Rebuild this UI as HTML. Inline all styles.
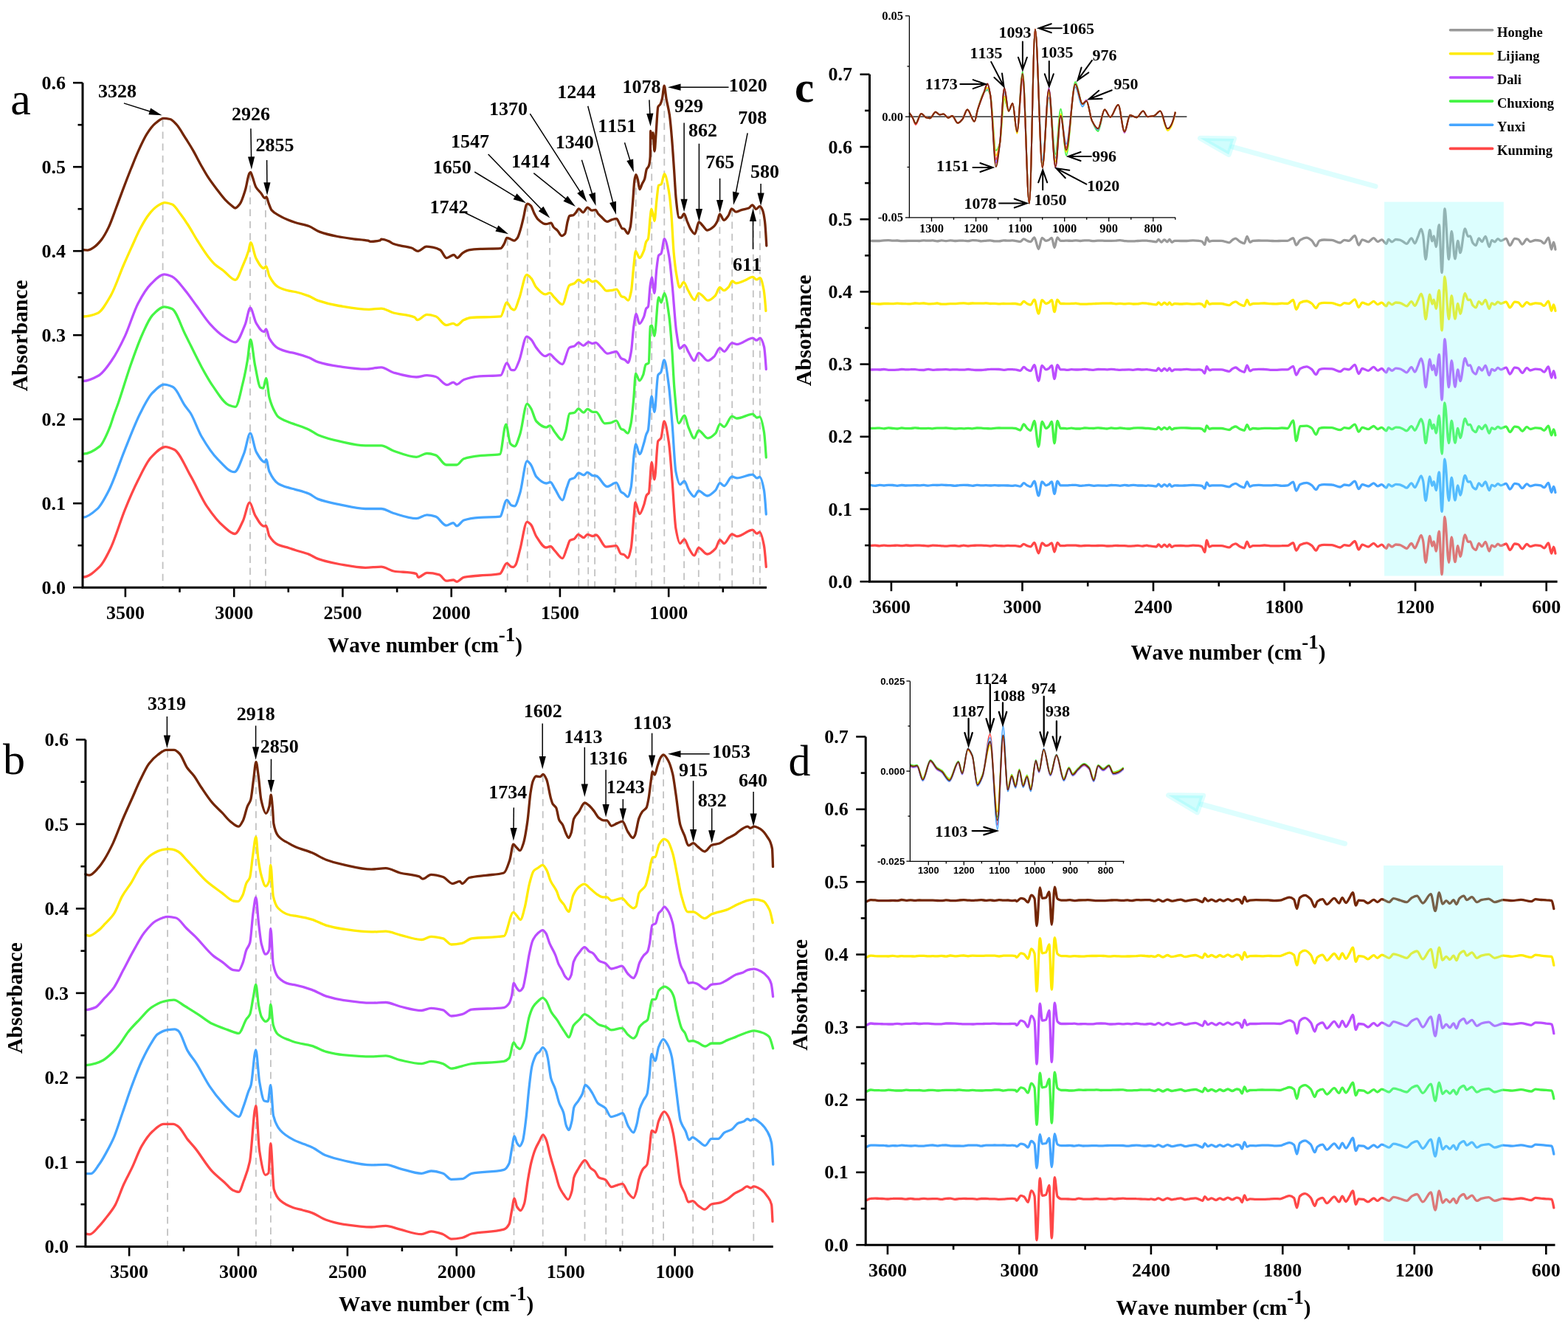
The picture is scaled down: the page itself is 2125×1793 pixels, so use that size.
<!DOCTYPE html>
<html><head><meta charset="utf-8"><title>FTIR spectra</title>
<style>html,body{margin:0;padding:0;background:#fff;}svg{display:block;} text{font-kerning:none;font-feature-settings:"kern" 0;}</style></head>
<body><svg width="2125" height="1793" viewBox="0 0 2125 1793">
<rect width="2125" height="1793" fill="#fff"/>
<line x1="220.6" y1="162.2" x2="220.6" y2="796.2" stroke="#c2c2c2" stroke-width="1.8" stroke-dasharray="9.5,6.7"/>
<line x1="339.0" y1="235.0" x2="339.0" y2="796.2" stroke="#c2c2c2" stroke-width="1.8" stroke-dasharray="9.5,6.7"/>
<line x1="359.9" y1="268.8" x2="359.9" y2="796.2" stroke="#c2c2c2" stroke-width="1.8" stroke-dasharray="9.5,6.7"/>
<line x1="687.7" y1="323.6" x2="687.7" y2="796.2" stroke="#c2c2c2" stroke-width="1.8" stroke-dasharray="9.5,6.7"/>
<line x1="714.8" y1="277.4" x2="714.8" y2="796.2" stroke="#c2c2c2" stroke-width="1.8" stroke-dasharray="9.5,6.7"/>
<line x1="745.1" y1="303.6" x2="745.1" y2="796.2" stroke="#c2c2c2" stroke-width="1.8" stroke-dasharray="9.5,6.7"/>
<line x1="784.3" y1="283.9" x2="784.3" y2="796.2" stroke="#c2c2c2" stroke-width="1.8" stroke-dasharray="9.5,6.7"/>
<line x1="797.2" y1="282.8" x2="797.2" y2="796.2" stroke="#c2c2c2" stroke-width="1.8" stroke-dasharray="9.5,6.7"/>
<line x1="806.1" y1="285.5" x2="806.1" y2="796.2" stroke="#c2c2c2" stroke-width="1.8" stroke-dasharray="9.5,6.7"/>
<line x1="834.3" y1="297.6" x2="834.3" y2="796.2" stroke="#c2c2c2" stroke-width="1.8" stroke-dasharray="9.5,6.7"/>
<line x1="861.7" y1="238.2" x2="861.7" y2="796.2" stroke="#c2c2c2" stroke-width="1.8" stroke-dasharray="9.5,6.7"/>
<line x1="883.2" y1="187.0" x2="883.2" y2="796.2" stroke="#c2c2c2" stroke-width="1.8" stroke-dasharray="9.5,6.7"/>
<line x1="900.3" y1="117.9" x2="900.3" y2="796.2" stroke="#c2c2c2" stroke-width="1.8" stroke-dasharray="9.5,6.7"/>
<line x1="927.1" y1="290.6" x2="927.1" y2="796.2" stroke="#c2c2c2" stroke-width="1.8" stroke-dasharray="9.5,6.7"/>
<line x1="946.8" y1="302.6" x2="946.8" y2="796.2" stroke="#c2c2c2" stroke-width="1.8" stroke-dasharray="9.5,6.7"/>
<line x1="975.4" y1="291.2" x2="975.4" y2="796.2" stroke="#c2c2c2" stroke-width="1.8" stroke-dasharray="9.5,6.7"/>
<line x1="992.2" y1="284.3" x2="992.2" y2="796.2" stroke="#c2c2c2" stroke-width="1.8" stroke-dasharray="9.5,6.7"/>
<line x1="1020.8" y1="280.0" x2="1020.8" y2="796.2" stroke="#c2c2c2" stroke-width="1.8" stroke-dasharray="9.5,6.7"/>
<line x1="1029.9" y1="280.9" x2="1029.9" y2="796.2" stroke="#c2c2c2" stroke-width="1.8" stroke-dasharray="9.5,6.7"/>
<path d="M113.0,782.0C120.4,782.0 127.8,775.0 135.2,767.9C140.1,763.2 145.1,752.9 150.0,742.7C156.4,729.4 162.9,706.5 169.3,690.8C175.2,676.3 181.2,662.5 187.1,650.8C193.0,639.1 199.0,625.8 204.9,619.7C211.3,613.0 217.8,605.6 224.2,605.6C228.1,605.6 232.1,607.4 236.0,609.3C243.4,612.9 250.9,632.1 258.3,644.9C265.7,657.6 273.1,675.6 280.5,686.4C287.9,697.2 295.3,706.9 302.7,713.1C307.9,717.5 313.1,723.5 318.3,723.5C322.0,723.5 325.7,713.3 329.4,705.7C332.4,699.6 335.3,681.2 338.3,681.2C340.8,681.2 343.2,694.2 345.7,698.3C349.7,704.9 353.6,713.1 357.6,713.1C358.6,713.1 359.6,712.3 360.6,712.3C362.1,712.3 363.5,724.0 365.0,726.4C369.0,733.0 372.9,736.4 376.9,738.3C381.8,740.6 386.8,741.1 391.7,742.7C394.5,743.6 397.2,744.6 400.0,745.5C406.3,747.6 412.7,748.9 419.0,751.4C423.0,753.0 427.0,756.0 431.0,757.4C440.5,760.7 450.0,762.8 459.5,764.5C471.4,766.6 483.3,769.3 495.2,769.3C502.4,769.3 509.5,768.1 516.7,768.1C522.2,768.1 527.8,773.0 533.3,774.0C543.6,775.9 554.0,774.6 564.3,777.6C565.1,777.8 565.9,782.4 566.7,782.4C570.7,782.4 574.6,776.4 578.6,776.4C584.1,776.4 589.7,777.3 595.2,778.8C598.4,779.6 601.6,787.1 604.8,787.1C608.0,787.1 611.1,786.0 614.3,786.0C615.9,786.0 617.4,788.3 619.0,788.3C622.2,788.3 625.4,783.1 628.6,782.4C635.7,780.9 642.9,780.7 650.0,780.0C659.1,779.1 668.3,779.4 677.4,777.6C680.6,777.0 683.7,763.3 686.9,763.3C688.9,763.3 690.9,767.7 692.9,768.1C693.9,768.3 694.9,768.5 695.9,768.5C696.9,768.5 697.8,767.0 698.8,765.5C700.8,762.5 702.7,752.1 704.7,744.9C707.9,733.1 711.1,707.3 714.3,707.3C716.0,707.3 717.8,709.2 719.5,711.0C722.0,713.6 724.4,723.4 726.9,727.2C731.3,733.9 735.7,742.0 740.1,742.0C742.1,742.0 744.0,740.5 746.0,740.5C748.0,740.5 749.9,744.4 751.9,746.4C755.3,749.8 758.8,756.7 762.2,756.7C764.2,756.7 766.1,748.1 768.1,743.4C769.6,739.9 771.0,733.4 772.5,732.4C774.5,731.1 776.4,731.3 778.4,730.2C780.1,729.2 781.9,724.3 783.6,724.3C786.1,724.3 788.5,728.7 791.0,728.7C792.7,728.7 794.4,724.3 796.1,724.3C798.6,724.3 801.0,726.5 803.5,726.5C805.0,726.5 806.4,725.0 807.9,725.0C812.3,725.0 816.8,741.2 821.2,741.2C825.9,741.2 830.5,739.7 835.2,739.7C837.4,739.7 839.6,750.1 841.8,750.8C843.0,751.2 844.3,751.1 845.5,751.5C847.2,752.0 849.0,756.0 850.7,756.0C852.2,756.0 853.6,750.1 855.1,743.4C856.6,736.7 858.0,709.4 859.5,694.8C860.0,689.8 860.5,680.8 861.0,680.8C862.9,680.8 864.9,696.5 866.8,696.5C868.7,696.5 870.7,689.7 872.6,684.5C873.9,681.1 875.1,672.9 876.4,671.0C877.4,669.5 878.3,669.8 879.3,668.1C880.6,665.9 881.8,626.7 883.1,626.7C884.4,626.7 885.7,649.8 887.0,649.8C888.6,649.8 890.2,600.6 891.8,597.8C893.1,595.5 894.4,596.1 895.7,593.9C897.2,591.5 898.6,570.8 900.1,570.8C902.2,570.8 904.2,585.2 906.3,598.8C907.9,609.3 909.5,633.3 911.1,652.7C912.7,672.1 914.3,707.3 915.9,716.3C917.8,727.2 919.8,736.5 921.7,736.5C923.6,736.5 925.6,730.8 927.5,730.8C929.4,730.8 931.3,739.2 933.2,742.3C935.8,746.5 938.3,752.9 940.9,752.9C942.8,752.9 944.8,742.3 946.7,742.3C950.6,742.3 954.4,751.0 958.3,751.0C962.1,751.0 966.0,747.4 969.8,743.3C971.7,741.2 973.7,731.7 975.6,731.7C977.5,731.7 979.5,736.5 981.4,736.5C984.9,736.5 988.5,724.0 992.0,724.0C994.3,724.0 996.5,726.9 998.8,726.9C1005.9,726.9 1012.9,718.2 1020.0,718.2C1021.9,718.2 1023.8,723.1 1025.7,723.1C1027.0,723.1 1028.3,721.1 1029.6,721.1C1031.5,721.1 1033.5,729.6 1035.4,739.4C1036.4,744.3 1037.3,756.5 1038.3,768.3" fill="none" stroke="#ff4747" stroke-width="3.3" stroke-linejoin="round" stroke-linecap="round"/>
<path d="M113.0,701.2C119.4,700.8 125.8,695.2 132.2,689.4C137.2,684.9 142.1,675.2 147.1,665.6C154.5,651.3 161.9,627.4 169.3,609.3C176.2,592.3 183.2,573.5 190.1,560.0C195.5,549.4 201.0,538.1 206.4,532.7C211.8,527.3 217.3,521.2 222.7,521.2C226.6,521.2 230.6,522.8 234.5,524.6C239.9,527.1 245.4,542.3 250.8,550.0C253.3,553.6 255.8,556.0 258.3,560.0C263.2,567.9 268.2,583.0 273.1,591.5C280.5,604.2 287.9,615.3 295.3,622.6C302.7,630.0 310.2,639.7 317.6,639.7C322.0,639.7 326.5,624.8 330.9,613.8C333.6,607.0 336.4,587.1 339.1,587.1C341.8,587.1 344.5,607.5 347.2,612.3C351.2,619.3 355.1,626.4 359.1,626.4C359.6,626.4 360.1,622.6 360.6,622.6C362.1,622.6 363.5,635.8 365.0,639.0C369.0,647.6 372.9,652.8 376.9,655.3C381.8,658.4 386.8,659.7 391.7,661.2C394.5,662.0 397.2,662.5 400.0,663.3C406.3,665.1 412.7,666.6 419.0,669.3C423.0,671.0 427.0,674.9 431.0,676.4C440.5,680.0 450.0,681.7 459.5,683.6C471.4,686.0 483.3,689.5 495.2,689.5C502.4,689.5 509.5,689.5 516.7,689.5C522.2,689.5 527.8,693.9 533.3,695.5C543.6,698.5 554.0,702.6 564.3,702.6C569.1,702.6 573.8,697.9 578.6,697.9C582.6,697.9 586.5,699.0 590.5,700.2C595.3,701.7 600.0,712.1 604.8,712.1C608.0,712.1 611.1,708.6 614.3,708.6C615.9,708.6 617.4,712.9 619.0,712.9C622.2,712.9 625.4,706.0 628.6,705.0C635.7,702.8 642.9,701.9 650.0,701.4C659.1,700.7 668.3,701.1 677.4,700.2C680.6,699.9 683.7,677.6 686.9,677.6C688.9,677.6 690.9,684.0 692.9,684.8C694.4,685.4 695.9,685.9 697.4,685.9C699.8,685.9 702.3,675.8 704.7,668.2C707.9,658.2 711.1,624.8 714.3,624.8C716.0,624.8 717.8,627.6 719.5,629.9C722.0,633.2 724.4,643.4 726.9,646.1C731.3,650.9 735.7,655.0 740.1,655.0C742.1,655.0 744.0,653.5 746.0,653.5C748.0,653.5 749.9,659.4 751.9,662.3C755.3,667.4 758.8,677.8 762.2,677.8C764.2,677.8 766.1,666.2 768.1,660.9C769.6,657.0 771.0,650.8 772.5,649.8C774.5,648.5 776.4,648.7 778.4,647.6C780.4,646.5 782.3,641.0 784.3,641.0C786.5,641.0 788.8,643.9 791.0,643.9C792.7,643.9 794.4,640.2 796.1,640.2C798.6,640.2 801.0,644.4 803.5,644.7C805.0,644.9 806.4,644.8 807.9,645.0C812.8,645.5 817.8,659.4 822.7,659.4C826.9,659.4 831.0,654.2 835.2,654.2C837.4,654.2 839.6,664.9 841.8,666.8C843.0,667.9 844.3,668.1 845.5,669.0C847.2,670.2 849.0,673.4 850.7,673.4C852.2,673.4 853.6,667.5 855.1,660.9C856.6,654.3 858.0,623.8 859.5,613.7C860.2,608.6 861.0,601.9 861.7,601.9C863.4,601.9 865.1,615.5 866.8,615.5C868.8,615.5 870.8,606.3 872.8,600.0C873.8,597.0 874.7,591.7 875.7,589.0C876.6,586.6 877.4,586.3 878.3,583.3C879.6,578.8 880.9,548.1 882.2,540.9C882.5,539.2 882.8,537.1 883.1,537.1C884.4,537.1 885.7,558.3 887.0,558.3C888.6,558.3 890.2,511.0 891.8,508.2C893.1,505.9 894.4,506.3 895.7,504.3C897.2,502.0 898.6,487.9 900.1,487.9C902.2,487.9 904.2,506.3 906.3,521.7C907.9,533.6 909.5,556.2 911.1,575.6C912.7,595.0 914.3,631.2 915.9,639.2C917.8,648.8 919.8,656.6 921.7,656.6C923.6,656.6 925.6,651.8 927.5,651.8C929.4,651.8 931.3,661.4 933.2,664.3C935.8,668.2 938.3,673.0 940.9,673.0C942.8,673.0 944.8,665.2 946.7,665.2C950.6,665.2 954.4,672.0 958.3,672.0C962.1,672.0 966.0,668.1 969.8,664.3C971.7,662.4 973.7,654.6 975.6,654.6C977.5,654.6 979.5,658.5 981.4,658.5C984.9,658.5 988.5,646.0 992.0,646.0C994.3,646.0 996.5,647.9 998.8,647.9C1005.9,647.9 1012.9,643.1 1020.0,643.1C1021.9,643.1 1023.8,647.9 1025.7,647.9C1027.0,647.9 1028.3,646.5 1029.6,646.5C1031.5,646.5 1033.5,654.3 1035.4,664.3C1036.4,669.3 1037.3,683.5 1038.3,697.0" fill="none" stroke="#45a5ff" stroke-width="3.3" stroke-linejoin="round" stroke-linecap="round"/>
<path d="M113.0,615.2C120.4,615.2 127.8,610.7 135.2,604.9C139.6,601.4 144.1,590.2 148.5,579.7C150.5,575.0 152.5,567.7 154.5,562.0C156.5,556.4 158.4,551.6 160.4,546.0C165.8,530.5 171.3,511.2 176.7,495.7C182.1,480.2 187.6,464.6 193.0,452.7C197.5,442.9 201.9,432.2 206.4,427.5C211.8,421.8 217.3,415.9 222.7,415.9C226.2,415.9 229.6,417.1 233.1,418.6C239.0,421.1 244.9,441.1 250.8,452.7C258.2,467.3 265.7,483.6 273.1,497.2C278.0,506.2 283.0,515.4 287.9,522.4C295.3,532.9 302.7,546.1 310.1,549.0C313.1,550.2 316.0,551.3 319.0,551.3C322.5,551.3 325.9,531.6 329.4,517.9C331.4,510.0 333.4,499.9 335.4,488.3C336.8,480.4 338.1,460.1 339.5,460.1C341.6,460.1 343.6,485.9 345.7,495.7C348.2,507.4 350.6,524.4 353.1,525.3C354.3,525.8 355.6,526.1 356.8,526.1C358.1,526.1 359.3,512.7 360.6,512.7C362.1,512.7 363.5,533.2 365.0,538.7C367.5,547.9 369.9,553.4 372.4,558.0C373.9,560.8 375.4,563.6 376.9,564.8C381.8,568.9 386.8,570.2 391.7,572.2C394.5,573.3 397.2,574.2 400.0,575.2C406.3,577.5 412.7,579.4 419.0,582.4C423.0,584.3 427.0,587.9 431.0,589.5C440.5,593.4 450.0,595.9 459.5,597.9C471.4,600.4 483.3,603.8 495.2,603.8C502.4,603.8 509.5,603.8 516.7,603.8C522.2,603.8 527.8,609.1 533.3,611.0C543.6,614.5 554.0,619.3 564.3,619.3C569.1,619.3 573.8,614.5 578.6,614.5C582.6,614.5 586.5,615.6 590.5,616.9C595.3,618.4 600.0,630.0 604.8,630.0C609.5,630.0 614.3,630.0 619.0,630.0C622.2,630.0 625.4,622.8 628.6,621.7C635.7,619.3 642.9,618.3 650.0,617.6C659.1,616.7 668.3,617.2 677.4,615.7C680.2,615.2 682.9,575.2 685.7,575.2C687.7,575.2 689.7,599.3 691.7,601.4C693.6,603.4 695.5,604.9 697.4,604.9C699.8,604.9 702.3,595.6 704.7,588.6C707.9,579.3 711.1,547.4 714.3,547.4C716.0,547.4 717.8,550.7 719.5,553.3C722.0,557.0 724.4,568.4 726.9,571.0C731.3,575.6 735.7,579.1 740.1,579.1C741.8,579.1 743.6,576.9 745.3,576.9C747.5,576.9 749.7,583.1 751.9,585.7C755.1,589.5 758.3,596.0 761.5,596.0C763.2,596.0 765.0,589.5 766.7,584.2C768.4,579.0 770.1,561.3 771.8,560.6C774.0,559.7 776.2,560.0 778.4,559.2C780.3,558.5 782.1,554.0 784.0,554.0C786.3,554.0 788.7,559.2 791.0,559.2C792.7,559.2 794.4,554.4 796.1,554.4C798.6,554.4 801.0,558.4 803.5,558.4C805.0,558.4 806.4,558.4 807.9,558.4C811.8,558.4 815.8,573.9 819.7,573.9C822.2,573.9 824.6,573.6 827.1,573.2C829.8,572.8 832.5,570.2 835.2,570.2C837.4,570.2 839.6,580.0 841.8,581.3C843.0,582.0 844.3,582.1 845.5,582.7C847.2,583.6 849.0,587.2 850.7,587.2C852.2,587.2 853.6,580.7 855.1,573.9C856.3,568.2 857.6,553.1 858.8,540.0C859.7,530.4 860.6,506.5 861.5,506.5C863.2,506.5 865.0,515.9 866.7,515.9C868.3,515.9 870.0,512.0 871.6,508.2C872.8,505.5 873.9,495.4 875.1,494.2C876.5,492.8 877.9,493.6 879.3,491.8C880.0,491.0 880.6,443.5 881.3,442.6C882.0,441.7 882.7,441.2 883.4,441.2C884.6,441.2 885.7,455.4 886.9,455.4C888.8,455.4 890.7,403.0 892.6,403.0C893.8,403.0 894.9,410.0 896.1,410.0C897.5,410.0 899.0,397.3 900.4,397.3C902.5,397.3 904.7,413.5 906.8,428.5C908.0,437.2 909.3,453.5 910.5,470.0C911.7,485.6 912.8,514.5 914.0,527.5C915.9,548.7 917.8,573.7 919.7,573.7C922.3,573.7 924.9,563.1 927.5,563.1C929.4,563.1 931.3,575.1 933.2,579.5C935.8,585.4 938.3,593.9 940.9,593.9C942.8,593.9 944.8,583.3 946.7,583.3C950.9,583.3 955.0,593.9 959.2,593.9C962.7,593.9 966.3,590.8 969.8,587.2C971.7,585.2 973.7,574.7 975.6,574.7C977.5,574.7 979.5,578.5 981.4,578.5C984.9,578.5 988.5,564.1 992.0,564.1C994.3,564.1 996.5,567.0 998.8,567.0C1005.9,567.0 1012.9,561.2 1020.0,561.2C1021.9,561.2 1023.8,566.0 1025.7,566.0C1027.0,566.0 1028.3,565.0 1029.6,565.0C1031.5,565.0 1033.5,574.2 1035.4,585.3C1036.4,590.9 1037.3,605.7 1038.3,620.0" fill="none" stroke="#45f545" stroke-width="3.3" stroke-linejoin="round" stroke-linecap="round"/>
<path d="M113.0,516.4C119.9,516.4 126.8,512.8 133.7,509.0C139.6,505.7 145.6,496.8 151.5,488.3C157.4,479.8 163.4,468.2 169.3,455.6C175.2,443.0 181.2,422.3 187.1,411.2C193.0,400.1 199.0,390.2 204.9,384.5C210.8,378.8 216.8,371.9 222.7,371.9C226.2,371.9 229.6,373.3 233.1,374.8C239.0,377.3 244.9,386.4 250.8,393.4C256.3,399.9 261.7,408.2 267.2,415.6C273.1,423.5 279.0,432.9 284.9,439.3C290.8,445.8 296.8,451.8 302.7,455.6C308.1,459.1 313.6,463.8 319.0,463.8C323.5,463.8 327.9,450.2 332.4,439.3C334.6,433.9 336.9,417.1 339.1,417.1C341.8,417.1 344.5,433.6 347.2,437.9C350.7,443.4 354.1,449.7 357.6,449.7C358.6,449.7 359.6,446.0 360.6,446.0C362.1,446.0 363.5,456.1 365.0,458.6C369.0,465.5 372.9,469.9 376.9,472.0C381.8,474.7 386.8,475.9 391.7,477.1C394.5,477.8 397.2,478.1 400.0,478.8C406.3,480.3 412.7,482.3 419.0,484.8C423.0,486.4 427.0,489.5 431.0,490.7C440.5,493.7 450.0,495.4 459.5,496.7C471.4,498.3 483.3,500.2 495.2,500.2C502.4,500.2 509.5,497.9 516.7,497.9C522.2,497.9 527.8,503.5 533.3,505.0C543.6,507.9 554.0,511.0 564.3,511.0C569.1,511.0 573.8,508.6 578.6,508.6C582.6,508.6 586.5,509.5 590.5,510.5C595.7,511.8 600.8,521.7 606.0,521.7C608.8,521.7 611.5,518.1 614.3,518.1C615.9,518.1 617.4,521.0 619.0,521.0C622.2,521.0 625.4,515.6 628.6,514.5C635.7,512.0 642.9,510.3 650.0,509.8C659.5,509.1 669.1,509.6 678.6,508.6C681.4,508.3 684.1,491.9 686.9,491.9C688.9,491.9 690.9,501.1 692.9,501.4C694.2,501.6 695.5,501.7 696.8,501.7C699.1,501.7 701.3,494.1 703.6,488.8C707.0,480.8 710.4,456.1 713.8,456.1C715.8,456.1 717.9,458.3 719.9,460.2C722.2,462.3 724.4,468.3 726.7,471.1C730.8,476.1 734.9,482.7 739.0,482.7C741.0,482.7 743.1,479.9 745.1,479.9C747.1,479.9 749.2,483.7 751.2,485.4C754.8,488.4 758.5,493.5 762.1,493.5C765.3,493.5 768.5,472.8 771.7,471.1C774.0,469.9 776.2,470.1 778.5,469.0C780.3,468.2 782.1,464.3 783.9,464.3C786.2,464.3 788.4,468.4 790.7,468.4C793.0,468.4 795.2,463.6 797.5,463.6C799.3,463.6 801.2,465.6 803.0,465.6C804.4,465.6 805.7,464.3 807.1,464.3C809.8,464.3 812.5,469.3 815.2,471.8C817.9,474.3 820.7,479.2 823.4,479.2C825.2,479.2 827.0,478.3 828.8,477.9C830.9,477.4 832.9,476.5 835.0,476.5C837.5,476.5 839.9,484.9 842.4,486.1C843.8,486.8 845.1,486.8 846.5,487.4C848.1,488.1 849.7,491.5 851.3,491.5C852.7,491.5 854.0,483.9 855.4,476.5C856.5,470.3 857.7,450.1 858.8,442.5C859.9,434.9 861.1,425.5 862.2,425.5C863.7,425.5 865.1,438.7 866.6,438.7C868.6,438.7 870.6,433.8 872.6,429.3C873.7,426.9 874.7,419.5 875.8,418.0C876.7,416.8 877.5,417.1 878.4,415.7C879.4,414.1 880.3,392.0 881.3,385.9C882.0,381.5 882.7,376.0 883.4,376.0C884.6,376.0 885.7,397.3 886.9,397.3C887.9,397.3 888.8,372.7 889.8,364.7C890.7,356.9 891.7,347.6 892.6,346.2C893.8,344.5 894.9,345.0 896.1,343.4C897.5,341.5 899.0,323.6 900.4,323.6C902.5,323.6 904.7,336.0 906.8,347.7C908.2,355.4 909.6,371.9 911.0,385.9C912.9,404.9 914.8,437.0 916.7,449.7C918.3,460.1 919.8,472.4 921.4,472.4C923.4,472.4 925.5,467.7 927.5,467.7C929.4,467.7 931.3,474.3 933.2,477.3C935.8,481.4 938.3,488.9 940.9,488.9C942.8,488.9 944.8,478.3 946.7,478.3C950.9,478.3 955.0,488.9 959.2,488.9C962.1,488.9 965.0,485.8 967.9,483.1C970.5,480.7 973.0,471.6 975.6,471.6C977.5,471.6 979.5,476.4 981.4,476.4C984.9,476.4 988.5,464.8 992.0,464.8C994.3,464.8 996.5,466.7 998.8,466.7C1005.9,466.7 1013.1,458.2 1020.2,458.2C1021.9,458.2 1023.5,461.1 1025.2,461.1C1026.8,461.1 1028.5,458.2 1030.1,458.2C1031.9,458.2 1033.7,463.0 1035.5,470.0C1036.4,473.7 1037.4,487.6 1038.3,500.5" fill="none" stroke="#bb4dff" stroke-width="3.3" stroke-linejoin="round" stroke-linecap="round"/>
<path d="M113.0,429.0C119.4,429.0 125.8,427.1 132.2,424.5C138.1,422.1 144.1,410.9 150.0,400.8C155.8,390.9 161.6,372.9 167.4,359.5C171.2,350.7 175.1,342.1 178.9,333.7C182.7,325.4 186.5,316.3 190.3,309.3C194.1,302.2 198.0,295.3 201.8,290.6C205.6,285.9 209.5,281.6 213.3,279.2C216.6,277.1 220.0,274.6 223.3,274.6C226.7,274.6 230.0,275.7 233.4,277.0C237.2,278.5 241.1,285.6 244.9,290.6C248.2,294.9 251.6,299.9 254.9,305.0C259.2,311.6 263.5,319.7 267.8,326.5C272.6,334.1 277.4,341.8 282.2,348.0C285.1,351.7 287.9,355.4 290.8,358.0C294.8,361.6 298.7,363.7 302.7,366.7C308.1,370.8 313.6,379.3 319.0,379.3C322.5,379.3 325.9,367.0 329.4,359.3C331.9,353.8 334.3,348.1 336.8,340.0C337.7,336.9 338.7,328.7 339.6,328.7C342.0,328.7 344.5,345.6 346.9,350.0C350.5,356.5 354.0,363.7 357.6,363.7C358.6,363.7 359.6,360.8 360.6,360.8C362.1,360.8 363.5,371.3 365.0,374.1C369.0,381.6 372.9,386.7 376.9,388.9C381.8,391.7 386.8,393.0 391.7,394.1C394.5,394.7 397.2,394.9 400.0,395.5C406.3,396.8 412.7,398.9 419.0,401.4C423.0,403.0 427.0,406.0 431.0,407.4C440.5,410.7 450.0,412.9 459.5,414.5C473.0,416.7 486.5,419.3 500.0,419.3C505.6,419.3 511.1,418.1 516.7,418.1C522.2,418.1 527.8,422.5 533.3,424.0C542.8,426.6 552.4,426.0 561.9,430.0C563.1,430.5 564.3,433.6 565.5,433.6C569.9,433.6 574.2,426.4 578.6,426.4C582.6,426.4 586.5,427.5 590.5,428.8C595.3,430.3 600.0,440.7 604.8,440.7C608.0,440.7 611.1,438.3 614.3,438.3C615.9,438.3 617.4,440.7 619.0,440.7C622.2,440.7 625.4,435.0 628.6,433.6C631.8,432.2 634.9,430.8 638.1,430.5C651.6,429.3 665.1,430.2 678.6,428.8C681.4,428.5 684.1,409.8 686.9,409.8C688.9,409.8 690.9,416.7 692.9,418.1C694.2,419.0 695.5,420.0 696.8,420.0C699.1,420.0 701.3,410.3 703.6,404.4C707.0,395.5 710.4,372.4 713.8,372.4C715.8,372.4 717.9,375.0 719.9,377.2C722.2,379.7 724.4,386.9 726.7,389.4C730.8,394.0 734.9,398.9 739.0,398.9C741.0,398.9 743.1,396.9 745.1,396.9C747.1,396.9 749.2,401.1 751.2,403.0C754.8,406.4 758.5,412.6 762.1,412.6C765.3,412.6 768.5,388.8 771.7,386.7C774.0,385.2 776.2,385.3 778.5,384.0C780.3,383.0 782.1,379.2 783.9,379.2C786.2,379.2 788.4,383.3 790.7,383.3C793.0,383.3 795.2,378.5 797.5,378.5C799.3,378.5 801.2,381.9 803.0,381.9C804.4,381.9 805.7,380.6 807.1,380.6C809.8,380.6 812.5,384.9 815.2,387.4C817.5,389.5 819.7,394.2 822.0,394.2C824.3,394.2 826.5,393.8 828.8,393.5C831.1,393.2 833.3,392.1 835.6,392.1C837.9,392.1 840.1,400.6 842.4,401.7C843.8,402.4 845.1,402.4 846.5,403.0C848.1,403.7 849.7,407.1 851.3,407.1C852.7,407.1 854.0,401.3 855.4,394.9C856.5,389.6 857.7,370.5 858.8,360.8C859.7,353.1 860.6,340.4 861.5,340.4C863.2,340.4 864.9,349.5 866.6,349.5C868.6,349.5 870.6,344.6 872.6,339.7C873.6,337.3 874.6,330.0 875.6,327.8C876.5,325.8 877.5,326.0 878.4,323.6C879.4,321.1 880.3,302.1 881.3,293.8C881.8,289.8 882.2,283.2 882.7,283.2C883.4,283.2 884.1,286.9 884.8,289.5C885.5,292.1 886.2,299.5 886.9,299.5C887.9,299.5 888.8,280.6 889.8,272.5C890.7,264.7 891.7,252.1 892.6,251.3C893.8,250.3 894.9,250.7 896.1,249.8C897.5,248.7 899.0,235.7 900.4,235.7C902.5,235.7 904.7,248.7 906.8,261.2C907.7,266.7 908.7,276.0 909.6,286.7C910.8,300.4 912.0,330.6 913.2,343.4C914.4,355.9 915.5,365.4 916.7,371.8C918.1,379.7 919.6,389.5 921.0,389.5C922.9,389.5 924.7,382.4 926.6,382.4C928.5,382.4 930.4,389.9 932.3,393.0C935.4,398.1 938.4,406.5 941.5,406.5C943.3,406.5 945.0,397.3 946.8,397.3C948.6,397.3 950.3,399.5 952.1,400.8C954.5,402.6 956.8,407.2 959.2,407.2C962.5,407.2 965.9,404.1 969.2,400.8C971.3,398.7 973.4,389.5 975.5,389.5C977.4,389.5 979.3,393.7 981.2,393.7C983.3,393.7 985.5,391.0 987.6,388.8C989.2,387.1 990.9,381.0 992.5,381.0C994.2,381.0 995.8,383.8 997.5,383.8C1001.3,383.8 1005.1,381.7 1008.9,380.3C1012.7,378.9 1016.4,375.3 1020.2,375.3C1021.9,375.3 1023.5,378.9 1025.2,378.9C1026.8,378.9 1028.5,376.7 1030.1,376.7C1031.8,376.7 1033.4,384.4 1035.1,393.0C1036.0,397.8 1037.0,409.6 1037.9,421.4" fill="none" stroke="#ffeb00" stroke-width="3.3" stroke-linejoin="round" stroke-linecap="round"/>
<path d="M112.9,338.7C114.8,339.1 116.7,339.1 118.6,339.1C121.5,339.1 124.3,336.9 127.2,335.1C130.6,333.0 133.9,329.3 137.3,325.1C140.6,320.9 144.0,314.8 147.3,307.9C150.6,301.0 154.0,290.8 157.3,282.0C160.7,273.1 164.0,263.7 167.4,254.8C170.7,246.0 174.1,237.3 177.4,229.0C180.8,220.6 184.1,212.0 187.5,204.6C191.3,196.2 195.2,187.5 199.0,181.6C202.8,175.7 206.6,170.4 210.4,167.3C214.2,164.2 218.1,160.4 221.9,160.4C224.8,160.4 227.6,160.9 230.5,161.5C233.4,162.1 236.2,165.7 239.1,168.7C242.9,172.8 246.8,179.9 250.6,185.9C254.4,191.9 258.3,197.9 262.1,204.6C265.4,210.4 268.8,217.3 272.1,223.2C275.5,229.2 278.8,235.2 282.2,240.4C286.0,246.2 289.8,251.2 293.6,256.2C297.4,261.2 301.3,266.6 305.1,270.6C308.0,273.6 310.8,276.3 313.7,278.5C315.4,279.8 317.1,282.0 318.8,282.0C320.9,282.0 323.1,279.1 325.2,276.3C327.6,273.1 330.0,265.2 332.4,257.6C334.3,251.6 336.2,236.9 338.1,234.7C338.6,234.1 339.1,233.5 339.6,233.5C340.5,233.5 341.5,237.9 342.4,240.4C343.8,244.3 345.3,250.7 346.7,253.3C349.1,257.6 351.5,259.0 353.9,262.0C355.6,264.1 357.2,268.4 358.9,268.4C359.6,268.4 360.4,267.0 361.1,267.0C362.0,267.0 363.0,272.5 363.9,274.9C365.3,278.6 366.8,283.2 368.2,284.9C371.6,288.9 374.9,290.1 378.3,292.1C382.1,294.4 386.0,296.2 389.8,297.8C393.2,299.2 396.6,300.4 400.0,301.5C406.2,303.4 412.5,304.2 418.7,306.5C423.5,308.2 428.2,312.4 433.0,314.1C441.1,317.0 449.3,318.9 457.4,320.5C464.6,321.9 471.7,322.8 478.9,323.8C485.6,324.7 492.3,324.8 499.0,326.2C500.0,326.4 500.9,327.3 501.9,327.3C506.2,327.3 510.5,326.9 514.8,325.9C515.5,325.7 516.2,324.2 516.9,324.2C520.0,324.2 523.2,325.5 526.3,326.6C528.7,327.4 531.0,329.7 533.4,330.5C536.8,331.7 540.1,332.3 543.5,333.1C548.3,334.2 553.0,334.6 557.8,336.0C560.7,336.9 563.5,340.3 566.4,340.3C570.2,340.3 574.1,334.2 577.9,334.2C580.8,334.2 583.6,334.7 586.5,335.2C589.9,335.8 593.2,336.9 596.6,338.8C599.5,340.4 602.3,349.6 605.2,349.6C608.5,349.6 611.9,345.3 615.2,345.3C616.6,345.3 618.1,349.6 619.5,349.6C621.9,349.6 624.3,344.7 626.7,343.1C629.6,341.2 632.4,339.3 635.3,338.8C640.6,337.9 645.8,337.6 651.1,337.4C660.2,337.0 669.2,337.3 678.3,336.7C680.0,336.6 681.7,333.0 683.4,330.2C684.6,328.3 685.7,322.3 686.9,322.3C688.8,322.3 690.8,323.8 692.7,324.5C694.1,325.0 695.5,326.1 696.9,326.1C698.3,326.1 699.8,324.4 701.2,322.6C702.6,320.8 704.1,315.3 705.5,310.6C706.9,305.9 708.4,299.5 709.8,293.4C710.9,288.6 712.1,279.6 713.2,277.9C713.8,277.0 714.4,276.2 715.0,276.2C716.4,276.2 717.9,277.4 719.3,278.7C721.0,280.2 722.7,286.8 724.4,289.9C725.8,292.5 727.3,295.4 728.7,296.8C732.4,300.4 736.2,303.7 739.9,303.7C742.2,303.7 744.5,302.2 746.8,302.2C748.0,302.2 749.1,306.7 750.3,308.0C752.0,309.9 753.7,310.6 755.4,312.3C757.4,314.3 759.4,319.6 761.4,319.6C762.9,319.6 764.3,318.4 765.8,316.6C766.9,315.2 768.1,304.4 769.2,300.3C770.1,297.1 770.9,292.8 771.8,292.5C773.5,291.9 775.2,292.1 776.9,291.6C778.1,291.2 779.2,289.5 780.4,288.2C781.7,286.7 783.0,282.9 784.3,282.9C786.3,282.9 788.3,287.8 790.3,287.8C792.3,287.8 794.3,281.1 796.3,281.1C798.2,281.1 800.0,285.2 801.9,285.2C803.6,285.2 805.4,284.3 807.1,284.3C808.2,284.3 809.4,288.1 810.5,289.5C811.9,291.2 813.4,292.5 814.8,293.8C817.4,296.2 820.0,300.3 822.6,300.3C824.9,300.3 827.1,298.3 829.4,297.7C831.4,297.1 833.5,296.4 835.5,296.4C836.9,296.4 838.4,301.2 839.8,303.7C840.9,305.7 842.1,309.3 843.2,309.7C844.1,310.0 844.9,309.9 845.8,310.2C847.5,310.7 849.3,316.6 851.0,316.6C852.1,316.6 853.3,312.1 854.4,307.1C855.4,302.5 856.5,286.5 857.5,274.7C858.3,265.2 859.2,248.1 860.0,243.5C860.6,240.0 861.3,236.6 861.9,236.6C862.7,236.6 863.6,240.5 864.4,243.5C865.2,246.5 866.1,256.6 866.9,256.6C867.9,256.6 869.0,251.9 870.0,249.7C871.2,247.1 872.5,245.9 873.7,242.2C874.5,239.7 875.4,231.7 876.2,229.7C877.2,227.2 878.3,227.6 879.3,224.8C879.9,223.1 880.6,221.4 881.2,212.3C881.4,209.9 881.5,177.5 881.7,177.5C882.3,177.5 882.8,187.0 883.4,187.0C883.9,187.0 884.5,180.0 885.0,180.0C885.7,180.0 886.3,205.0 887.0,205.0C887.8,205.0 888.5,186.9 889.3,177.3C890.1,166.9 891.0,146.8 891.8,144.9C892.8,142.6 893.9,143.0 894.9,141.2C895.7,139.8 896.6,137.1 897.4,133.7C898.3,129.9 899.3,116.2 900.2,116.2C901.1,116.2 902.1,128.4 903.0,133.7C904.5,142.0 905.9,146.0 907.4,156.1C908.4,163.2 909.5,175.2 910.5,187.3C911.5,199.4 912.6,216.0 913.6,231.0C914.4,243.1 915.3,260.3 916.1,268.4C917.4,280.7 918.6,294.1 919.9,294.6C920.9,295.0 922.0,295.2 923.0,295.2C924.4,295.2 925.7,289.6 927.1,289.6C928.4,289.6 929.8,296.4 931.1,299.6C932.8,303.5 934.4,308.3 936.1,310.8C938.0,313.6 939.8,317.1 941.7,317.1C943.5,317.1 945.3,300.8 947.1,300.8C948.8,300.8 950.6,304.1 952.3,305.8C954.4,307.8 956.4,312.1 958.5,312.1C961.4,312.1 964.4,309.6 967.3,307.1C969.0,305.7 970.6,303.0 972.3,299.6C973.3,297.5 974.4,290.2 975.4,290.2C977.3,290.2 979.1,298.4 981.0,298.4C983.1,298.4 985.1,295.0 987.2,292.1C988.7,290.0 990.1,282.8 991.6,282.8C993.5,282.8 995.3,287.1 997.2,287.1C999.7,287.1 1002.2,285.3 1004.7,284.6C1008.0,283.6 1011.4,283.5 1014.7,282.1C1016.4,281.4 1018.0,277.8 1019.7,277.8C1021.4,277.8 1023.0,283.4 1024.7,283.4C1026.4,283.4 1028.0,279.6 1029.7,279.6C1030.9,279.6 1032.2,281.9 1033.4,284.6C1034.4,286.8 1035.5,292.2 1036.5,300.0C1037.3,305.8 1038.0,318.9 1038.8,333.0" fill="none" stroke="#732605" stroke-width="3.3" stroke-linejoin="round" stroke-linecap="round"/>
<path d="M112.0,112.2 L112.0,796.2 L1039.0,796.2" fill="none" stroke="#000" stroke-width="3"/>
<line x1="99.0" y1="796.2" x2="112.0" y2="796.2" stroke="#000" stroke-width="2.6"/>
<text x="89.0" y="804.8" font-size="26.0" text-anchor="end" font-weight="bold" font-family="'Liberation Serif','Times New Roman',serif">0.0</text>
<line x1="105.5" y1="739.2" x2="112.0" y2="739.2" stroke="#000" stroke-width="2.6"/>
<line x1="99.0" y1="682.2" x2="112.0" y2="682.2" stroke="#000" stroke-width="2.6"/>
<text x="89.0" y="690.8" font-size="26.0" text-anchor="end" font-weight="bold" font-family="'Liberation Serif','Times New Roman',serif">0.1</text>
<line x1="105.5" y1="625.2" x2="112.0" y2="625.2" stroke="#000" stroke-width="2.6"/>
<line x1="99.0" y1="568.2" x2="112.0" y2="568.2" stroke="#000" stroke-width="2.6"/>
<text x="89.0" y="576.8" font-size="26.0" text-anchor="end" font-weight="bold" font-family="'Liberation Serif','Times New Roman',serif">0.2</text>
<line x1="105.5" y1="511.2" x2="112.0" y2="511.2" stroke="#000" stroke-width="2.6"/>
<line x1="99.0" y1="454.2" x2="112.0" y2="454.2" stroke="#000" stroke-width="2.6"/>
<text x="89.0" y="462.8" font-size="26.0" text-anchor="end" font-weight="bold" font-family="'Liberation Serif','Times New Roman',serif">0.3</text>
<line x1="105.5" y1="397.2" x2="112.0" y2="397.2" stroke="#000" stroke-width="2.6"/>
<line x1="99.0" y1="340.2" x2="112.0" y2="340.2" stroke="#000" stroke-width="2.6"/>
<text x="89.0" y="348.8" font-size="26.0" text-anchor="end" font-weight="bold" font-family="'Liberation Serif','Times New Roman',serif">0.4</text>
<line x1="105.5" y1="283.2" x2="112.0" y2="283.2" stroke="#000" stroke-width="2.6"/>
<line x1="99.0" y1="226.2" x2="112.0" y2="226.2" stroke="#000" stroke-width="2.6"/>
<text x="89.0" y="234.8" font-size="26.0" text-anchor="end" font-weight="bold" font-family="'Liberation Serif','Times New Roman',serif">0.5</text>
<line x1="105.5" y1="169.2" x2="112.0" y2="169.2" stroke="#000" stroke-width="2.6"/>
<line x1="99.0" y1="112.2" x2="112.0" y2="112.2" stroke="#000" stroke-width="2.6"/>
<text x="89.0" y="120.8" font-size="26.0" text-anchor="end" font-weight="bold" font-family="'Liberation Serif','Times New Roman',serif">0.6</text>
<line x1="169.9" y1="796.2" x2="169.9" y2="809.2" stroke="#000" stroke-width="2.6"/>
<text x="169.9" y="839.1" font-size="26.0" text-anchor="middle" font-weight="bold" font-family="'Liberation Serif','Times New Roman',serif">3500</text>
<line x1="243.5" y1="796.2" x2="243.5" y2="802.7" stroke="#000" stroke-width="2.6"/>
<line x1="317.2" y1="796.2" x2="317.2" y2="809.2" stroke="#000" stroke-width="2.6"/>
<text x="317.2" y="839.1" font-size="26.0" text-anchor="middle" font-weight="bold" font-family="'Liberation Serif','Times New Roman',serif">3000</text>
<line x1="390.8" y1="796.2" x2="390.8" y2="802.7" stroke="#000" stroke-width="2.6"/>
<line x1="464.4" y1="796.2" x2="464.4" y2="809.2" stroke="#000" stroke-width="2.6"/>
<text x="464.4" y="839.1" font-size="26.0" text-anchor="middle" font-weight="bold" font-family="'Liberation Serif','Times New Roman',serif">2500</text>
<line x1="538.1" y1="796.2" x2="538.1" y2="802.7" stroke="#000" stroke-width="2.6"/>
<line x1="611.7" y1="796.2" x2="611.7" y2="809.2" stroke="#000" stroke-width="2.6"/>
<text x="611.7" y="839.1" font-size="26.0" text-anchor="middle" font-weight="bold" font-family="'Liberation Serif','Times New Roman',serif">2000</text>
<line x1="685.3" y1="796.2" x2="685.3" y2="802.7" stroke="#000" stroke-width="2.6"/>
<line x1="758.9" y1="796.2" x2="758.9" y2="809.2" stroke="#000" stroke-width="2.6"/>
<text x="758.9" y="839.1" font-size="26.0" text-anchor="middle" font-weight="bold" font-family="'Liberation Serif','Times New Roman',serif">1500</text>
<line x1="832.6" y1="796.2" x2="832.6" y2="802.7" stroke="#000" stroke-width="2.6"/>
<line x1="906.2" y1="796.2" x2="906.2" y2="809.2" stroke="#000" stroke-width="2.6"/>
<text x="906.2" y="839.1" font-size="26.0" text-anchor="middle" font-weight="bold" font-family="'Liberation Serif','Times New Roman',serif">1000</text>
<line x1="979.8" y1="796.2" x2="979.8" y2="802.7" stroke="#000" stroke-width="2.6"/>
<text x="36.9" y="454.8" font-size="29.5" text-anchor="middle" font-weight="bold" font-family="'Liberation Serif','Times New Roman',serif" transform="rotate(-90 36.9 454.8)">Absorbance</text>
<text x="444" y="883.8" font-size="29.2" font-weight="bold" font-family="'Liberation Serif','Times New Roman',serif">Wave number (cm<tspan dy="-14.5" font-size="27">-1</tspan><tspan dy="14.5">)</tspan></text>
<text x="28.0" y="155.0" font-size="62.0" text-anchor="middle" font-weight="normal" font-family="'Liberation Serif','Times New Roman',serif">a</text>
<text x="159.1" y="131.7" font-size="26.0" text-anchor="middle" font-weight="bold" font-family="'Liberation Serif','Times New Roman',serif">3328</text>
<text x="340.1" y="162.6" font-size="26.0" text-anchor="middle" font-weight="bold" font-family="'Liberation Serif','Times New Roman',serif">2926</text>
<text x="372.6" y="204.7" font-size="26.0" text-anchor="middle" font-weight="bold" font-family="'Liberation Serif','Times New Roman',serif">2855</text>
<text x="608.4" y="288.5" font-size="26.0" text-anchor="middle" font-weight="bold" font-family="'Liberation Serif','Times New Roman',serif">1742</text>
<text x="612.8" y="234.7" font-size="26.0" text-anchor="middle" font-weight="bold" font-family="'Liberation Serif','Times New Roman',serif">1650</text>
<text x="637.1" y="200.0" font-size="26.0" text-anchor="middle" font-weight="bold" font-family="'Liberation Serif','Times New Roman',serif">1547</text>
<text x="719.0" y="226.8" font-size="26.0" text-anchor="middle" font-weight="bold" font-family="'Liberation Serif','Times New Roman',serif">1414</text>
<text x="689.1" y="155.8" font-size="26.0" text-anchor="middle" font-weight="bold" font-family="'Liberation Serif','Times New Roman',serif">1370</text>
<text x="778.8" y="200.5" font-size="26.0" text-anchor="middle" font-weight="bold" font-family="'Liberation Serif','Times New Roman',serif">1340</text>
<text x="781.2" y="133.0" font-size="26.0" text-anchor="middle" font-weight="bold" font-family="'Liberation Serif','Times New Roman',serif">1244</text>
<text x="836.2" y="178.5" font-size="26.0" text-anchor="middle" font-weight="bold" font-family="'Liberation Serif','Times New Roman',serif">1151</text>
<text x="869.4" y="125.9" font-size="26.0" text-anchor="middle" font-weight="bold" font-family="'Liberation Serif','Times New Roman',serif">1078</text>
<text x="1013.7" y="123.5" font-size="26.0" text-anchor="middle" font-weight="bold" font-family="'Liberation Serif','Times New Roman',serif">1020</text>
<text x="933.6" y="151.7" font-size="26.0" text-anchor="middle" font-weight="bold" font-family="'Liberation Serif','Times New Roman',serif">929</text>
<text x="952.5" y="185.2" font-size="26.0" text-anchor="middle" font-weight="bold" font-family="'Liberation Serif','Times New Roman',serif">862</text>
<text x="975.7" y="227.5" font-size="26.0" text-anchor="middle" font-weight="bold" font-family="'Liberation Serif','Times New Roman',serif">765</text>
<text x="1019.7" y="168.4" font-size="26.0" text-anchor="middle" font-weight="bold" font-family="'Liberation Serif','Times New Roman',serif">708</text>
<text x="1036.5" y="240.6" font-size="26.0" text-anchor="middle" font-weight="bold" font-family="'Liberation Serif','Times New Roman',serif">580</text>
<text x="1012.4" y="366.8" font-size="26.0" text-anchor="middle" font-weight="bold" font-family="'Liberation Serif','Times New Roman',serif">611</text>
<line x1="167.9" y1="139.9" x2="204.7" y2="151.5" stroke="#000" stroke-width="1.5"/><polygon points="219.5,156.2 201.4,155.3 204.2,146.5" fill="#000"/>
<line x1="339.9" y1="174.3" x2="340.6" y2="214.3" stroke="#000" stroke-width="1.5"/><polygon points="340.9,229.8 336.0,212.4 345.2,212.2" fill="#000"/>
<line x1="361.6" y1="216.9" x2="361.9" y2="249.2" stroke="#000" stroke-width="1.5"/><polygon points="362.1,264.7 357.3,247.2 366.5,247.2" fill="#000"/>
<line x1="630.5" y1="288.5" x2="675.2" y2="310.4" stroke="#000" stroke-width="1.5"/><polygon points="689.1,317.2 671.4,313.6 675.4,305.4" fill="#000"/>
<line x1="643.2" y1="233.0" x2="699.7" y2="267.3" stroke="#000" stroke-width="1.5"/><polygon points="713.0,275.3 695.6,270.2 700.4,262.3" fill="#000"/>
<line x1="661.6" y1="209.1" x2="734.5" y2="284.5" stroke="#000" stroke-width="1.5"/><polygon points="745.3,295.6 729.8,286.2 736.4,279.8" fill="#000"/>
<line x1="723.3" y1="234.7" x2="767.9" y2="270.4" stroke="#000" stroke-width="1.5"/><polygon points="780.0,280.1 763.5,272.8 769.2,265.6" fill="#000"/>
<line x1="718.3" y1="154.1" x2="787.1" y2="261.1" stroke="#000" stroke-width="1.5"/><polygon points="795.5,274.1 782.2,261.9 789.9,256.9" fill="#000"/>
<line x1="788.4" y1="216.7" x2="803.0" y2="264.1" stroke="#000" stroke-width="1.5"/><polygon points="807.5,278.9 798.0,263.5 806.8,260.8" fill="#000"/>
<line x1="796.7" y1="143.8" x2="831.1" y2="275.9" stroke="#000" stroke-width="1.5"/><polygon points="835.0,290.9 826.1,275.1 835.0,272.8" fill="#000"/>
<line x1="846.5" y1="193.3" x2="854.3" y2="218.7" stroke="#000" stroke-width="1.5"/><polygon points="858.9,233.5 849.3,218.1 858.1,215.4" fill="#000"/>
<line x1="879.9" y1="135.4" x2="880.9" y2="155.8" stroke="#000" stroke-width="1.5"/><polygon points="881.6,171.3 876.2,154.0 885.4,153.6" fill="#000"/>
<line x1="987.5" y1="118.2" x2="920.5" y2="118.2" stroke="#000" stroke-width="1.5"/><polygon points="905.0,118.2 922.5,113.6 922.5,122.8" fill="#000"/>
<line x1="927.1" y1="166.5" x2="927.1" y2="271.8" stroke="#000" stroke-width="1.5"/><polygon points="927.1,287.3 922.5,269.8 931.7,269.8" fill="#000"/>
<line x1="947.4" y1="194.7" x2="947.4" y2="284.9" stroke="#000" stroke-width="1.5"/><polygon points="947.4,300.4 942.8,282.9 952.0,282.9" fill="#000"/>
<line x1="975.6" y1="241.8" x2="975.6" y2="273.0" stroke="#000" stroke-width="1.5"/><polygon points="975.6,288.5 971.0,271.0 980.2,271.0" fill="#000"/>
<line x1="1013.1" y1="180.4" x2="997.0" y2="262.5" stroke="#000" stroke-width="1.5"/><polygon points="994.0,277.7 992.9,259.6 1001.9,261.4" fill="#000"/>
<line x1="1031.1" y1="249.0" x2="1031.1" y2="263.4" stroke="#000" stroke-width="1.5"/><polygon points="1031.1,278.9 1026.5,261.4 1035.7,261.4" fill="#000"/>
<line x1="1020.5" y1="337.7" x2="1020.5" y2="298.0" stroke="#000" stroke-width="1.5"/><polygon points="1020.5,282.5 1025.1,300.0 1015.9,300.0" fill="#000"/>
<path d="M1180.0,739.4C1182.0,739.2 1184.0,739.2 1186.0,739.2C1188.0,739.2 1190.0,739.8 1192.0,739.8C1194.0,739.8 1196.0,739.1 1198.0,739.1C1200.0,739.1 1202.0,739.6 1204.0,739.6C1206.0,739.6 1208.0,739.5 1210.0,739.4C1212.0,739.4 1214.0,739.1 1216.0,739.1C1218.0,739.1 1220.0,739.6 1222.0,739.6C1224.0,739.6 1226.0,739.0 1228.0,739.0C1230.0,739.0 1232.0,739.5 1234.0,739.5C1236.0,739.5 1238.0,739.1 1240.0,739.1C1242.0,739.1 1244.0,739.1 1246.0,739.1C1248.0,739.1 1250.0,739.4 1252.0,739.5C1254.0,739.7 1256.0,740.0 1258.0,740.0C1260.0,740.0 1262.0,739.1 1264.0,739.1C1266.0,739.1 1268.0,739.2 1270.0,739.3C1272.0,739.3 1274.0,739.6 1276.0,739.8C1278.0,739.9 1280.0,740.1 1282.0,740.1C1284.0,740.1 1286.0,739.8 1288.0,739.7C1290.0,739.6 1292.0,739.5 1294.0,739.5C1296.0,739.5 1298.0,740.2 1300.0,740.2C1302.0,740.2 1304.0,739.1 1306.0,739.1C1308.0,739.1 1310.0,740.0 1312.0,740.0C1314.0,740.0 1316.0,739.4 1318.0,739.3C1320.0,739.3 1322.0,739.2 1324.0,739.2C1326.0,739.2 1328.0,739.1 1330.0,739.1C1332.0,739.1 1334.0,739.3 1336.0,739.4C1338.0,739.5 1340.0,740.0 1342.0,740.0C1344.0,740.0 1346.0,739.2 1348.0,739.2C1350.0,739.2 1352.0,739.7 1354.0,739.7C1356.0,739.7 1358.0,739.8 1360.0,739.8C1362.0,739.8 1364.0,739.4 1366.0,739.4C1368.0,739.4 1370.0,739.7 1372.0,739.7C1373.3,739.7 1374.7,739.6 1376.0,739.6C1378.3,739.6 1380.5,740.6 1382.8,740.6C1384.3,740.6 1385.9,737.3 1387.4,737.3C1388.9,737.3 1390.5,739.1 1392.0,739.6C1393.6,740.1 1395.1,740.8 1396.7,740.8C1398.4,740.8 1400.1,735.5 1401.8,735.5C1403.7,735.5 1405.6,749.9 1407.5,749.9C1409.1,749.9 1410.6,735.9 1412.2,735.9C1414.0,735.9 1415.7,739.6 1417.5,739.6C1418.8,739.6 1420.0,739.1 1421.3,738.6C1422.7,738.0 1424.0,735.9 1425.4,735.9C1426.6,735.9 1427.8,748.0 1429.0,748.0C1430.3,748.0 1431.7,735.5 1433.0,735.5C1434.4,735.5 1435.8,739.6 1437.2,739.6C1438.8,739.6 1440.4,739.6 1442.0,739.6C1443.3,739.6 1444.7,739.1 1446.0,739.1C1448.0,739.1 1450.0,739.1 1452.0,739.1C1454.0,739.1 1456.0,739.2 1458.0,739.2C1460.0,739.3 1462.0,739.8 1464.0,739.8C1466.0,739.8 1468.0,739.6 1470.0,739.5C1472.0,739.5 1474.0,739.4 1476.0,739.4C1478.0,739.4 1480.0,739.7 1482.0,739.7C1484.0,739.7 1486.0,739.6 1488.0,739.5C1490.0,739.5 1492.0,739.4 1494.0,739.4C1496.0,739.4 1498.0,740.0 1500.0,740.0C1502.0,740.0 1504.0,739.9 1506.0,739.8C1508.0,739.8 1510.0,739.3 1512.0,739.3C1514.0,739.3 1516.0,739.7 1518.0,739.7C1520.0,739.7 1522.0,739.6 1524.0,739.6C1526.0,739.6 1528.0,740.1 1530.0,740.1C1532.0,740.1 1534.0,740.0 1536.0,739.9C1538.0,739.8 1540.0,739.3 1542.0,739.3C1544.0,739.3 1546.0,740.2 1548.0,740.2C1550.0,740.2 1552.0,739.1 1554.0,739.1C1554.7,739.1 1555.3,739.5 1556.0,739.6C1559.7,740.2 1563.5,741.0 1567.2,741.0C1568.1,741.0 1569.1,737.8 1570.0,737.8C1571.3,737.8 1572.7,741.4 1574.0,741.4C1575.3,741.4 1576.7,738.2 1578.0,738.2C1579.3,738.2 1580.7,741.0 1582.0,741.0C1583.0,741.0 1584.0,737.8 1585.0,737.8C1586.0,737.8 1587.0,741.4 1588.0,741.4C1589.3,741.4 1590.7,739.6 1592.0,739.6C1594.8,739.5 1597.5,739.5 1600.2,739.5C1603.0,739.5 1605.8,739.9 1608.5,739.9C1611.2,739.9 1614.0,739.2 1616.8,739.2C1619.5,739.2 1622.2,739.3 1625.0,739.6C1626.3,739.7 1627.7,740.3 1629.0,741.2C1630.2,742.1 1631.5,748.3 1632.7,748.3C1633.6,748.3 1634.5,732.1 1635.4,732.1C1636.6,732.1 1637.8,741.2 1639.0,741.2C1640.3,741.2 1641.7,739.6 1643.0,739.6C1647.0,739.6 1651.0,739.6 1655.0,739.6C1658.7,739.6 1662.3,741.9 1666.0,741.9C1667.3,741.9 1668.7,739.4 1670.0,738.7C1671.5,737.9 1673.0,736.8 1674.5,736.8C1676.3,736.8 1678.2,739.6 1680.0,740.5C1682.1,741.5 1684.2,742.8 1686.3,742.8C1687.5,742.8 1688.8,734.2 1690.0,734.2C1691.3,734.2 1692.7,741.4 1694.0,741.4C1695.3,741.4 1696.7,739.6 1698.0,739.6C1700.6,739.6 1703.2,739.6 1705.8,739.6C1708.4,739.6 1711.1,739.0 1713.7,739.0C1716.3,739.0 1718.9,739.7 1721.5,739.8C1724.1,739.9 1726.7,739.9 1729.3,739.9C1731.9,739.9 1734.6,739.7 1737.2,739.7C1739.8,739.6 1742.4,739.7 1745.0,739.6C1747.5,739.5 1750.1,735.6 1752.6,735.6C1753.9,735.6 1755.3,746.0 1756.6,746.0C1758.4,746.0 1760.2,739.5 1762.0,738.5C1764.9,737.0 1767.9,735.8 1770.8,735.8C1773.2,735.8 1775.6,737.8 1778.0,739.6C1779.8,741.0 1781.7,746.1 1783.5,746.1C1785.0,746.1 1786.5,740.1 1788.0,739.6C1790.1,738.9 1792.3,738.4 1794.4,738.4C1797.9,738.4 1801.5,738.5 1805.0,738.7C1808.7,738.9 1812.5,742.0 1816.2,742.0C1818.1,742.0 1820.1,738.7 1822.0,738.7C1824.0,738.7 1826.0,739.6 1828.0,739.6C1830.7,739.6 1833.5,733.5 1836.2,733.5C1837.9,733.5 1839.6,744.9 1841.3,744.9C1842.9,744.9 1844.6,738.2 1846.2,738.2C1848.9,738.2 1851.7,741.0 1854.4,741.0C1856.8,741.0 1859.2,736.3 1861.6,736.3C1863.4,736.3 1865.3,740.8 1867.1,740.8C1868.9,740.8 1870.7,738.2 1872.5,738.2C1874.6,738.2 1876.7,743.3 1878.8,743.3C1879.8,743.3 1880.7,738.0 1881.7,738.0C1883.3,738.0 1884.8,741.0 1886.4,741.0C1888.2,741.0 1889.9,738.0 1891.7,738.0C1893.5,738.0 1895.2,738.2 1897.0,738.5C1898.5,738.8 1900.1,739.9 1901.6,740.7C1903.2,741.5 1904.7,743.3 1906.3,743.3C1908.5,743.3 1910.6,736.5 1912.8,736.5C1914.4,736.5 1915.9,742.8 1917.5,742.8C1918.9,742.8 1920.2,737.6 1921.6,734.8C1923.1,731.8 1924.5,725.4 1926.0,725.4C1926.9,725.4 1927.7,729.2 1928.6,732.8C1929.8,737.6 1930.9,762.3 1932.1,762.3C1933.1,762.3 1934.0,749.5 1935.0,743.3C1935.9,737.5 1936.8,726.5 1937.7,726.5C1938.8,726.5 1939.8,740.1 1940.9,740.1C1941.7,740.1 1942.4,733.8 1943.2,733.8C1944.2,733.8 1945.2,747.0 1946.2,747.0C1947.6,747.0 1948.9,720.1 1950.3,720.1C1951.6,720.1 1952.8,778.6 1954.1,778.6C1955.4,778.6 1956.6,700.5 1957.9,700.5C1959.8,700.5 1961.6,762.3 1963.5,762.3C1964.7,762.3 1966.0,728.0 1967.2,728.0C1968.8,728.0 1970.3,761.7 1971.9,761.7C1973.2,761.7 1974.4,739.6 1975.7,739.6C1976.8,739.6 1977.9,754.4 1979.0,754.4C1981.1,754.4 1983.3,724.8 1985.4,724.8C1986.8,724.8 1988.1,734.3 1989.5,734.3C1990.5,734.3 1991.4,733.8 1992.4,733.8C1993.6,733.8 1994.8,740.8 1996.0,742.2C1997.4,743.8 1998.7,745.4 2000.1,745.4C2001.5,745.4 2002.8,736.5 2004.2,736.5C2005.6,736.5 2006.9,740.7 2008.3,740.7C2009.9,740.7 2011.6,734.3 2013.2,734.3C2014.9,734.3 2016.5,747.0 2018.2,747.0C2019.4,747.0 2020.5,739.1 2021.7,739.1C2023.1,739.1 2024.4,741.0 2025.8,741.0C2027.2,741.0 2028.5,737.2 2029.9,737.2C2031.3,737.2 2032.6,739.6 2034.0,739.6C2036.4,739.6 2038.7,737.0 2041.1,737.0C2042.8,737.0 2044.6,745.4 2046.3,745.4C2048.5,745.4 2050.6,737.0 2052.8,737.0C2054.4,737.0 2055.9,737.3 2057.5,737.8C2059.4,738.3 2061.2,743.8 2063.1,743.8C2065.1,743.8 2067.2,737.5 2069.2,737.5C2070.8,737.5 2072.3,740.7 2073.9,740.7C2076.2,740.7 2078.6,738.9 2080.9,738.9C2083.2,738.9 2085.6,739.2 2087.9,739.6C2089.5,739.9 2091.0,742.8 2092.6,742.8C2094.6,742.8 2096.5,735.9 2098.5,735.9C2099.9,735.9 2101.2,750.1 2102.6,750.1C2103.6,750.1 2104.5,741.2 2105.5,741.2C2106.3,741.2 2107.1,744.7 2107.9,750.1" fill="none" stroke="#ff4747" stroke-width="3.3" stroke-linejoin="round" stroke-linecap="round"/>
<path d="M1180.0,657.5C1182.0,658.1 1184.0,658.4 1186.0,658.4C1188.0,658.4 1190.0,657.4 1192.0,657.4C1194.0,657.4 1196.0,658.0 1198.0,658.0C1200.0,658.0 1202.0,657.3 1204.0,657.3C1206.0,657.3 1208.0,657.4 1210.0,657.5C1212.0,657.6 1214.0,658.4 1216.0,658.4C1218.0,658.4 1220.0,657.5 1222.0,657.5C1224.0,657.5 1226.0,658.0 1228.0,658.0C1230.0,658.0 1232.0,657.8 1234.0,657.8C1236.0,657.7 1238.0,657.7 1240.0,657.7C1242.0,657.7 1244.0,657.8 1246.0,657.8C1248.0,657.8 1250.0,657.4 1252.0,657.4C1254.0,657.4 1256.0,658.2 1258.0,658.2C1260.0,658.2 1262.0,657.3 1264.0,657.3C1266.0,657.3 1268.0,657.5 1270.0,657.5C1272.0,657.5 1274.0,657.2 1276.0,657.2C1278.0,657.2 1280.0,657.4 1282.0,657.5C1284.0,657.6 1286.0,657.6 1288.0,657.7C1290.0,657.8 1292.0,658.3 1294.0,658.3C1296.0,658.3 1298.0,657.8 1300.0,657.7C1302.0,657.5 1304.0,657.3 1306.0,657.3C1308.0,657.3 1310.0,657.4 1312.0,657.5C1314.0,657.6 1316.0,658.4 1318.0,658.4C1320.0,658.4 1322.0,657.3 1324.0,657.3C1326.0,657.3 1328.0,657.9 1330.0,657.9C1332.0,657.9 1334.0,657.7 1336.0,657.7C1338.0,657.7 1340.0,658.0 1342.0,658.0C1344.0,658.0 1346.0,657.6 1348.0,657.6C1350.0,657.6 1352.0,658.0 1354.0,658.0C1356.0,658.0 1358.0,657.8 1360.0,657.8C1362.0,657.8 1364.0,657.9 1366.0,658.0C1368.0,658.1 1370.0,658.3 1372.0,658.3C1373.3,658.3 1374.7,657.8 1376.0,657.8C1378.3,657.8 1380.5,659.2 1382.8,659.2C1384.3,659.2 1385.9,654.7 1387.4,654.7C1388.9,654.7 1390.5,657.1 1392.0,657.8C1393.6,658.5 1395.1,659.5 1396.7,659.5C1398.4,659.5 1400.1,652.2 1401.8,652.2C1403.7,652.2 1405.6,671.8 1407.5,671.8C1409.1,671.8 1410.6,652.8 1412.2,652.8C1414.0,652.8 1415.7,657.8 1417.5,657.8C1418.8,657.8 1420.0,657.1 1421.3,656.4C1422.7,655.7 1424.0,652.8 1425.4,652.8C1426.6,652.8 1427.8,669.3 1429.0,669.3C1430.3,669.3 1431.7,652.2 1433.0,652.2C1434.4,652.2 1435.8,657.8 1437.2,657.8C1438.8,657.8 1440.4,657.8 1442.0,657.8C1443.3,657.8 1444.7,657.9 1446.0,657.9C1448.0,657.9 1450.0,657.4 1452.0,657.4C1454.0,657.3 1456.0,657.3 1458.0,657.3C1460.0,657.3 1462.0,658.3 1464.0,658.3C1466.0,658.3 1468.0,657.9 1470.0,657.8C1472.0,657.6 1474.0,657.4 1476.0,657.4C1478.0,657.4 1480.0,658.3 1482.0,658.3C1484.0,658.3 1486.0,657.9 1488.0,657.9C1490.0,657.9 1492.0,658.0 1494.0,658.1C1496.0,658.1 1498.0,658.3 1500.0,658.3C1502.0,658.3 1504.0,657.5 1506.0,657.5C1508.0,657.5 1510.0,657.6 1512.0,657.6C1514.0,657.7 1516.0,658.3 1518.0,658.3C1520.0,658.3 1522.0,657.4 1524.0,657.4C1526.0,657.4 1528.0,658.1 1530.0,658.1C1532.0,658.1 1534.0,657.3 1536.0,657.3C1538.0,657.3 1540.0,658.0 1542.0,658.0C1544.0,658.0 1546.0,658.0 1548.0,658.0C1550.0,658.1 1552.0,658.3 1554.0,658.3C1554.7,658.3 1555.3,657.8 1556.0,657.8C1559.7,657.8 1563.5,659.0 1567.2,659.0C1568.1,659.0 1569.1,656.2 1570.0,656.2C1571.3,656.2 1572.7,659.4 1574.0,659.4C1575.3,659.4 1576.7,656.6 1578.0,656.6C1579.3,656.6 1580.7,659.0 1582.0,659.0C1583.0,659.0 1584.0,656.2 1585.0,656.2C1586.0,656.2 1587.0,659.4 1588.0,659.4C1589.3,659.4 1590.7,657.8 1592.0,657.8C1594.8,657.8 1597.5,658.2 1600.2,658.2C1603.0,658.2 1605.8,657.9 1608.5,657.8C1611.2,657.7 1614.0,657.4 1616.8,657.4C1619.5,657.4 1622.2,657.6 1625.0,657.8C1626.3,657.9 1627.7,658.2 1629.0,658.6C1630.2,659.0 1631.5,662.2 1632.7,662.2C1633.6,662.2 1634.5,654.0 1635.4,654.0C1636.6,654.0 1637.8,658.6 1639.0,658.6C1640.3,658.6 1641.7,657.8 1643.0,657.8C1647.0,657.8 1651.0,657.8 1655.0,657.8C1658.7,657.8 1662.3,659.8 1666.0,659.8C1667.3,659.8 1668.7,657.6 1670.0,657.0C1671.5,656.2 1673.0,655.3 1674.5,655.3C1676.3,655.3 1678.2,657.8 1680.0,658.6C1682.1,659.5 1684.2,660.8 1686.3,660.8C1687.5,660.8 1688.8,652.9 1690.0,652.9C1691.3,652.9 1692.7,659.4 1694.0,659.4C1695.3,659.4 1696.7,657.9 1698.0,657.8C1700.6,657.5 1703.2,657.4 1705.8,657.4C1708.4,657.4 1711.1,657.8 1713.7,657.8C1716.3,657.8 1718.9,657.8 1721.5,657.8C1724.1,657.8 1726.7,657.3 1729.3,657.3C1731.9,657.3 1734.6,658.3 1737.2,658.3C1739.8,658.3 1742.4,658.1 1745.0,657.8C1747.5,657.5 1750.1,653.2 1752.6,653.2C1753.9,653.2 1755.3,665.1 1756.6,665.1C1758.4,665.1 1760.2,657.4 1762.0,656.6C1764.9,655.2 1767.9,654.4 1770.8,654.4C1773.2,654.4 1775.6,656.2 1778.0,657.8C1779.8,659.0 1781.7,663.7 1783.5,663.7C1785.0,663.7 1786.5,658.3 1788.0,657.8C1790.1,657.1 1792.3,656.7 1794.4,656.7C1797.9,656.7 1801.5,656.8 1805.0,657.0C1808.7,657.1 1812.5,660.0 1816.2,660.0C1818.1,660.0 1820.1,657.0 1822.0,657.0C1824.0,657.0 1826.0,657.8 1828.0,657.8C1830.7,657.8 1833.5,652.2 1836.2,652.2C1837.9,652.2 1839.6,662.6 1841.3,662.6C1842.9,662.6 1844.6,656.6 1846.2,656.6C1848.9,656.6 1851.7,659.0 1854.4,659.0C1856.8,659.0 1859.2,654.8 1861.6,654.8C1863.4,654.8 1865.3,658.9 1867.1,658.9C1868.9,658.9 1870.7,656.6 1872.5,656.6C1874.6,656.6 1876.7,661.2 1878.8,661.2C1879.8,661.2 1880.7,656.3 1881.7,656.3C1883.3,656.3 1884.8,659.0 1886.4,659.0C1888.2,659.0 1889.9,656.3 1891.7,656.3C1893.5,656.3 1895.2,656.5 1897.0,656.8C1898.5,657.1 1900.1,658.1 1901.6,658.8C1903.2,659.5 1904.7,661.2 1906.3,661.2C1908.5,661.2 1910.6,654.9 1912.8,654.9C1914.4,654.9 1915.9,660.7 1917.5,660.7C1918.9,660.7 1920.2,656.0 1921.6,653.5C1923.1,650.7 1924.5,644.8 1926.0,644.8C1926.9,644.8 1927.7,648.3 1928.6,651.6C1929.8,656.0 1930.9,678.5 1932.1,678.5C1933.1,678.5 1934.0,666.8 1935.0,661.2C1935.9,655.9 1936.8,645.8 1937.7,645.8C1938.8,645.8 1939.8,658.3 1940.9,658.3C1941.7,658.3 1942.4,652.6 1943.2,652.6C1944.2,652.6 1945.2,664.5 1946.2,664.5C1947.6,664.5 1948.9,640.0 1950.3,640.0C1951.6,640.0 1952.8,693.3 1954.1,693.3C1955.4,693.3 1956.6,622.2 1957.9,622.2C1959.8,622.2 1961.6,678.5 1963.5,678.5C1964.7,678.5 1966.0,647.2 1967.2,647.2C1968.8,647.2 1970.3,678.0 1971.9,678.0C1973.2,678.0 1974.4,657.8 1975.7,657.8C1976.8,657.8 1977.9,671.2 1979.0,671.2C1981.1,671.2 1983.3,644.4 1985.4,644.4C1986.8,644.4 1988.1,653.0 1989.5,653.0C1990.5,653.0 1991.4,652.6 1992.4,652.6C1993.6,652.6 1994.8,658.9 1996.0,660.2C1997.4,661.6 1998.7,663.0 2000.1,663.0C2001.5,663.0 2002.8,654.9 2004.2,654.9C2005.6,654.9 2006.9,658.8 2008.3,658.8C2009.9,658.8 2011.6,653.0 2013.2,653.0C2014.9,653.0 2016.5,664.5 2018.2,664.5C2019.4,664.5 2020.5,657.3 2021.7,657.3C2023.1,657.3 2024.4,659.0 2025.8,659.0C2027.2,659.0 2028.5,655.6 2029.9,655.6C2031.3,655.6 2032.6,657.8 2034.0,657.8C2036.4,657.8 2038.7,655.4 2041.1,655.4C2042.8,655.4 2044.6,663.0 2046.3,663.0C2048.5,663.0 2050.6,655.4 2052.8,655.4C2054.4,655.4 2055.9,655.7 2057.5,656.2C2059.4,656.7 2061.2,661.7 2063.1,661.7C2065.1,661.7 2067.2,655.9 2069.2,655.9C2070.8,655.9 2072.3,658.8 2073.9,658.8C2076.2,658.8 2078.6,657.1 2080.9,657.1C2083.2,657.1 2085.6,657.4 2087.9,657.8C2089.5,658.1 2091.0,660.7 2092.6,660.7C2094.6,660.7 2096.5,654.4 2098.5,654.4C2099.9,654.4 2101.2,667.4 2102.6,667.4C2103.6,667.4 2104.5,659.3 2105.5,659.3C2106.3,659.3 2107.1,662.4 2107.9,667.4" fill="none" stroke="#45a5ff" stroke-width="3.3" stroke-linejoin="round" stroke-linecap="round"/>
<path d="M1180.0,580.5C1182.0,580.4 1184.0,580.4 1186.0,580.3C1188.0,580.3 1190.0,580.1 1192.0,580.1C1194.0,580.1 1196.0,580.9 1198.0,580.9C1200.0,580.9 1202.0,579.9 1204.0,579.9C1206.0,579.9 1208.0,580.3 1210.0,580.5C1212.0,580.7 1214.0,581.0 1216.0,581.0C1218.0,581.0 1220.0,580.0 1222.0,580.0C1224.0,580.0 1226.0,580.5 1228.0,580.6C1230.0,580.6 1232.0,580.6 1234.0,580.6C1236.0,580.6 1238.0,579.9 1240.0,579.9C1242.0,579.9 1244.0,580.2 1246.0,580.4C1248.0,580.5 1250.0,580.7 1252.0,580.7C1254.0,580.7 1256.0,580.4 1258.0,580.4C1260.0,580.4 1262.0,580.8 1264.0,580.8C1266.0,580.8 1268.0,580.1 1270.0,580.1C1272.0,580.1 1274.0,580.2 1276.0,580.2C1278.0,580.2 1280.0,580.0 1282.0,580.0C1284.0,580.0 1286.0,580.3 1288.0,580.5C1290.0,580.7 1292.0,581.0 1294.0,581.0C1296.0,581.0 1298.0,580.6 1300.0,580.6C1302.0,580.6 1304.0,580.8 1306.0,580.8C1308.0,580.8 1310.0,580.4 1312.0,580.4C1314.0,580.4 1316.0,580.8 1318.0,580.8C1320.0,580.8 1322.0,580.0 1324.0,580.0C1326.0,580.0 1328.0,580.1 1330.0,580.2C1332.0,580.4 1334.0,580.7 1336.0,580.7C1338.0,580.7 1340.0,580.8 1342.0,580.8C1344.0,580.8 1346.0,580.5 1348.0,580.4C1350.0,580.3 1352.0,580.0 1354.0,580.0C1356.0,580.0 1358.0,580.2 1360.0,580.2C1362.0,580.2 1364.0,580.2 1366.0,580.2C1368.0,580.2 1370.0,580.2 1372.0,580.2C1373.3,580.3 1374.7,580.4 1376.0,580.5C1378.3,580.7 1380.5,583.0 1382.8,583.0C1384.3,583.0 1385.9,575.0 1387.4,575.0C1388.9,575.0 1390.5,579.2 1392.0,580.5C1393.6,581.8 1395.1,583.5 1396.7,583.5C1398.4,583.5 1400.1,570.5 1401.8,570.5C1403.7,570.5 1405.6,605.4 1407.5,605.4C1409.1,605.4 1410.6,571.5 1412.2,571.5C1414.0,571.5 1415.7,580.5 1417.5,580.5C1418.8,580.5 1420.0,579.2 1421.3,578.0C1422.7,576.8 1424.0,571.5 1425.4,571.5C1426.6,571.5 1427.8,600.9 1429.0,600.9C1430.3,600.9 1431.7,570.5 1433.0,570.5C1434.4,570.5 1435.8,580.5 1437.2,580.5C1438.8,580.5 1440.4,580.5 1442.0,580.5C1443.3,580.5 1444.7,580.9 1446.0,580.9C1448.0,580.9 1450.0,580.1 1452.0,580.1C1454.0,580.1 1456.0,581.0 1458.0,581.0C1460.0,581.0 1462.0,581.0 1464.0,581.0C1466.0,580.9 1468.0,580.0 1470.0,580.0C1472.0,580.0 1474.0,580.3 1476.0,580.4C1478.0,580.4 1480.0,580.5 1482.0,580.5C1484.0,580.5 1486.0,579.9 1488.0,579.9C1490.0,579.9 1492.0,580.2 1494.0,580.4C1496.0,580.6 1498.0,581.0 1500.0,581.0C1502.0,581.0 1504.0,580.0 1506.0,580.0C1508.0,580.0 1510.0,580.6 1512.0,580.6C1514.0,580.6 1516.0,580.0 1518.0,580.0C1520.0,580.0 1522.0,580.4 1524.0,580.6C1526.0,580.7 1528.0,581.0 1530.0,581.0C1532.0,581.0 1534.0,580.3 1536.0,580.1C1538.0,580.0 1540.0,579.9 1542.0,579.9C1544.0,579.9 1546.0,579.9 1548.0,580.0C1550.0,580.1 1552.0,580.5 1554.0,580.5C1554.7,580.5 1555.3,580.5 1556.0,580.5C1559.7,580.5 1563.5,581.7 1567.2,581.7C1568.1,581.7 1569.1,578.9 1570.0,578.9C1571.3,578.9 1572.7,582.1 1574.0,582.1C1575.3,582.1 1576.7,579.3 1578.0,579.3C1579.3,579.3 1580.7,581.7 1582.0,581.7C1583.0,581.7 1584.0,578.9 1585.0,578.9C1586.0,578.9 1587.0,582.1 1588.0,582.1C1589.3,582.1 1590.7,580.7 1592.0,580.5C1594.8,580.1 1597.5,579.9 1600.2,579.9C1603.0,579.9 1605.8,580.0 1608.5,580.0C1611.2,580.0 1614.0,580.5 1616.8,580.5C1619.5,580.5 1622.2,580.5 1625.0,580.5C1626.3,580.5 1627.7,580.9 1629.0,581.3C1630.2,581.7 1631.5,584.8 1632.7,584.8C1633.6,584.8 1634.5,576.8 1635.4,576.8C1636.6,576.8 1637.8,581.3 1639.0,581.3C1640.3,581.3 1641.7,580.5 1643.0,580.5C1647.0,580.5 1651.0,580.5 1655.0,580.5C1658.7,580.5 1662.3,582.5 1666.0,582.5C1667.3,582.5 1668.7,580.4 1670.0,579.7C1671.5,579.0 1673.0,578.0 1674.5,578.0C1676.3,578.0 1678.2,580.5 1680.0,581.3C1682.1,582.2 1684.2,583.4 1686.3,583.4C1687.5,583.4 1688.8,575.7 1690.0,575.7C1691.3,575.7 1692.7,582.1 1694.0,582.1C1695.3,582.1 1696.7,580.5 1698.0,580.5C1700.6,580.5 1703.2,581.0 1705.8,581.0C1708.4,581.0 1711.1,580.4 1713.7,580.4C1716.3,580.4 1718.9,580.4 1721.5,580.4C1724.1,580.4 1726.7,580.7 1729.3,580.7C1731.9,580.7 1734.6,580.0 1737.2,580.0C1739.8,580.0 1742.4,580.5 1745.0,580.5C1747.5,580.5 1750.1,569.8 1752.6,569.8C1753.9,569.8 1755.3,597.5 1756.6,597.5C1758.4,597.5 1760.2,577.8 1762.0,577.6C1764.9,577.3 1767.9,577.1 1770.8,577.1C1773.2,577.1 1775.6,578.7 1778.0,580.5C1779.8,581.9 1781.7,589.1 1783.5,589.1C1785.0,589.1 1786.5,581.0 1788.0,580.5C1790.1,579.8 1792.3,579.5 1794.4,579.5C1797.9,579.5 1801.5,579.6 1805.0,579.7C1808.7,579.9 1812.5,582.7 1816.2,582.7C1818.1,582.7 1820.1,579.7 1822.0,579.7C1824.0,579.7 1826.0,580.5 1828.0,580.5C1830.7,580.5 1833.5,575.1 1836.2,575.1C1837.9,575.1 1839.6,585.2 1841.3,585.2C1842.9,585.2 1844.6,579.3 1846.2,579.3C1848.9,579.3 1851.7,581.7 1854.4,581.7C1856.8,581.7 1859.2,577.5 1861.6,577.5C1863.4,577.5 1865.3,581.5 1867.1,581.5C1868.9,581.5 1870.7,579.3 1872.5,579.3C1874.6,579.3 1876.7,583.8 1878.8,583.8C1879.8,583.8 1880.7,579.1 1881.7,579.1C1883.3,579.1 1884.8,581.7 1886.4,581.7C1888.2,581.7 1889.9,579.1 1891.7,579.1C1893.5,579.1 1895.2,579.3 1897.0,579.5C1898.5,579.8 1900.1,580.8 1901.6,581.5C1903.2,582.2 1904.7,583.8 1906.3,583.8C1908.5,583.8 1910.6,577.7 1912.8,577.7C1914.4,577.7 1915.9,583.3 1917.5,583.3C1918.9,583.3 1920.2,578.7 1921.6,576.3C1923.1,573.6 1924.5,567.9 1926.0,567.9C1926.9,567.9 1927.7,571.2 1928.6,574.4C1929.8,578.7 1930.9,600.7 1932.1,600.7C1933.1,600.7 1934.0,589.3 1935.0,583.8C1935.9,578.7 1936.8,568.8 1937.7,568.8C1938.8,568.8 1939.8,581.0 1940.9,581.0C1941.7,581.0 1942.4,575.4 1943.2,575.4C1944.2,575.4 1945.2,587.1 1946.2,587.1C1947.6,587.1 1948.9,563.1 1950.3,563.1C1951.6,563.1 1952.8,615.1 1954.1,615.1C1955.4,615.1 1956.6,545.8 1957.9,545.8C1959.8,545.8 1961.6,600.7 1963.5,600.7C1964.7,600.7 1966.0,570.2 1967.2,570.2C1968.8,570.2 1970.3,600.2 1971.9,600.2C1973.2,600.2 1974.4,580.5 1975.7,580.5C1976.8,580.5 1977.9,593.6 1979.0,593.6C1981.1,593.6 1983.3,567.4 1985.4,567.4C1986.8,567.4 1988.1,575.8 1989.5,575.8C1990.5,575.8 1991.4,575.4 1992.4,575.4C1993.6,575.4 1994.8,581.6 1996.0,582.8C1997.4,584.2 1998.7,585.6 2000.1,585.6C2001.5,585.6 2002.8,577.7 2004.2,577.7C2005.6,577.7 2006.9,581.5 2008.3,581.5C2009.9,581.5 2011.6,575.8 2013.2,575.8C2014.9,575.8 2016.5,587.1 2018.2,587.1C2019.4,587.1 2020.5,580.0 2021.7,580.0C2023.1,580.0 2024.4,581.7 2025.8,581.7C2027.2,581.7 2028.5,578.3 2029.9,578.3C2031.3,578.3 2032.6,580.5 2034.0,580.5C2036.4,580.5 2038.7,578.2 2041.1,578.2C2042.8,578.2 2044.6,585.6 2046.3,585.6C2048.5,585.6 2050.6,578.2 2052.8,578.2C2054.4,578.2 2055.9,578.5 2057.5,578.9C2059.4,579.4 2061.2,584.3 2063.1,584.3C2065.1,584.3 2067.2,578.7 2069.2,578.7C2070.8,578.7 2072.3,581.5 2073.9,581.5C2076.2,581.5 2078.6,579.9 2080.9,579.9C2083.2,579.9 2085.6,580.1 2087.9,580.5C2089.5,580.8 2091.0,583.3 2092.6,583.3C2094.6,583.3 2096.5,577.2 2098.5,577.2C2099.9,577.2 2101.2,589.9 2102.6,589.9C2103.6,589.9 2104.5,581.9 2105.5,581.9C2106.3,581.9 2107.1,585.0 2107.9,589.9" fill="none" stroke="#45f545" stroke-width="3.3" stroke-linejoin="round" stroke-linecap="round"/>
<path d="M1180.0,501.0C1182.0,500.9 1184.0,500.8 1186.0,500.8C1188.0,500.8 1190.0,501.0 1192.0,501.0C1194.0,501.0 1196.0,500.5 1198.0,500.5C1200.0,500.5 1202.0,501.3 1204.0,501.3C1206.0,501.3 1208.0,501.3 1210.0,501.3C1212.0,501.3 1214.0,501.2 1216.0,501.1C1218.0,501.0 1220.0,500.5 1222.0,500.5C1224.0,500.5 1226.0,500.9 1228.0,500.9C1230.0,500.9 1232.0,500.7 1234.0,500.7C1236.0,500.6 1238.0,500.6 1240.0,500.6C1242.0,500.6 1244.0,501.4 1246.0,501.4C1248.0,501.5 1250.0,501.5 1252.0,501.5C1254.0,501.5 1256.0,500.4 1258.0,500.4C1260.0,500.4 1262.0,501.3 1264.0,501.3C1266.0,501.3 1268.0,501.1 1270.0,501.0C1272.0,500.9 1274.0,500.8 1276.0,500.8C1278.0,500.7 1280.0,500.6 1282.0,500.6C1284.0,500.6 1286.0,501.1 1288.0,501.1C1290.0,501.1 1292.0,500.8 1294.0,500.8C1296.0,500.8 1298.0,501.1 1300.0,501.1C1302.0,501.1 1304.0,501.1 1306.0,501.1C1308.0,501.1 1310.0,500.5 1312.0,500.5C1314.0,500.5 1316.0,501.1 1318.0,501.2C1320.0,501.3 1322.0,501.5 1324.0,501.5C1326.0,501.5 1328.0,501.5 1330.0,501.5C1332.0,501.5 1334.0,501.2 1336.0,501.0C1338.0,500.9 1340.0,500.4 1342.0,500.4C1344.0,500.3 1346.0,500.3 1348.0,500.3C1350.0,500.3 1352.0,500.4 1354.0,500.5C1356.0,500.6 1358.0,501.4 1360.0,501.4C1362.0,501.4 1364.0,500.7 1366.0,500.7C1368.0,500.7 1370.0,500.7 1372.0,500.7C1373.3,500.8 1374.7,500.8 1376.0,500.9C1378.3,501.0 1380.5,502.4 1382.8,502.4C1384.3,502.4 1385.9,497.5 1387.4,497.5C1388.9,497.5 1390.5,500.1 1392.0,500.9C1393.6,501.7 1395.1,502.7 1396.7,502.7C1398.4,502.7 1400.1,494.7 1401.8,494.7C1403.7,494.7 1405.6,516.3 1407.5,516.3C1409.1,516.3 1410.6,495.4 1412.2,495.4C1414.0,495.4 1415.7,500.9 1417.5,500.9C1418.8,500.9 1420.0,500.1 1421.3,499.4C1422.7,498.6 1424.0,495.4 1425.4,495.4C1426.6,495.4 1427.8,513.5 1429.0,513.5C1430.3,513.5 1431.7,494.7 1433.0,494.7C1434.4,494.7 1435.8,500.9 1437.2,500.9C1438.8,500.9 1440.4,500.9 1442.0,500.9C1443.3,500.9 1444.7,501.4 1446.0,501.4C1448.0,501.4 1450.0,500.7 1452.0,500.7C1454.0,500.7 1456.0,501.0 1458.0,501.0C1460.0,501.0 1462.0,500.9 1464.0,500.8C1466.0,500.8 1468.0,500.4 1470.0,500.4C1472.0,500.4 1474.0,500.9 1476.0,501.0C1478.0,501.1 1480.0,501.3 1482.0,501.3C1484.0,501.3 1486.0,500.5 1488.0,500.5C1490.0,500.5 1492.0,500.5 1494.0,500.6C1496.0,500.6 1498.0,500.8 1500.0,500.8C1502.0,500.8 1504.0,500.3 1506.0,500.3C1508.0,500.3 1510.0,500.7 1512.0,500.9C1514.0,501.0 1516.0,501.3 1518.0,501.3C1520.0,501.3 1522.0,501.1 1524.0,501.1C1526.0,501.0 1528.0,500.9 1530.0,500.9C1532.0,500.9 1534.0,501.3 1536.0,501.3C1538.0,501.3 1540.0,500.5 1542.0,500.5C1544.0,500.5 1546.0,501.0 1548.0,501.0C1550.0,501.0 1552.0,500.7 1554.0,500.7C1554.7,500.7 1555.3,500.8 1556.0,500.9C1559.7,501.2 1563.5,502.3 1567.2,502.3C1568.1,502.3 1569.1,499.0 1570.0,499.0C1571.3,499.0 1572.7,502.8 1574.0,502.8C1575.3,502.8 1576.7,499.5 1578.0,499.5C1579.3,499.5 1580.7,502.3 1582.0,502.3C1583.0,502.3 1584.0,499.0 1585.0,499.0C1586.0,499.0 1587.0,502.8 1588.0,502.8C1589.3,502.8 1590.7,500.9 1592.0,500.9C1594.8,500.9 1597.5,501.0 1600.2,501.0C1603.0,501.0 1605.8,500.4 1608.5,500.4C1611.2,500.4 1614.0,501.2 1616.8,501.2C1619.5,501.2 1622.2,500.9 1625.0,500.9C1626.3,500.9 1627.7,501.3 1629.0,501.8C1630.2,502.3 1631.5,506.0 1632.7,506.0C1633.6,506.0 1634.5,496.5 1635.4,496.5C1636.6,496.5 1637.8,501.8 1639.0,501.8C1640.3,501.8 1641.7,500.9 1643.0,500.9C1647.0,500.9 1651.0,500.9 1655.0,500.9C1658.7,500.9 1662.3,503.3 1666.0,503.3C1667.3,503.3 1668.7,500.7 1670.0,499.9C1671.5,499.1 1673.0,498.0 1674.5,498.0C1676.3,498.0 1678.2,500.9 1680.0,501.8C1682.1,502.9 1684.2,504.3 1686.3,504.3C1687.5,504.3 1688.8,495.2 1690.0,495.2C1691.3,495.2 1692.7,502.8 1694.0,502.8C1695.3,502.8 1696.7,501.1 1698.0,500.9C1700.6,500.6 1703.2,500.4 1705.8,500.4C1708.4,500.4 1711.1,500.4 1713.7,500.5C1716.3,500.5 1718.9,501.2 1721.5,501.3C1724.1,501.4 1726.7,501.4 1729.3,501.4C1731.9,501.4 1734.6,500.8 1737.2,500.8C1739.8,500.8 1742.4,500.9 1745.0,500.9C1747.5,500.9 1750.1,496.3 1752.6,496.3C1753.9,496.3 1755.3,508.2 1756.6,508.2C1758.4,508.2 1760.2,500.7 1762.0,499.7C1764.9,498.0 1767.9,496.9 1770.8,496.9C1773.2,496.9 1775.6,499.0 1778.0,500.9C1779.8,502.3 1781.7,507.7 1783.5,507.7C1785.0,507.7 1786.5,501.4 1788.0,500.9C1790.1,500.1 1792.3,499.7 1794.4,499.7C1797.9,499.7 1801.5,499.8 1805.0,499.9C1808.7,500.1 1812.5,503.5 1816.2,503.5C1818.1,503.5 1820.1,499.9 1822.0,499.9C1824.0,499.9 1826.0,500.9 1828.0,500.9C1830.7,500.9 1833.5,494.4 1836.2,494.4C1837.9,494.4 1839.6,506.5 1841.3,506.5C1842.9,506.5 1844.6,499.5 1846.2,499.5C1848.9,499.5 1851.7,502.3 1854.4,502.3C1856.8,502.3 1859.2,497.4 1861.6,497.4C1863.4,497.4 1865.3,502.1 1867.1,502.1C1868.9,502.1 1870.7,499.5 1872.5,499.5C1874.6,499.5 1876.7,504.8 1878.8,504.8C1879.8,504.8 1880.7,499.2 1881.7,499.2C1883.3,499.2 1884.8,502.3 1886.4,502.3C1888.2,502.3 1889.9,499.2 1891.7,499.2C1893.5,499.2 1895.2,499.4 1897.0,499.8C1898.5,500.0 1900.1,501.2 1901.6,502.0C1903.2,502.9 1904.7,504.8 1906.3,504.8C1908.5,504.8 1910.6,497.6 1912.8,497.6C1914.4,497.6 1915.9,504.2 1917.5,504.2C1918.9,504.2 1920.2,498.8 1921.6,495.9C1923.1,492.7 1924.5,485.9 1926.0,485.9C1926.9,485.9 1927.7,489.9 1928.6,493.7C1929.8,498.8 1930.9,524.8 1932.1,524.8C1933.1,524.8 1934.0,511.3 1935.0,504.8C1935.9,498.7 1936.8,487.0 1937.7,487.0C1938.8,487.0 1939.8,501.5 1940.9,501.5C1941.7,501.5 1942.4,494.8 1943.2,494.8C1944.2,494.8 1945.2,508.7 1946.2,508.7C1947.6,508.7 1948.9,480.3 1950.3,480.3C1951.6,480.3 1952.8,542.0 1954.1,542.0C1955.4,542.0 1956.6,459.7 1957.9,459.7C1959.8,459.7 1961.6,524.8 1963.5,524.8C1964.7,524.8 1966.0,488.6 1967.2,488.6C1968.8,488.6 1970.3,524.3 1971.9,524.3C1973.2,524.3 1974.4,500.9 1975.7,500.9C1976.8,500.9 1977.9,516.5 1979.0,516.5C1981.1,516.5 1983.3,485.3 1985.4,485.3C1986.8,485.3 1988.1,495.3 1989.5,495.3C1990.5,495.3 1991.4,494.8 1992.4,494.8C1993.6,494.8 1994.8,502.2 1996.0,503.7C1997.4,505.3 1998.7,507.0 2000.1,507.0C2001.5,507.0 2002.8,497.6 2004.2,497.6C2005.6,497.6 2006.9,502.0 2008.3,502.0C2009.9,502.0 2011.6,495.3 2013.2,495.3C2014.9,495.3 2016.5,508.7 2018.2,508.7C2019.4,508.7 2020.5,500.3 2021.7,500.3C2023.1,500.3 2024.4,502.3 2025.8,502.3C2027.2,502.3 2028.5,498.3 2029.9,498.3C2031.3,498.3 2032.6,500.9 2034.0,500.9C2036.4,500.9 2038.7,498.1 2041.1,498.1C2042.8,498.1 2044.6,507.0 2046.3,507.0C2048.5,507.0 2050.6,498.1 2052.8,498.1C2054.4,498.1 2055.9,498.5 2057.5,499.0C2059.4,499.6 2061.2,505.4 2063.1,505.4C2065.1,505.4 2067.2,498.7 2069.2,498.7C2070.8,498.7 2072.3,502.0 2073.9,502.0C2076.2,502.0 2078.6,500.1 2080.9,500.1C2083.2,500.1 2085.6,500.4 2087.9,500.9C2089.5,501.2 2091.0,504.2 2092.6,504.2C2094.6,504.2 2096.5,497.0 2098.5,497.0C2099.9,497.0 2101.2,512.0 2102.6,512.0C2103.6,512.0 2104.5,502.6 2105.5,502.6C2106.3,502.6 2107.1,506.3 2107.9,512.0" fill="none" stroke="#bb4dff" stroke-width="3.3" stroke-linejoin="round" stroke-linecap="round"/>
<path d="M1180.0,411.4C1182.0,411.4 1184.0,411.5 1186.0,411.6C1188.0,411.6 1190.0,412.0 1192.0,412.0C1194.0,412.0 1196.0,411.5 1198.0,411.5C1200.0,411.5 1202.0,411.5 1204.0,411.5C1206.0,411.5 1208.0,411.6 1210.0,411.6C1212.0,411.6 1214.0,411.1 1216.0,411.1C1218.0,411.1 1220.0,411.4 1222.0,411.5C1224.0,411.6 1226.0,411.6 1228.0,411.7C1230.0,411.7 1232.0,411.9 1234.0,411.9C1236.0,411.9 1238.0,411.0 1240.0,411.0C1242.0,411.0 1244.0,411.3 1246.0,411.3C1248.0,411.3 1250.0,411.0 1252.0,411.0C1254.0,411.0 1256.0,411.9 1258.0,411.9C1260.0,411.9 1262.0,411.8 1264.0,411.7C1266.0,411.7 1268.0,411.0 1270.0,411.0C1272.0,411.0 1274.0,412.1 1276.0,412.1C1278.0,412.1 1280.0,412.1 1282.0,412.1C1284.0,412.0 1286.0,411.7 1288.0,411.7C1290.0,411.7 1292.0,411.7 1294.0,411.6C1296.0,411.6 1298.0,411.2 1300.0,411.1C1302.0,411.0 1304.0,410.9 1306.0,410.9C1308.0,410.9 1310.0,411.5 1312.0,411.5C1314.0,411.5 1316.0,411.0 1318.0,411.0C1320.0,411.0 1322.0,411.1 1324.0,411.1C1326.0,411.2 1328.0,411.2 1330.0,411.2C1332.0,411.2 1334.0,410.9 1336.0,410.9C1338.0,410.9 1340.0,411.5 1342.0,411.5C1344.0,411.5 1346.0,411.4 1348.0,411.4C1350.0,411.4 1352.0,411.9 1354.0,411.9C1356.0,411.9 1358.0,411.5 1360.0,411.5C1362.0,411.5 1364.0,411.7 1366.0,411.7C1368.0,411.7 1370.0,411.5 1372.0,411.5C1373.3,411.5 1374.7,411.5 1376.0,411.5C1378.3,411.5 1380.5,412.9 1382.8,412.9C1384.3,412.9 1385.9,408.5 1387.4,408.5C1388.9,408.5 1390.5,410.8 1392.0,411.5C1393.6,412.2 1395.1,413.1 1396.7,413.1C1398.4,413.1 1400.1,406.1 1401.8,406.1C1403.7,406.1 1405.6,425.1 1407.5,425.1C1409.1,425.1 1410.6,406.6 1412.2,406.6C1414.0,406.6 1415.7,411.5 1417.5,411.5C1418.8,411.5 1420.0,410.8 1421.3,410.1C1422.7,409.5 1424.0,406.6 1425.4,406.6C1426.6,406.6 1427.8,422.7 1429.0,422.7C1430.3,422.7 1431.7,406.1 1433.0,406.1C1434.4,406.1 1435.8,411.5 1437.2,411.5C1438.8,411.5 1440.4,411.5 1442.0,411.5C1443.3,411.5 1444.7,411.7 1446.0,411.7C1448.0,411.7 1450.0,411.5 1452.0,411.4C1454.0,411.4 1456.0,411.2 1458.0,411.2C1460.0,411.2 1462.0,412.1 1464.0,412.1C1466.0,412.1 1468.0,412.1 1470.0,412.1C1472.0,412.1 1474.0,412.0 1476.0,411.9C1478.0,411.9 1480.0,411.8 1482.0,411.7C1484.0,411.7 1486.0,411.3 1488.0,411.3C1490.0,411.2 1492.0,411.2 1494.0,411.2C1496.0,411.2 1498.0,411.2 1500.0,411.2C1502.0,411.2 1504.0,411.0 1506.0,411.0C1508.0,411.0 1510.0,411.8 1512.0,411.8C1514.0,411.8 1516.0,411.4 1518.0,411.4C1520.0,411.4 1522.0,411.9 1524.0,411.9C1526.0,411.9 1528.0,411.4 1530.0,411.4C1532.0,411.4 1534.0,412.0 1536.0,412.0C1538.0,412.0 1540.0,412.0 1542.0,411.9C1544.0,411.8 1546.0,410.9 1548.0,410.9C1550.0,410.9 1552.0,411.0 1554.0,411.2C1554.7,411.2 1555.3,411.4 1556.0,411.5C1559.7,412.0 1563.5,412.8 1567.2,412.8C1568.1,412.8 1569.1,409.8 1570.0,409.8C1571.3,409.8 1572.7,413.2 1574.0,413.2C1575.3,413.2 1576.7,410.2 1578.0,410.2C1579.3,410.2 1580.7,412.8 1582.0,412.8C1583.0,412.8 1584.0,409.8 1585.0,409.8C1586.0,409.8 1587.0,413.2 1588.0,413.2C1589.3,413.2 1590.7,411.5 1592.0,411.5C1594.8,411.5 1597.5,412.0 1600.2,412.0C1603.0,412.0 1605.8,411.5 1608.5,411.5C1611.2,411.5 1614.0,412.1 1616.8,412.1C1619.5,412.1 1622.2,411.5 1625.0,411.5C1626.3,411.5 1627.7,411.9 1629.0,412.3C1630.2,412.8 1631.5,416.0 1632.7,416.0C1633.6,416.0 1634.5,407.6 1635.4,407.6C1636.6,407.6 1637.8,412.3 1639.0,412.3C1640.3,412.3 1641.7,411.5 1643.0,411.5C1647.0,411.5 1651.0,411.5 1655.0,411.5C1658.7,411.5 1662.3,413.6 1666.0,413.6C1667.3,413.6 1668.7,411.3 1670.0,410.7C1671.5,409.9 1673.0,408.9 1674.5,408.9C1676.3,408.9 1678.2,411.5 1680.0,412.3C1682.1,413.3 1684.2,414.5 1686.3,414.5C1687.5,414.5 1688.8,406.5 1690.0,406.5C1691.3,406.5 1692.7,413.2 1694.0,413.2C1695.3,413.2 1696.7,411.5 1698.0,411.5C1700.6,411.4 1703.2,411.4 1705.8,411.4C1708.4,411.3 1711.1,411.0 1713.7,411.0C1716.3,411.0 1718.9,411.6 1721.5,411.7C1724.1,411.7 1726.7,411.8 1729.3,411.8C1731.9,411.8 1734.6,411.2 1737.2,411.2C1739.8,411.2 1742.4,411.5 1745.0,411.5C1747.5,411.5 1750.1,406.5 1752.6,406.5C1753.9,406.5 1755.3,419.4 1756.6,419.4C1758.4,419.4 1760.2,411.0 1762.0,410.2C1764.9,408.8 1767.9,408.0 1770.8,408.0C1773.2,408.0 1775.6,409.8 1778.0,411.5C1779.8,412.8 1781.7,417.5 1783.5,417.5C1785.0,417.5 1786.5,412.0 1788.0,411.5C1790.1,410.8 1792.3,410.4 1794.4,410.4C1797.9,410.4 1801.5,410.5 1805.0,410.7C1808.7,410.8 1812.5,413.8 1816.2,413.8C1818.1,413.8 1820.1,410.7 1822.0,410.7C1824.0,410.7 1826.0,411.5 1828.0,411.5C1830.7,411.5 1833.5,405.8 1836.2,405.8C1837.9,405.8 1839.6,416.5 1841.3,416.5C1842.9,416.5 1844.6,410.2 1846.2,410.2C1848.9,410.2 1851.7,412.8 1854.4,412.8C1856.8,412.8 1859.2,408.4 1861.6,408.4C1863.4,408.4 1865.3,412.6 1867.1,412.6C1868.9,412.6 1870.7,410.2 1872.5,410.2C1874.6,410.2 1876.7,414.9 1878.8,414.9C1879.8,414.9 1880.7,410.0 1881.7,410.0C1883.3,410.0 1884.8,412.8 1886.4,412.8C1888.2,412.8 1889.9,410.0 1891.7,410.0C1893.5,410.0 1895.2,410.2 1897.0,410.5C1898.5,410.7 1900.1,411.8 1901.6,412.5C1903.2,413.3 1904.7,414.9 1906.3,414.9C1908.5,414.9 1910.6,408.6 1912.8,408.6C1914.4,408.6 1915.9,414.4 1917.5,414.4C1918.9,414.4 1920.2,409.6 1921.6,407.0C1923.1,404.3 1924.5,398.2 1926.0,398.2C1926.9,398.2 1927.7,401.8 1928.6,405.1C1929.8,409.6 1930.9,432.7 1932.1,432.7C1933.1,432.7 1934.0,420.7 1935.0,414.9C1935.9,409.6 1936.8,399.2 1937.7,399.2C1938.8,399.2 1939.8,412.0 1940.9,412.0C1941.7,412.0 1942.4,406.1 1943.2,406.1C1944.2,406.1 1945.2,418.4 1946.2,418.4C1947.6,418.4 1948.9,393.3 1950.3,393.3C1951.6,393.3 1952.8,447.9 1954.1,447.9C1955.4,447.9 1956.6,375.0 1957.9,375.0C1959.8,375.0 1961.6,432.7 1963.5,432.7C1964.7,432.7 1966.0,400.7 1967.2,400.7C1968.8,400.7 1970.3,432.2 1971.9,432.2C1973.2,432.2 1974.4,411.5 1975.7,411.5C1976.8,411.5 1977.9,425.3 1979.0,425.3C1981.1,425.3 1983.3,397.7 1985.4,397.7C1986.8,397.7 1988.1,406.5 1989.5,406.5C1990.5,406.5 1991.4,406.1 1992.4,406.1C1993.6,406.1 1994.8,412.6 1996.0,413.9C1997.4,415.4 1998.7,416.9 2000.1,416.9C2001.5,416.9 2002.8,408.6 2004.2,408.6C2005.6,408.6 2006.9,412.5 2008.3,412.5C2009.9,412.5 2011.6,406.5 2013.2,406.5C2014.9,406.5 2016.5,418.4 2018.2,418.4C2019.4,418.4 2020.5,411.0 2021.7,411.0C2023.1,411.0 2024.4,412.8 2025.8,412.8C2027.2,412.8 2028.5,409.2 2029.9,409.2C2031.3,409.2 2032.6,411.5 2034.0,411.5C2036.4,411.5 2038.7,409.1 2041.1,409.1C2042.8,409.1 2044.6,416.9 2046.3,416.9C2048.5,416.9 2050.6,409.1 2052.8,409.1C2054.4,409.1 2055.9,409.4 2057.5,409.8C2059.4,410.3 2061.2,415.4 2063.1,415.4C2065.1,415.4 2067.2,409.6 2069.2,409.6C2070.8,409.6 2072.3,412.5 2073.9,412.5C2076.2,412.5 2078.6,410.8 2080.9,410.8C2083.2,410.8 2085.6,411.1 2087.9,411.5C2089.5,411.8 2091.0,414.4 2092.6,414.4C2094.6,414.4 2096.5,408.1 2098.5,408.1C2099.9,408.1 2101.2,421.3 2102.6,421.3C2103.6,421.3 2104.5,413.0 2105.5,413.0C2106.3,413.0 2107.1,416.3 2107.9,421.3" fill="none" stroke="#ffeb00" stroke-width="3.3" stroke-linejoin="round" stroke-linecap="round"/>
<path d="M1180.0,326.3C1182.0,326.4 1184.0,326.5 1186.0,326.5C1188.0,326.5 1190.0,326.5 1192.0,326.5C1194.0,326.5 1196.0,326.0 1198.0,325.9C1200.0,325.8 1202.0,325.7 1204.0,325.7C1206.0,325.7 1208.0,326.1 1210.0,326.1C1212.0,326.1 1214.0,326.0 1216.0,326.0C1218.0,326.0 1220.0,326.7 1222.0,326.7C1224.0,326.7 1226.0,326.6 1228.0,326.5C1230.0,326.5 1232.0,326.4 1234.0,326.4C1236.0,326.4 1238.0,326.4 1240.0,326.4C1242.0,326.4 1244.0,326.5 1246.0,326.5C1248.0,326.5 1250.0,325.9 1252.0,325.9C1254.0,325.9 1256.0,326.2 1258.0,326.2C1260.0,326.2 1262.0,325.9 1264.0,325.9C1266.0,325.9 1268.0,326.8 1270.0,326.8C1272.0,326.8 1274.0,325.8 1276.0,325.8C1278.0,325.8 1280.0,326.7 1282.0,326.7C1284.0,326.7 1286.0,325.8 1288.0,325.8C1290.0,325.8 1292.0,326.5 1294.0,326.5C1296.0,326.5 1298.0,326.1 1300.0,326.1C1302.0,326.1 1304.0,326.1 1306.0,326.2C1308.0,326.2 1310.0,326.7 1312.0,326.7C1314.0,326.7 1316.0,325.7 1318.0,325.7C1320.0,325.7 1322.0,325.7 1324.0,325.8C1326.0,325.8 1328.0,326.8 1330.0,326.8C1332.0,326.8 1334.0,326.5 1336.0,326.3C1338.0,326.1 1340.0,325.8 1342.0,325.8C1344.0,325.8 1346.0,326.9 1348.0,326.9C1350.0,326.9 1352.0,326.9 1354.0,326.8C1356.0,326.8 1358.0,325.8 1360.0,325.8C1362.0,325.8 1364.0,326.2 1366.0,326.2C1368.0,326.2 1370.0,325.9 1372.0,325.9C1373.3,325.9 1374.7,326.1 1376.0,326.3C1378.3,326.6 1380.5,327.4 1382.8,327.4C1384.3,327.4 1385.9,323.8 1387.4,323.8C1388.9,323.8 1390.5,325.7 1392.0,326.3C1393.6,326.9 1395.1,327.6 1396.7,327.6C1398.4,327.6 1400.1,321.8 1401.8,321.8C1403.7,321.8 1405.6,337.5 1407.5,337.5C1409.1,337.5 1410.6,322.3 1412.2,322.3C1414.0,322.3 1415.7,326.3 1417.5,326.3C1418.8,326.3 1420.0,325.7 1421.3,325.2C1422.7,324.6 1424.0,322.3 1425.4,322.3C1426.6,322.3 1427.8,335.5 1429.0,335.5C1430.3,335.5 1431.7,321.8 1433.0,321.8C1434.4,321.8 1435.8,326.3 1437.2,326.3C1438.8,326.3 1440.4,326.3 1442.0,326.3C1443.3,326.3 1444.7,326.1 1446.0,326.1C1448.0,326.1 1450.0,326.4 1452.0,326.4C1454.0,326.4 1456.0,325.9 1458.0,325.9C1460.0,325.9 1462.0,326.5 1464.0,326.5C1466.0,326.5 1468.0,325.8 1470.0,325.8C1472.0,325.8 1474.0,325.8 1476.0,325.9C1478.0,326.0 1480.0,326.7 1482.0,326.7C1484.0,326.7 1486.0,326.2 1488.0,326.2C1490.0,326.2 1492.0,326.2 1494.0,326.2C1496.0,326.2 1498.0,326.4 1500.0,326.4C1502.0,326.4 1504.0,326.3 1506.0,326.3C1508.0,326.2 1510.0,326.2 1512.0,326.2C1514.0,326.1 1516.0,325.7 1518.0,325.7C1520.0,325.7 1522.0,326.4 1524.0,326.6C1526.0,326.7 1528.0,326.9 1530.0,326.9C1532.0,326.9 1534.0,326.9 1536.0,326.9C1538.0,326.9 1540.0,326.6 1542.0,326.5C1544.0,326.4 1546.0,326.1 1548.0,326.1C1550.0,326.1 1552.0,326.1 1554.0,326.1C1554.7,326.1 1555.3,326.2 1556.0,326.3C1559.7,326.7 1563.5,327.8 1567.2,327.8C1568.1,327.8 1569.1,324.3 1570.0,324.3C1571.3,324.3 1572.7,328.3 1574.0,328.3C1575.3,328.3 1576.7,324.8 1578.0,324.8C1579.3,324.8 1580.7,327.8 1582.0,327.8C1583.0,327.8 1584.0,324.3 1585.0,324.3C1586.0,324.3 1587.0,328.3 1588.0,328.3C1589.3,328.3 1590.7,326.3 1592.0,326.3C1594.8,326.3 1597.5,326.5 1600.2,326.5C1603.0,326.5 1605.8,326.5 1608.5,326.5C1611.2,326.5 1614.0,325.8 1616.8,325.8C1619.5,325.8 1622.2,326.0 1625.0,326.3C1626.3,326.4 1627.7,326.7 1629.0,327.3C1630.2,327.8 1631.5,331.7 1632.7,331.7C1633.6,331.7 1634.5,321.7 1635.4,321.7C1636.6,321.7 1637.8,327.3 1639.0,327.3C1640.3,327.3 1641.7,326.3 1643.0,326.3C1647.0,326.3 1651.0,326.3 1655.0,326.3C1658.7,326.3 1662.3,328.8 1666.0,328.8C1667.3,328.8 1668.7,326.1 1670.0,325.3C1671.5,324.4 1673.0,323.2 1674.5,323.2C1676.3,323.2 1678.2,326.3 1680.0,327.3C1682.1,328.4 1684.2,329.9 1686.3,329.9C1687.5,329.9 1688.8,320.3 1690.0,320.3C1691.3,320.3 1692.7,328.3 1694.0,328.3C1695.3,328.3 1696.7,326.4 1698.0,326.3C1700.6,326.1 1703.2,326.0 1705.8,326.0C1708.4,326.0 1711.1,326.1 1713.7,326.1C1716.3,326.2 1718.9,326.2 1721.5,326.3C1724.1,326.4 1726.7,326.7 1729.3,326.7C1731.9,326.7 1734.6,326.3 1737.2,326.3C1739.8,326.3 1742.4,326.3 1745.0,326.3C1747.5,326.3 1750.1,322.6 1752.6,322.6C1753.9,322.6 1755.3,332.2 1756.6,332.2C1758.4,332.2 1760.2,326.4 1762.0,325.3C1764.9,323.6 1767.9,322.1 1770.8,322.1C1773.2,322.1 1775.6,324.3 1778.0,326.3C1779.8,327.8 1781.7,333.5 1783.5,333.5C1785.0,333.5 1786.5,326.9 1788.0,326.3C1790.1,325.5 1792.3,325.0 1794.4,325.0C1797.9,325.0 1801.5,325.1 1805.0,325.3C1808.7,325.5 1812.5,329.0 1816.2,329.0C1818.1,329.0 1820.1,325.3 1822.0,325.3C1824.0,325.3 1826.0,326.3 1828.0,326.3C1830.7,326.3 1833.5,319.5 1836.2,319.5C1837.9,319.5 1839.6,332.2 1841.3,332.2C1842.9,332.2 1844.6,324.8 1846.2,324.8C1848.9,324.8 1851.7,327.8 1854.4,327.8C1856.8,327.8 1859.2,322.6 1861.6,322.6C1863.4,322.6 1865.3,327.6 1867.1,327.6C1868.9,327.6 1870.7,324.8 1872.5,324.8C1874.6,324.8 1876.7,330.4 1878.8,330.4C1879.8,330.4 1880.7,324.5 1881.7,324.5C1883.3,324.5 1884.8,327.8 1886.4,327.8C1888.2,327.8 1889.9,324.5 1891.7,324.5C1893.5,324.5 1895.2,324.8 1897.0,325.1C1898.5,325.4 1900.1,326.6 1901.6,327.5C1903.2,328.4 1904.7,330.4 1906.3,330.4C1908.5,330.4 1910.6,322.8 1912.8,322.8C1914.4,322.8 1915.9,329.8 1917.5,329.8C1918.9,329.8 1920.2,324.1 1921.6,321.0C1923.1,317.7 1924.5,310.5 1926.0,310.5C1926.9,310.5 1927.7,314.7 1928.6,318.7C1929.8,324.1 1930.9,351.5 1932.1,351.5C1933.1,351.5 1934.0,337.3 1935.0,330.4C1935.9,324.0 1936.8,311.7 1937.7,311.7C1938.8,311.7 1939.8,326.9 1940.9,326.9C1941.7,326.9 1942.4,319.9 1943.2,319.9C1944.2,319.9 1945.2,334.5 1946.2,334.5C1947.6,334.5 1948.9,304.6 1950.3,304.6C1951.6,304.6 1952.8,369.6 1954.1,369.6C1955.4,369.6 1956.6,282.9 1957.9,282.9C1959.8,282.9 1961.6,351.5 1963.5,351.5C1964.7,351.5 1966.0,313.4 1967.2,313.4C1968.8,313.4 1970.3,350.9 1971.9,350.9C1973.2,350.9 1974.4,326.3 1975.7,326.3C1976.8,326.3 1977.9,342.7 1979.0,342.7C1981.1,342.7 1983.3,309.9 1985.4,309.9C1986.8,309.9 1988.1,320.4 1989.5,320.4C1990.5,320.4 1991.4,319.9 1992.4,319.9C1993.6,319.9 1994.8,327.6 1996.0,329.2C1997.4,331.0 1998.7,332.7 2000.1,332.7C2001.5,332.7 2002.8,322.8 2004.2,322.8C2005.6,322.8 2006.9,327.5 2008.3,327.5C2009.9,327.5 2011.6,320.4 2013.2,320.4C2014.9,320.4 2016.5,334.5 2018.2,334.5C2019.4,334.5 2020.5,325.7 2021.7,325.7C2023.1,325.7 2024.4,327.8 2025.8,327.8C2027.2,327.8 2028.5,323.6 2029.9,323.6C2031.3,323.6 2032.6,326.3 2034.0,326.3C2036.4,326.3 2038.7,323.4 2041.1,323.4C2042.8,323.4 2044.6,332.7 2046.3,332.7C2048.5,332.7 2050.6,323.4 2052.8,323.4C2054.4,323.4 2055.9,323.8 2057.5,324.3C2059.4,324.9 2061.2,331.0 2063.1,331.0C2065.1,331.0 2067.2,324.0 2069.2,324.0C2070.8,324.0 2072.3,327.5 2073.9,327.5C2076.2,327.5 2078.6,325.5 2080.9,325.5C2083.2,325.5 2085.6,325.8 2087.9,326.3C2089.5,326.6 2091.0,329.8 2092.6,329.8C2094.6,329.8 2096.5,322.2 2098.5,322.2C2099.9,322.2 2101.2,338.0 2102.6,338.0C2103.6,338.0 2104.5,328.1 2105.5,328.1C2106.3,328.1 2107.1,332.0 2107.9,338.0" fill="none" stroke="#999999" stroke-width="3.3" stroke-linejoin="round" stroke-linecap="round"/>
<rect x="1876.1" y="273.6" width="161.7" height="506.9" fill="rgb(130,250,250)" fill-opacity="0.28"/>
<path d="M1178.5,100.8 L1178.5,788.2 L2110.6,788.2" fill="none" stroke="#000" stroke-width="3"/>
<line x1="1165.5" y1="788.2" x2="1178.5" y2="788.2" stroke="#000" stroke-width="2.6"/>
<text x="1155.0" y="796.8" font-size="26.0" text-anchor="end" font-weight="bold" font-family="'Liberation Serif','Times New Roman',serif">0.0</text>
<line x1="1172.0" y1="739.1" x2="1178.5" y2="739.1" stroke="#000" stroke-width="2.6"/>
<line x1="1165.5" y1="690.0" x2="1178.5" y2="690.0" stroke="#000" stroke-width="2.6"/>
<text x="1155.0" y="698.6" font-size="26.0" text-anchor="end" font-weight="bold" font-family="'Liberation Serif','Times New Roman',serif">0.1</text>
<line x1="1172.0" y1="640.9" x2="1178.5" y2="640.9" stroke="#000" stroke-width="2.6"/>
<line x1="1165.5" y1="591.8" x2="1178.5" y2="591.8" stroke="#000" stroke-width="2.6"/>
<text x="1155.0" y="600.4" font-size="26.0" text-anchor="end" font-weight="bold" font-family="'Liberation Serif','Times New Roman',serif">0.2</text>
<line x1="1172.0" y1="542.7" x2="1178.5" y2="542.7" stroke="#000" stroke-width="2.6"/>
<line x1="1165.5" y1="493.6" x2="1178.5" y2="493.6" stroke="#000" stroke-width="2.6"/>
<text x="1155.0" y="502.2" font-size="26.0" text-anchor="end" font-weight="bold" font-family="'Liberation Serif','Times New Roman',serif">0.3</text>
<line x1="1172.0" y1="444.5" x2="1178.5" y2="444.5" stroke="#000" stroke-width="2.6"/>
<line x1="1165.5" y1="395.4" x2="1178.5" y2="395.4" stroke="#000" stroke-width="2.6"/>
<text x="1155.0" y="404.0" font-size="26.0" text-anchor="end" font-weight="bold" font-family="'Liberation Serif','Times New Roman',serif">0.4</text>
<line x1="1172.0" y1="346.3" x2="1178.5" y2="346.3" stroke="#000" stroke-width="2.6"/>
<line x1="1165.5" y1="297.2" x2="1178.5" y2="297.2" stroke="#000" stroke-width="2.6"/>
<text x="1155.0" y="305.8" font-size="26.0" text-anchor="end" font-weight="bold" font-family="'Liberation Serif','Times New Roman',serif">0.5</text>
<line x1="1172.0" y1="248.1" x2="1178.5" y2="248.1" stroke="#000" stroke-width="2.6"/>
<line x1="1165.5" y1="199.0" x2="1178.5" y2="199.0" stroke="#000" stroke-width="2.6"/>
<text x="1155.0" y="207.6" font-size="26.0" text-anchor="end" font-weight="bold" font-family="'Liberation Serif','Times New Roman',serif">0.6</text>
<line x1="1172.0" y1="149.9" x2="1178.5" y2="149.9" stroke="#000" stroke-width="2.6"/>
<line x1="1165.5" y1="100.8" x2="1178.5" y2="100.8" stroke="#000" stroke-width="2.6"/>
<text x="1155.0" y="109.4" font-size="26.0" text-anchor="end" font-weight="bold" font-family="'Liberation Serif','Times New Roman',serif">0.7</text>
<line x1="1207.9" y1="788.2" x2="1207.9" y2="801.2" stroke="#000" stroke-width="2.6"/>
<text x="1207.9" y="831.2" font-size="26.0" text-anchor="middle" font-weight="bold" font-family="'Liberation Serif','Times New Roman',serif">3600</text>
<line x1="1296.7" y1="788.2" x2="1296.7" y2="794.7" stroke="#000" stroke-width="2.6"/>
<line x1="1385.5" y1="788.2" x2="1385.5" y2="801.2" stroke="#000" stroke-width="2.6"/>
<text x="1385.5" y="831.2" font-size="26.0" text-anchor="middle" font-weight="bold" font-family="'Liberation Serif','Times New Roman',serif">3000</text>
<line x1="1474.2" y1="788.2" x2="1474.2" y2="794.7" stroke="#000" stroke-width="2.6"/>
<line x1="1563.0" y1="788.2" x2="1563.0" y2="801.2" stroke="#000" stroke-width="2.6"/>
<text x="1563.0" y="831.2" font-size="26.0" text-anchor="middle" font-weight="bold" font-family="'Liberation Serif','Times New Roman',serif">2400</text>
<line x1="1651.8" y1="788.2" x2="1651.8" y2="794.7" stroke="#000" stroke-width="2.6"/>
<line x1="1740.6" y1="788.2" x2="1740.6" y2="801.2" stroke="#000" stroke-width="2.6"/>
<text x="1740.6" y="831.2" font-size="26.0" text-anchor="middle" font-weight="bold" font-family="'Liberation Serif','Times New Roman',serif">1800</text>
<line x1="1829.4" y1="788.2" x2="1829.4" y2="794.7" stroke="#000" stroke-width="2.6"/>
<line x1="1918.1" y1="788.2" x2="1918.1" y2="801.2" stroke="#000" stroke-width="2.6"/>
<text x="1918.1" y="831.2" font-size="26.0" text-anchor="middle" font-weight="bold" font-family="'Liberation Serif','Times New Roman',serif">1200</text>
<line x1="2006.9" y1="788.2" x2="2006.9" y2="794.7" stroke="#000" stroke-width="2.6"/>
<line x1="2095.7" y1="788.2" x2="2095.7" y2="801.2" stroke="#000" stroke-width="2.6"/>
<text x="2095.7" y="831.2" font-size="26.0" text-anchor="middle" font-weight="bold" font-family="'Liberation Serif','Times New Roman',serif">600</text>
<text x="1099.3" y="447.9" font-size="29.5" text-anchor="middle" font-weight="bold" font-family="'Liberation Serif','Times New Roman',serif" transform="rotate(-90 1099.3 447.9)">Absorbance</text>
<text x="1532.4" y="893.6" font-size="29.2" font-weight="bold" font-family="'Liberation Serif','Times New Roman',serif">Wave number (cm<tspan dy="-15" font-size="27">-1</tspan><tspan dy="15">)</tspan></text>
<text x="1090.2" y="138.0" font-size="59.0" text-anchor="middle" font-weight="bold" font-family="'Liberation Serif','Times New Roman',serif">c</text>
<line x1="1965.5" y1="40.7" x2="2022.6" y2="40.7" stroke="#999999" stroke-width="3.6" stroke-linecap="round"/>
<text x="2029.0" y="49.7" font-size="18.5" text-anchor="start" font-weight="bold" font-family="'Liberation Serif','Times New Roman',serif">Honghe</text>
<line x1="1965.5" y1="72.8" x2="2022.6" y2="72.8" stroke="#ffeb00" stroke-width="3.6" stroke-linecap="round"/>
<text x="2029.0" y="81.8" font-size="18.5" text-anchor="start" font-weight="bold" font-family="'Liberation Serif','Times New Roman',serif">Lijiang</text>
<line x1="1965.5" y1="105.0" x2="2022.6" y2="105.0" stroke="#bb4dff" stroke-width="3.6" stroke-linecap="round"/>
<text x="2029.0" y="114.0" font-size="18.5" text-anchor="start" font-weight="bold" font-family="'Liberation Serif','Times New Roman',serif">Dali</text>
<line x1="1965.5" y1="137.1" x2="2022.6" y2="137.1" stroke="#45f545" stroke-width="3.6" stroke-linecap="round"/>
<text x="2029.0" y="146.1" font-size="18.5" text-anchor="start" font-weight="bold" font-family="'Liberation Serif','Times New Roman',serif">Chuxiong</text>
<line x1="1965.5" y1="169.3" x2="2022.6" y2="169.3" stroke="#45a5ff" stroke-width="3.6" stroke-linecap="round"/>
<text x="2029.0" y="178.3" font-size="18.5" text-anchor="start" font-weight="bold" font-family="'Liberation Serif','Times New Roman',serif">Yuxi</text>
<line x1="1965.5" y1="201.4" x2="2022.6" y2="201.4" stroke="#ff4747" stroke-width="3.6" stroke-linecap="round"/>
<text x="2029.0" y="210.4" font-size="18.5" text-anchor="start" font-weight="bold" font-family="'Liberation Serif','Times New Roman',serif">Kunming</text>
<g stroke="rgb(120,250,250)" stroke-opacity="0.25" stroke-width="7" stroke-linecap="round" stroke-linejoin="round" fill="none"><line x1="1864" y1="252.5" x2="1670" y2="199"/><polygon points="1626.5,187.3 1672.5,188 1665.3,209.5" fill="rgb(120,250,250)" fill-opacity="0.35"/></g>
<line x1="1232.4" y1="158.2" x2="1608.4" y2="158.2" stroke="#000" stroke-width="1.3"/>
<path d="M1232.4,153.2C1233.8,154.9 1235.3,157.0 1236.7,159.3C1238.1,161.6 1239.6,167.4 1241.0,167.4C1243.5,167.4 1246.0,153.9 1248.5,153.9C1250.7,153.9 1252.8,158.7 1255.0,159.3C1256.8,159.8 1258.6,160.3 1260.4,160.3C1262.9,160.3 1265.4,151.7 1267.9,151.7C1269.7,151.7 1271.5,155.4 1273.3,155.4C1275.1,155.4 1276.9,154.5 1278.7,154.5C1280.8,154.5 1283.0,159.7 1285.1,159.7C1286.9,159.7 1288.7,157.1 1290.5,157.1C1293.0,157.1 1295.5,166.8 1298.0,166.8C1300.2,166.8 1302.3,163.9 1304.5,161.4C1306.7,158.9 1308.8,148.5 1311.0,148.5C1314.2,148.5 1317.4,164.6 1320.6,164.6C1322.1,164.6 1323.5,153.2 1325.0,148.5C1327.9,139.3 1330.7,127.4 1333.6,124.8C1335.2,123.4 1336.7,122.0 1338.3,122.0C1339.6,122.0 1340.9,125.4 1342.2,129.1C1344.7,136.3 1347.2,204.0 1349.7,204.0C1351.5,204.0 1353.3,199.4 1355.1,193.7C1357.1,187.4 1359.1,134.0 1361.1,134.0C1363.0,134.0 1365.0,150.6 1366.9,150.6C1368.7,150.6 1370.5,139.9 1372.3,139.9C1374.3,139.9 1376.3,178.6 1378.3,178.6C1380.8,178.6 1383.4,97.5 1385.9,97.5C1388.9,97.5 1391.9,275.5 1394.9,275.5C1397.6,275.5 1400.2,39.8 1402.9,39.8C1406.2,39.8 1409.4,222.0 1412.7,222.0C1415.6,222.0 1418.5,121.6 1421.4,121.6C1424.4,121.6 1427.4,209.0 1430.4,209.0C1432.8,209.0 1435.1,147.5 1437.5,147.5C1440.0,147.5 1442.5,210.5 1445.0,210.5C1449.1,210.5 1453.2,111.0 1457.3,111.0C1460.5,111.0 1463.8,141.0 1467.0,141.0C1468.8,141.0 1470.6,136.7 1472.4,136.7C1474.9,136.7 1477.4,157.7 1479.9,163.6C1482.6,170.1 1485.4,178.0 1488.1,178.0C1491.1,178.0 1494.1,148.5 1497.1,148.5C1499.6,148.5 1502.2,158.8 1504.7,158.8C1508.3,158.8 1511.8,142.0 1515.4,142.0C1518.3,142.0 1521.1,178.6 1524.0,178.6C1526.5,178.6 1529.0,156.0 1531.5,156.0C1534.4,156.0 1537.3,159.3 1540.2,159.3C1543.2,159.3 1546.2,150.6 1549.2,150.6C1551.2,150.6 1553.2,158.2 1555.2,158.2C1558.1,158.2 1560.9,157.7 1563.8,157.1C1566.7,156.5 1569.5,150.6 1572.4,150.6C1575.6,150.6 1578.9,174.3 1582.1,174.3C1585.7,174.3 1589.3,167.8 1592.9,151.7" fill="none" stroke="#45f545" stroke-width="2" stroke-linejoin="round"/>
<path d="M1232.4,153.2C1233.8,154.9 1235.3,157.0 1236.7,159.3C1238.1,161.6 1239.6,167.4 1241.0,167.4C1243.5,167.4 1246.0,153.9 1248.5,153.9C1250.7,153.9 1252.8,158.7 1255.0,159.3C1256.8,159.8 1258.6,160.3 1260.4,160.3C1262.9,160.3 1265.4,151.7 1267.9,151.7C1269.7,151.7 1271.5,155.4 1273.3,155.4C1275.1,155.4 1276.9,154.5 1278.7,154.5C1280.8,154.5 1283.0,159.7 1285.1,159.7C1286.9,159.7 1288.7,157.1 1290.5,157.1C1293.0,157.1 1295.5,166.8 1298.0,166.8C1300.2,166.8 1302.3,163.9 1304.5,161.4C1306.7,158.9 1308.8,148.5 1311.0,148.5C1314.2,148.5 1317.4,164.6 1320.6,164.6C1322.1,164.6 1323.5,153.2 1325.0,148.5C1327.9,139.3 1330.7,128.2 1333.6,124.8C1335.2,122.9 1336.7,121.0 1338.3,121.0C1339.6,121.0 1340.9,124.8 1342.2,129.1C1344.7,137.3 1347.2,218.0 1349.7,218.0C1351.5,218.0 1353.3,205.3 1355.1,193.7C1357.1,180.8 1359.1,124.4 1361.1,124.4C1363.0,124.4 1365.0,150.6 1366.9,150.6C1368.7,150.6 1370.5,139.9 1372.3,139.9C1374.3,139.9 1376.3,178.6 1378.3,178.6C1380.8,178.6 1383.4,108.0 1385.9,108.0C1388.9,108.0 1391.9,275.5 1394.9,275.5C1397.6,275.5 1400.2,39.8 1402.9,39.8C1406.2,39.8 1409.4,217.0 1412.7,217.0C1415.6,217.0 1418.5,132.6 1421.4,132.6C1424.4,132.6 1427.4,214.0 1430.4,214.0C1432.8,214.0 1435.1,157.1 1437.5,157.1C1440.0,157.1 1442.5,195.2 1445.0,195.2C1449.1,195.2 1453.2,118.0 1457.3,118.0C1460.5,118.0 1463.8,144.5 1467.0,144.5C1468.8,144.5 1470.6,136.7 1472.4,136.7C1474.9,136.7 1477.4,158.2 1479.9,163.6C1482.6,169.5 1485.4,176.0 1488.1,176.0C1491.1,176.0 1494.1,148.5 1497.1,148.5C1499.6,148.5 1502.2,158.8 1504.7,158.8C1508.3,158.8 1511.8,142.0 1515.4,142.0C1518.3,142.0 1521.1,178.6 1524.0,178.6C1526.5,178.6 1529.0,156.0 1531.5,156.0C1534.4,156.0 1537.3,159.3 1540.2,159.3C1543.2,159.3 1546.2,150.6 1549.2,150.6C1551.2,150.6 1553.2,158.2 1555.2,158.2C1558.1,158.2 1560.9,157.7 1563.8,157.1C1566.7,156.5 1569.5,150.6 1572.4,150.6C1575.6,150.6 1578.9,174.3 1582.1,174.3C1585.7,174.3 1589.3,167.8 1592.9,151.7" fill="none" stroke="#45a5ff" stroke-width="2" stroke-linejoin="round"/>
<path d="M1232.4,153.2C1233.8,154.9 1235.3,157.0 1236.7,159.3C1238.1,161.6 1239.6,167.4 1241.0,167.4C1243.5,167.4 1246.0,153.9 1248.5,153.9C1250.7,153.9 1252.8,158.7 1255.0,159.3C1256.8,159.8 1258.6,160.3 1260.4,160.3C1262.9,160.3 1265.4,151.7 1267.9,151.7C1269.7,151.7 1271.5,155.4 1273.3,155.4C1275.1,155.4 1276.9,154.5 1278.7,154.5C1280.8,154.5 1283.0,159.7 1285.1,159.7C1286.9,159.7 1288.7,157.1 1290.5,157.1C1293.0,157.1 1295.5,166.8 1298.0,166.8C1300.2,166.8 1302.3,163.9 1304.5,161.4C1306.7,158.9 1308.8,148.5 1311.0,148.5C1314.2,148.5 1317.4,164.6 1320.6,164.6C1322.1,164.6 1323.5,153.2 1325.0,148.5C1327.9,139.3 1330.7,132.1 1333.6,124.8C1335.2,120.8 1336.7,113.6 1338.3,113.6C1339.6,113.6 1340.9,121.7 1342.2,129.1C1344.7,143.3 1347.2,220.6 1349.7,220.6C1351.5,220.6 1353.3,206.4 1355.1,193.7C1357.1,179.6 1359.1,119.4 1361.1,119.4C1363.0,119.4 1365.0,150.6 1366.9,150.6C1368.7,150.6 1370.5,139.9 1372.3,139.9C1374.3,139.9 1376.3,178.6 1378.3,178.6C1380.8,178.6 1383.4,100.1 1385.9,100.1C1388.9,100.1 1391.9,275.5 1394.9,275.5C1397.6,275.5 1400.2,39.8 1402.9,39.8C1406.2,39.8 1409.4,227.0 1412.7,227.0C1415.6,227.0 1418.5,119.5 1421.4,119.5C1424.4,119.5 1427.4,227.0 1430.4,227.0C1432.8,227.0 1435.1,157.1 1437.5,157.1C1440.0,157.1 1442.5,203.4 1445.0,203.4C1449.1,203.4 1453.2,114.1 1457.3,114.1C1460.5,114.1 1463.8,141.0 1467.0,141.0C1468.8,141.0 1470.6,135.5 1472.4,135.5C1474.9,135.5 1477.4,158.7 1479.9,163.6C1482.6,168.9 1485.4,174.3 1488.1,174.3C1491.1,174.3 1494.1,148.5 1497.1,148.5C1499.6,148.5 1502.2,158.8 1504.7,158.8C1508.3,158.8 1511.8,142.0 1515.4,142.0C1518.3,142.0 1521.1,180.0 1524.0,180.0C1526.5,180.0 1529.0,156.0 1531.5,156.0C1534.4,156.0 1537.3,159.3 1540.2,159.3C1543.2,159.3 1546.2,150.6 1549.2,150.6C1551.2,150.6 1553.2,158.2 1555.2,158.2C1558.1,158.2 1560.9,157.7 1563.8,157.1C1566.7,156.5 1569.5,150.6 1572.4,150.6C1575.6,150.6 1578.9,174.3 1582.1,174.3C1585.7,174.3 1589.3,167.8 1592.9,151.7" fill="none" stroke="#bb4dff" stroke-width="2" stroke-linejoin="round"/>
<path d="M1232.4,153.2C1233.8,154.9 1235.3,157.0 1236.7,159.3C1238.1,161.6 1239.6,167.4 1241.0,167.4C1243.5,167.4 1246.0,153.9 1248.5,153.9C1250.7,153.9 1252.8,158.7 1255.0,159.3C1256.8,159.8 1258.6,160.3 1260.4,160.3C1262.9,160.3 1265.4,151.7 1267.9,151.7C1269.7,151.7 1271.5,155.4 1273.3,155.4C1275.1,155.4 1276.9,154.5 1278.7,154.5C1280.8,154.5 1283.0,159.7 1285.1,159.7C1286.9,159.7 1288.7,157.1 1290.5,157.1C1293.0,157.1 1295.5,166.8 1298.0,166.8C1300.2,166.8 1302.3,163.9 1304.5,161.4C1306.7,158.9 1308.8,148.5 1311.0,148.5C1314.2,148.5 1317.4,164.6 1320.6,164.6C1322.1,164.6 1323.5,153.2 1325.0,148.5C1327.9,139.3 1330.7,129.5 1333.6,124.8C1335.2,122.2 1336.7,119.0 1338.3,119.0C1339.6,119.0 1340.9,124.0 1342.2,129.1C1344.7,138.9 1347.2,210.6 1349.7,210.6C1351.5,210.6 1353.3,202.3 1355.1,193.7C1357.1,184.2 1359.1,130.8 1361.1,130.8C1363.0,130.8 1365.0,150.6 1366.9,150.6C1368.7,150.6 1370.5,139.9 1372.3,139.9C1374.3,139.9 1376.3,181.0 1378.3,181.0C1380.8,181.0 1383.4,100.1 1385.9,100.1C1388.9,100.1 1391.9,275.5 1394.9,275.5C1397.6,275.5 1400.2,39.8 1402.9,39.8C1406.2,39.8 1409.4,227.0 1412.7,227.0C1415.6,227.0 1418.5,126.0 1421.4,126.0C1424.4,126.0 1427.4,219.0 1430.4,219.0C1432.8,219.0 1435.1,154.4 1437.5,154.4C1440.0,154.4 1442.5,206.0 1445.0,206.0C1449.1,206.0 1453.2,114.1 1457.3,114.1C1460.5,114.1 1463.8,141.0 1467.0,141.0C1468.8,141.0 1470.6,136.7 1472.4,136.7C1474.9,136.7 1477.4,158.8 1479.9,163.6C1482.6,168.9 1485.4,174.3 1488.1,174.3C1491.1,174.3 1494.1,148.5 1497.1,148.5C1499.6,148.5 1502.2,158.8 1504.7,158.8C1508.3,158.8 1511.8,142.0 1515.4,142.0C1518.3,142.0 1521.1,178.6 1524.0,178.6C1526.5,178.6 1529.0,156.0 1531.5,156.0C1534.4,156.0 1537.3,159.3 1540.2,159.3C1543.2,159.3 1546.2,150.6 1549.2,150.6C1551.2,150.6 1553.2,158.2 1555.2,158.2C1558.1,158.2 1560.9,157.7 1563.8,157.1C1566.7,156.5 1569.5,150.6 1572.4,150.6C1575.6,150.6 1578.9,177.0 1582.1,177.0C1585.7,177.0 1589.3,169.7 1592.9,151.7" fill="none" stroke="#ffeb00" stroke-width="2" stroke-linejoin="round"/>
<path d="M1232.4,153.2C1233.8,154.6 1235.3,156.8 1236.7,159.3C1238.1,161.8 1239.6,169.0 1241.0,169.0C1243.5,169.0 1246.0,153.9 1248.5,153.9C1250.7,153.9 1252.8,158.7 1255.0,159.3C1256.8,159.8 1258.6,160.3 1260.4,160.3C1262.9,160.3 1265.4,151.7 1267.9,151.7C1269.7,151.7 1271.5,155.4 1273.3,155.4C1275.1,155.4 1276.9,154.5 1278.7,154.5C1280.8,154.5 1283.0,159.7 1285.1,159.7C1286.9,159.7 1288.7,157.1 1290.5,157.1C1293.0,157.1 1295.5,166.8 1298.0,166.8C1300.2,166.8 1302.3,163.9 1304.5,161.4C1306.7,158.9 1308.8,148.5 1311.0,148.5C1314.2,148.5 1317.4,164.6 1320.6,164.6C1322.1,164.6 1323.5,153.2 1325.0,148.5C1327.9,139.3 1330.7,132.1 1333.6,124.8C1335.2,120.8 1336.7,113.6 1338.3,113.6C1339.6,113.6 1340.9,121.8 1342.2,129.1C1344.7,143.2 1347.2,216.0 1349.7,216.0C1351.5,216.0 1353.3,204.8 1355.1,193.7C1357.1,181.4 1359.1,119.4 1361.1,119.4C1363.0,119.4 1365.0,150.6 1366.9,150.6C1368.7,150.6 1370.5,139.9 1372.3,139.9C1374.3,139.9 1376.3,178.6 1378.3,178.6C1380.8,178.6 1383.4,107.0 1385.9,107.0C1388.9,107.0 1391.9,275.5 1394.9,275.5C1397.6,275.5 1400.2,39.8 1402.9,39.8C1406.2,39.8 1409.4,227.0 1412.7,227.0C1415.6,227.0 1418.5,121.6 1421.4,121.6C1424.4,121.6 1427.4,226.0 1430.4,226.0C1432.8,226.0 1435.1,157.1 1437.5,157.1C1440.0,157.1 1442.5,200.0 1445.0,200.0C1449.1,200.0 1453.2,114.1 1457.3,114.1C1460.5,114.1 1463.8,141.0 1467.0,141.0C1468.8,141.0 1470.6,136.7 1472.4,136.7C1474.9,136.7 1477.4,158.8 1479.9,163.6C1482.6,168.9 1485.4,174.3 1488.1,174.3C1491.1,174.3 1494.1,148.5 1497.1,148.5C1499.6,148.5 1502.2,158.8 1504.7,158.8C1508.3,158.8 1511.8,142.0 1515.4,142.0C1518.3,142.0 1521.1,178.6 1524.0,178.6C1526.5,178.6 1529.0,156.0 1531.5,156.0C1534.4,156.0 1537.3,159.3 1540.2,159.3C1543.2,159.3 1546.2,150.6 1549.2,150.6C1551.2,150.6 1553.2,158.2 1555.2,158.2C1558.1,158.2 1560.9,157.7 1563.8,157.1C1566.7,156.5 1569.5,150.6 1572.4,150.6C1575.6,150.6 1578.9,174.3 1582.1,174.3C1585.7,174.3 1589.3,167.8 1592.9,151.7" fill="none" stroke="#ff4747" stroke-width="2" stroke-linejoin="round"/>
<path d="M1232.4,153.2C1233.8,154.9 1235.3,157.0 1236.7,159.3C1238.1,161.6 1239.6,167.4 1241.0,167.4C1243.5,167.4 1246.0,153.9 1248.5,153.9C1250.7,153.9 1252.8,158.7 1255.0,159.3C1256.8,159.8 1258.6,160.3 1260.4,160.3C1262.9,160.3 1265.4,151.7 1267.9,151.7C1269.7,151.7 1271.5,155.4 1273.3,155.4C1275.1,155.4 1276.9,154.5 1278.7,154.5C1280.8,154.5 1283.0,159.7 1285.1,159.7C1286.9,159.7 1288.7,157.1 1290.5,157.1C1293.0,157.1 1295.5,166.8 1298.0,166.8C1300.2,166.8 1302.3,163.9 1304.5,161.4C1306.7,158.9 1308.8,148.5 1311.0,148.5C1314.2,148.5 1317.4,164.6 1320.6,164.6C1322.1,164.6 1323.5,153.2 1325.0,148.5C1327.9,139.3 1330.7,132.1 1333.6,124.8C1335.2,120.8 1336.7,113.6 1338.3,113.6C1339.6,113.6 1340.9,121.6 1342.2,129.1C1344.7,143.5 1347.2,226.0 1349.7,226.0C1351.5,226.0 1353.3,208.1 1355.1,193.7C1357.1,177.7 1359.1,119.4 1361.1,119.4C1363.0,119.4 1365.0,150.6 1366.9,150.6C1368.7,150.6 1370.5,139.9 1372.3,139.9C1374.3,139.9 1376.3,178.6 1378.3,178.6C1380.8,178.6 1383.4,100.1 1385.9,100.1C1388.9,100.1 1391.9,275.5 1394.9,275.5C1397.6,275.5 1400.2,39.8 1402.9,39.8C1406.2,39.8 1409.4,227.0 1412.7,227.0C1415.6,227.0 1418.5,121.6 1421.4,121.6C1424.4,121.6 1427.4,226.0 1430.4,226.0C1432.8,226.0 1435.1,157.1 1437.5,157.1C1440.0,157.1 1442.5,203.4 1445.0,203.4C1449.1,203.4 1453.2,114.1 1457.3,114.1C1460.5,114.1 1463.8,141.0 1467.0,141.0C1468.8,141.0 1470.6,136.7 1472.4,136.7C1474.9,136.7 1477.4,158.8 1479.9,163.6C1482.6,168.9 1485.4,174.3 1488.1,174.3C1491.1,174.3 1494.1,148.5 1497.1,148.5C1499.6,148.5 1502.2,158.8 1504.7,158.8C1508.3,158.8 1511.8,142.0 1515.4,142.0C1518.3,142.0 1521.1,178.6 1524.0,178.6C1526.5,178.6 1529.0,156.0 1531.5,156.0C1534.4,156.0 1537.3,159.3 1540.2,159.3C1543.2,159.3 1546.2,150.6 1549.2,150.6C1551.2,150.6 1553.2,158.2 1555.2,158.2C1558.1,158.2 1560.9,157.7 1563.8,157.1C1566.7,156.5 1569.5,150.6 1572.4,150.6C1575.6,150.6 1578.9,174.3 1582.1,174.3C1585.7,174.3 1589.3,167.8 1592.9,151.7" fill="none" stroke="#7a2a0a" stroke-width="2" stroke-linejoin="round"/>
<path d="M1232.4,21.5 L1232.4,294.8 L1592.9,294.8" fill="none" stroke="#000" stroke-width="1.3"/>
<line x1="1226.9" y1="21.5" x2="1232.4" y2="21.5" stroke="#000" stroke-width="1.3"/>
<text x="1224.0" y="26.9" font-size="16.5" text-anchor="end" font-weight="bold" font-family="'Liberation Serif','Times New Roman',serif">0.05</text>
<line x1="1226.9" y1="158.2" x2="1232.4" y2="158.2" stroke="#000" stroke-width="1.3"/>
<text x="1224.0" y="163.6" font-size="16.5" text-anchor="end" font-weight="bold" font-family="'Liberation Serif','Times New Roman',serif">0.00</text>
<line x1="1226.9" y1="294.9" x2="1232.4" y2="294.9" stroke="#000" stroke-width="1.3"/>
<text x="1224.0" y="300.2" font-size="16.5" text-anchor="end" font-weight="bold" font-family="'Liberation Serif','Times New Roman',serif">-0.05</text>
<line x1="1229.4" y1="89.9" x2="1232.4" y2="89.9" stroke="#000" stroke-width="1.3"/>
<line x1="1229.4" y1="226.5" x2="1232.4" y2="226.5" stroke="#000" stroke-width="1.3"/>
<line x1="1262.5" y1="294.8" x2="1262.5" y2="300.3" stroke="#000" stroke-width="1.3"/>
<text x="1262.5" y="315.3" font-size="16.5" text-anchor="middle" font-weight="bold" font-family="'Liberation Serif','Times New Roman',serif">1300</text>
<line x1="1292.5" y1="294.8" x2="1292.5" y2="297.8" stroke="#000" stroke-width="1.3"/>
<line x1="1322.6" y1="294.8" x2="1322.6" y2="300.3" stroke="#000" stroke-width="1.3"/>
<text x="1322.6" y="315.3" font-size="16.5" text-anchor="middle" font-weight="bold" font-family="'Liberation Serif','Times New Roman',serif">1200</text>
<line x1="1352.6" y1="294.8" x2="1352.6" y2="297.8" stroke="#000" stroke-width="1.3"/>
<line x1="1382.6" y1="294.8" x2="1382.6" y2="300.3" stroke="#000" stroke-width="1.3"/>
<text x="1382.6" y="315.3" font-size="16.5" text-anchor="middle" font-weight="bold" font-family="'Liberation Serif','Times New Roman',serif">1100</text>
<line x1="1412.7" y1="294.8" x2="1412.7" y2="297.8" stroke="#000" stroke-width="1.3"/>
<line x1="1442.7" y1="294.8" x2="1442.7" y2="300.3" stroke="#000" stroke-width="1.3"/>
<text x="1442.7" y="315.3" font-size="16.5" text-anchor="middle" font-weight="bold" font-family="'Liberation Serif','Times New Roman',serif">1000</text>
<line x1="1472.7" y1="294.8" x2="1472.7" y2="297.8" stroke="#000" stroke-width="1.3"/>
<line x1="1502.7" y1="294.8" x2="1502.7" y2="300.3" stroke="#000" stroke-width="1.3"/>
<text x="1502.7" y="315.3" font-size="16.5" text-anchor="middle" font-weight="bold" font-family="'Liberation Serif','Times New Roman',serif">900</text>
<line x1="1532.8" y1="294.8" x2="1532.8" y2="297.8" stroke="#000" stroke-width="1.3"/>
<line x1="1562.8" y1="294.8" x2="1562.8" y2="300.3" stroke="#000" stroke-width="1.3"/>
<text x="1562.8" y="315.3" font-size="16.5" text-anchor="middle" font-weight="bold" font-family="'Liberation Serif','Times New Roman',serif">800</text>
<line x1="1592.8" y1="294.8" x2="1592.8" y2="297.8" stroke="#000" stroke-width="1.3"/>
<text x="1375.5" y="50.6" font-size="22.0" text-anchor="middle" font-weight="bold" font-family="'Liberation Serif','Times New Roman',serif">1093</text>
<text x="1461.0" y="46.3" font-size="22.0" text-anchor="middle" font-weight="bold" font-family="'Liberation Serif','Times New Roman',serif">1065</text>
<text x="1336.5" y="78.5" font-size="22.0" text-anchor="middle" font-weight="bold" font-family="'Liberation Serif','Times New Roman',serif">1135</text>
<text x="1432.5" y="77.9" font-size="22.0" text-anchor="middle" font-weight="bold" font-family="'Liberation Serif','Times New Roman',serif">1035</text>
<text x="1496.9" y="82.2" font-size="22.0" text-anchor="middle" font-weight="bold" font-family="'Liberation Serif','Times New Roman',serif">976</text>
<text x="1275.8" y="120.5" font-size="22.0" text-anchor="middle" font-weight="bold" font-family="'Liberation Serif','Times New Roman',serif">1173</text>
<text x="1526.0" y="121.0" font-size="22.0" text-anchor="middle" font-weight="bold" font-family="'Liberation Serif','Times New Roman',serif">950</text>
<text x="1496.5" y="218.9" font-size="22.0" text-anchor="middle" font-weight="bold" font-family="'Liberation Serif','Times New Roman',serif">996</text>
<text x="1291.0" y="232.4" font-size="22.0" text-anchor="middle" font-weight="bold" font-family="'Liberation Serif','Times New Roman',serif">1151</text>
<text x="1495.2" y="259.3" font-size="22.0" text-anchor="middle" font-weight="bold" font-family="'Liberation Serif','Times New Roman',serif">1020</text>
<text x="1423.5" y="277.6" font-size="22.0" text-anchor="middle" font-weight="bold" font-family="'Liberation Serif','Times New Roman',serif">1050</text>
<text x="1328.5" y="283.0" font-size="22.0" text-anchor="middle" font-weight="bold" font-family="'Liberation Serif','Times New Roman',serif">1078</text>
<path d="M1439.0,38.3 L1407.8,38.3 M1424.8,32.3 L1407.8,38.3 L1424.8,44.3" fill="none" stroke="#000" stroke-width="2.0" stroke-linecap="round" stroke-linejoin="miter"/>
<path d="M1385.9,56.4 L1385.9,94.7 M1379.9,77.7 L1385.9,94.7 L1391.9,77.7" fill="none" stroke="#000" stroke-width="2.0" stroke-linecap="round" stroke-linejoin="miter"/>
<path d="M1343.2,83.9 L1360.5,117.3 M1347.4,105.0 L1360.5,117.3 L1358.0,99.4" fill="none" stroke="#000" stroke-width="2.0" stroke-linecap="round" stroke-linejoin="miter"/>
<path d="M1421.8,82.9 L1421.8,117.3 M1415.8,100.3 L1421.8,117.3 L1427.8,100.3" fill="none" stroke="#000" stroke-width="2.0" stroke-linecap="round" stroke-linejoin="miter"/>
<path d="M1479.9,81.8 L1460.5,108.7 M1465.6,91.4 L1460.5,108.7 L1475.3,98.4" fill="none" stroke="#000" stroke-width="2.0" stroke-linecap="round" stroke-linejoin="miter"/>
<path d="M1301.3,114.1 L1335.7,114.1 M1318.7,120.1 L1335.7,114.1 L1318.7,108.1" fill="none" stroke="#000" stroke-width="2.0" stroke-linecap="round" stroke-linejoin="miter"/>
<path d="M1506.8,122.2 L1475.6,134.5 M1489.2,122.7 L1475.6,134.5 L1493.6,133.8" fill="none" stroke="#000" stroke-width="2.0" stroke-linecap="round" stroke-linejoin="miter"/>
<path d="M1478.8,212.0 L1447.6,212.0 M1464.6,206.0 L1447.6,212.0 L1464.6,218.0" fill="none" stroke="#000" stroke-width="2.0" stroke-linecap="round" stroke-linejoin="miter"/>
<path d="M1318.5,227.0 L1345.4,227.0 M1328.4,233.0 L1345.4,227.0 L1328.4,221.0" fill="none" stroke="#000" stroke-width="2.0" stroke-linecap="round" stroke-linejoin="miter"/>
<path d="M1472.4,249.6 L1431.5,228.1 M1449.3,230.7 L1431.5,228.1 L1443.8,241.3" fill="none" stroke="#000" stroke-width="2.0" stroke-linecap="round" stroke-linejoin="miter"/>
<path d="M1413.2,257.2 L1413.2,230.3 M1419.2,247.3 L1413.2,230.3 L1407.2,247.3" fill="none" stroke="#000" stroke-width="2.0" stroke-linecap="round" stroke-linejoin="miter"/>
<path d="M1354.0,275.5 L1391.7,275.5 M1374.7,281.5 L1391.7,275.5 L1374.7,269.5" fill="none" stroke="#000" stroke-width="2.0" stroke-linecap="round" stroke-linejoin="miter"/>
<line x1="227.1" y1="1017.3" x2="227.1" y2="1689.4" stroke="#c2c2c2" stroke-width="1.8" stroke-dasharray="9.5,6.7"/>
<line x1="346.9" y1="1034.4" x2="346.9" y2="1689.4" stroke="#c2c2c2" stroke-width="1.8" stroke-dasharray="9.5,6.7"/>
<line x1="366.9" y1="1080.2" x2="366.9" y2="1689.4" stroke="#c2c2c2" stroke-width="1.8" stroke-dasharray="9.5,6.7"/>
<line x1="696.5" y1="1146.0" x2="696.5" y2="1689.4" stroke="#c2c2c2" stroke-width="1.8" stroke-dasharray="9.5,6.7"/>
<line x1="735.7" y1="1050.6" x2="735.7" y2="1689.4" stroke="#c2c2c2" stroke-width="1.8" stroke-dasharray="9.5,6.7"/>
<line x1="792.5" y1="1089.0" x2="792.5" y2="1689.4" stroke="#c2c2c2" stroke-width="1.8" stroke-dasharray="9.5,6.7"/>
<line x1="821.2" y1="1112.8" x2="821.2" y2="1689.4" stroke="#c2c2c2" stroke-width="1.8" stroke-dasharray="9.5,6.7"/>
<line x1="843.6" y1="1114.4" x2="843.6" y2="1689.4" stroke="#c2c2c2" stroke-width="1.8" stroke-dasharray="9.5,6.7"/>
<line x1="884.8" y1="1047.4" x2="884.8" y2="1689.4" stroke="#c2c2c2" stroke-width="1.8" stroke-dasharray="9.5,6.7"/>
<line x1="899.1" y1="1023.8" x2="899.1" y2="1689.4" stroke="#c2c2c2" stroke-width="1.8" stroke-dasharray="9.5,6.7"/>
<line x1="939.2" y1="1143.9" x2="939.2" y2="1689.4" stroke="#c2c2c2" stroke-width="1.8" stroke-dasharray="9.5,6.7"/>
<line x1="965.9" y1="1145.9" x2="965.9" y2="1689.4" stroke="#c2c2c2" stroke-width="1.8" stroke-dasharray="9.5,6.7"/>
<line x1="1021.3" y1="1121.4" x2="1021.3" y2="1689.4" stroke="#c2c2c2" stroke-width="1.8" stroke-dasharray="9.5,6.7"/>
<path d="M116.6,1672.0C118.2,1672.7 119.9,1672.8 121.5,1672.8C125.9,1672.8 130.3,1665.8 134.7,1661.3C137.4,1658.5 140.2,1655.0 142.9,1651.5C147.3,1645.9 151.6,1641.1 156.0,1633.4C159.8,1626.6 163.7,1613.9 167.5,1605.5C171.3,1597.1 175.2,1590.5 179.0,1582.4C183.4,1573.1 187.8,1560.3 192.2,1552.9C197.1,1544.6 202.1,1537.5 207.0,1533.1C211.9,1528.7 216.9,1523.3 221.8,1523.3C226.2,1523.3 230.5,1523.3 234.9,1523.3C237.1,1523.3 239.3,1525.1 241.5,1526.6C245.9,1529.6 250.2,1539.1 254.6,1544.6C257.9,1548.7 261.2,1552.0 264.5,1556.1C272.2,1565.6 279.8,1579.2 287.5,1587.4C293.0,1593.3 298.5,1597.2 304.0,1602.2C307.8,1605.7 311.7,1611.2 315.5,1612.9C318.2,1614.1 321.0,1615.3 323.7,1615.3C325.9,1615.3 328.1,1606.3 330.3,1600.5C333.0,1593.3 335.8,1587.2 338.5,1574.2C341.2,1561.2 344.0,1498.6 346.7,1498.6C348.3,1498.6 350.0,1549.1 351.6,1559.4C354.3,1576.7 357.1,1592.3 359.8,1592.3C361.2,1592.3 362.5,1591.5 363.9,1589.8C364.8,1588.6 365.8,1549.6 366.7,1549.6C368.2,1549.6 369.8,1606.8 371.3,1612.0C374.1,1621.4 376.8,1624.3 379.6,1626.8C385.6,1632.2 391.6,1634.6 397.6,1636.7C401.7,1638.2 405.9,1638.9 410.0,1640.0C414.2,1641.2 418.4,1642.1 422.6,1643.6C429.1,1645.9 435.5,1651.1 442.0,1653.3C449.5,1655.9 457.1,1658.0 464.6,1659.1C477.5,1661.0 490.5,1663.0 503.4,1663.0C509.9,1663.0 516.3,1661.4 522.8,1661.4C529.3,1661.4 535.7,1664.7 542.2,1666.2C551.9,1668.5 561.6,1672.7 571.3,1672.7C575.6,1672.7 579.9,1668.8 584.2,1668.8C589.6,1668.8 595.0,1670.8 600.4,1672.7C604.2,1674.0 607.9,1679.1 611.7,1679.1C616.5,1679.1 621.4,1678.4 626.2,1677.5C630.5,1676.7 634.9,1673.0 639.2,1672.0C653.7,1668.8 668.3,1670.4 682.8,1666.2C685.2,1665.5 687.6,1663.3 690.0,1658.9C691.2,1656.8 692.3,1646.9 693.5,1641.2C694.7,1635.3 695.9,1624.2 697.1,1624.2C698.3,1624.2 699.4,1633.7 700.6,1635.5C702.3,1638.1 703.9,1640.5 705.6,1640.5C707.2,1640.5 708.9,1636.1 710.5,1631.3C712.2,1626.4 713.8,1608.4 715.5,1598.7C716.9,1590.4 718.4,1581.9 719.8,1576.0C721.7,1568.4 723.5,1562.2 725.4,1557.6C727.3,1552.9 729.2,1549.8 731.1,1546.3C732.7,1543.3 734.4,1537.8 736.0,1537.8C737.4,1537.8 738.9,1541.5 740.3,1544.8C742.0,1548.6 743.6,1558.5 745.3,1564.7C747.6,1573.3 750.0,1580.7 752.3,1588.8C754.2,1595.4 756.1,1604.2 758.0,1608.6C759.9,1613.0 761.8,1615.9 763.7,1618.5C765.8,1621.4 768.0,1625.6 770.1,1625.6C771.7,1625.6 773.4,1620.1 775.0,1614.3C775.9,1611.0 776.9,1598.9 777.8,1595.9C779.7,1589.7 781.6,1587.9 783.5,1584.5C784.9,1581.9 786.4,1579.2 787.8,1577.4C789.4,1575.4 791.1,1572.5 792.7,1572.5C795.3,1572.5 797.9,1580.6 800.5,1583.1C802.4,1584.9 804.3,1585.5 806.2,1587.4C808.1,1589.3 809.9,1594.8 811.8,1595.9C814.6,1597.5 817.5,1597.2 820.3,1598.7C823.1,1600.2 826.0,1608.6 828.8,1608.6C831.7,1608.6 834.5,1606.5 837.4,1605.8C839.5,1605.3 841.6,1604.4 843.7,1604.4C846.3,1604.4 848.9,1614.1 851.5,1617.1C853.9,1619.8 856.2,1623.5 858.6,1623.5C860.0,1623.5 861.5,1617.8 862.9,1612.9C863.8,1609.7 864.8,1602.0 865.7,1598.7C867.6,1592.1 869.4,1587.4 871.3,1584.5C873.2,1581.5 875.1,1582.0 877.0,1578.1C877.9,1576.2 878.9,1566.9 879.8,1560.4C881.0,1552.0 882.2,1532.1 883.4,1532.1C885.0,1532.1 886.7,1534.9 888.3,1534.9C889.7,1534.9 891.2,1522.6 892.6,1519.3C895.2,1513.2 897.8,1506.6 900.4,1506.6C902.3,1506.6 904.1,1510.3 906.0,1513.7C908.1,1517.6 910.3,1526.3 912.4,1536.3C913.8,1543.0 915.3,1554.9 916.7,1564.7C918.6,1577.4 920.4,1598.1 922.3,1604.4C924.2,1610.9 926.1,1612.7 928.0,1617.1C929.7,1621.0 931.3,1629.1 933.0,1629.1C934.9,1629.1 936.7,1627.7 938.6,1627.7C941.2,1627.7 943.8,1632.3 946.4,1634.1C949.2,1636.0 952.1,1639.1 954.9,1639.1C958.0,1639.1 961.0,1632.9 964.1,1632.0C968.1,1630.8 972.2,1631.0 976.2,1629.9C979.5,1629.0 982.8,1626.9 986.1,1624.9C989.4,1622.9 992.7,1619.1 996.0,1617.1C999.3,1615.1 1002.6,1614.0 1005.9,1612.1C1008.0,1610.9 1010.2,1607.9 1012.3,1607.9C1014.0,1607.9 1015.6,1610.0 1017.3,1610.0C1018.7,1610.0 1020.1,1607.9 1021.5,1607.9C1024.8,1607.9 1028.1,1610.1 1031.4,1612.1C1034.2,1613.9 1037.1,1617.3 1039.9,1621.4C1041.8,1624.1 1043.7,1624.7 1045.6,1632.7C1046.1,1634.7 1046.5,1646.5 1047.0,1655.4" fill="none" stroke="#ff4747" stroke-width="3.3" stroke-linejoin="round" stroke-linecap="round"/>
<path d="M116.6,1590.7C118.8,1590.7 120.9,1590.7 123.1,1590.7C127.0,1590.7 130.8,1582.8 134.7,1577.5C138.0,1573.1 141.2,1567.0 144.5,1561.1C147.8,1555.1 151.1,1549.1 154.4,1541.4C158.2,1532.4 162.1,1519.5 165.9,1508.5C170.3,1496.0 174.6,1482.4 179.0,1470.7C183.4,1458.9 187.8,1447.2 192.2,1437.8C196.6,1428.4 200.9,1420.1 205.3,1413.1C207.9,1408.9 210.6,1403.8 213.2,1401.9C218.0,1398.5 222.7,1396.2 227.5,1395.6C230.7,1395.2 233.8,1394.8 237.0,1394.8C238.6,1394.8 240.1,1396.0 241.7,1397.1C246.0,1400.2 250.3,1417.4 254.6,1424.7C258.4,1431.2 262.3,1435.2 266.1,1441.1C272.1,1450.5 278.2,1463.4 284.2,1472.3C289.7,1480.4 295.2,1487.5 300.7,1493.7C305.6,1499.3 310.6,1504.9 315.5,1508.5C318.2,1510.5 321.0,1513.4 323.7,1513.4C325.9,1513.4 328.1,1504.3 330.3,1498.6C332.5,1493.0 334.6,1484.8 336.8,1478.9C337.9,1475.9 339.0,1474.6 340.1,1470.7C342.3,1463.0 344.5,1423.0 346.7,1423.0C348.3,1423.0 350.0,1456.6 351.6,1465.7C353.8,1478.0 356.0,1491.3 358.2,1492.0C359.8,1492.5 361.5,1492.9 363.1,1492.9C364.3,1492.9 365.5,1470.7 366.7,1470.7C368.0,1470.7 369.2,1506.8 370.5,1511.8C373.5,1523.8 376.6,1528.0 379.6,1531.5C385.6,1538.4 391.6,1541.5 397.6,1544.6C402.4,1547.1 407.2,1548.6 412.0,1550.5C415.5,1551.9 419.1,1553.1 422.6,1554.7C429.1,1557.7 435.5,1563.5 442.0,1566.0C449.5,1568.9 457.1,1570.9 464.6,1572.5C477.5,1575.3 490.5,1578.9 503.4,1578.9C509.9,1578.9 516.3,1578.3 522.8,1578.3C529.3,1578.3 535.7,1582.2 542.2,1583.8C551.9,1586.2 561.6,1590.3 571.3,1590.3C575.6,1590.3 579.9,1587.0 584.2,1587.0C589.6,1587.0 595.0,1588.5 600.4,1590.3C604.2,1591.5 607.9,1598.4 611.7,1598.4C616.5,1598.4 621.4,1598.1 626.2,1597.7C630.5,1597.3 634.9,1591.2 639.2,1590.3C653.7,1587.2 668.3,1589.1 682.8,1585.4C685.2,1584.8 687.6,1581.8 690.0,1576.7C691.2,1574.2 692.3,1563.6 693.5,1557.6C694.7,1551.4 695.9,1539.9 697.1,1539.9C698.3,1539.9 699.4,1547.2 700.6,1549.1C701.8,1551.0 703.0,1553.3 704.2,1553.3C705.6,1553.3 707.0,1550.0 708.4,1546.3C709.8,1542.5 711.3,1529.4 712.7,1517.9C714.1,1506.7 715.5,1487.7 716.9,1475.4C718.1,1464.8 719.3,1453.2 720.5,1447.1C721.1,1443.9 721.8,1441.5 722.4,1439.6C724.1,1434.6 725.7,1430.4 727.4,1428.4C728.7,1426.9 729.9,1426.6 731.2,1425.3C732.6,1423.9 734.1,1419.6 735.5,1419.6C737.0,1419.6 738.4,1421.9 739.9,1424.6C740.7,1426.1 741.6,1430.2 742.4,1434.0C743.8,1440.6 745.3,1456.0 746.7,1461.3C748.6,1468.2 750.4,1469.9 752.3,1475.4C754.2,1481.0 756.1,1490.1 758.0,1495.3C759.9,1500.5 761.8,1502.0 763.7,1508.0C764.9,1511.7 766.0,1522.0 767.2,1525.0C768.4,1528.1 769.6,1531.4 770.8,1531.4C772.2,1531.4 773.6,1525.1 775.0,1519.3C775.9,1515.5 776.9,1503.3 777.8,1500.9C779.7,1495.9 781.6,1495.4 783.5,1492.4C785.4,1489.4 787.3,1486.8 789.2,1482.5C790.5,1479.6 791.8,1470.5 793.1,1470.5C794.6,1470.5 796.2,1472.5 797.7,1474.0C799.6,1475.9 801.4,1479.4 803.3,1482.5C805.7,1486.4 808.0,1493.0 810.4,1495.3C813.7,1498.5 817.0,1498.6 820.3,1501.6C822.9,1504.0 825.5,1513.7 828.1,1513.7C830.7,1513.7 833.3,1512.3 835.9,1511.5C838.5,1510.7 841.1,1508.7 843.7,1508.7C846.3,1508.7 848.9,1522.3 851.5,1526.4C853.9,1530.1 856.2,1534.9 858.6,1534.9C860.0,1534.9 861.5,1528.6 862.9,1523.6C864.3,1518.7 865.7,1506.7 867.1,1502.3C868.8,1497.0 870.4,1494.3 872.1,1491.0C873.7,1487.8 875.4,1487.4 877.0,1482.5C877.9,1479.7 878.9,1469.3 879.8,1461.3C880.9,1451.9 882.0,1428.3 883.1,1428.3C884.7,1428.3 886.3,1437.8 887.9,1437.8C889.5,1437.8 891.1,1422.5 892.7,1418.7C894.7,1413.8 896.8,1408.5 898.8,1408.5C900.8,1408.5 902.9,1412.4 904.9,1416.0C906.7,1419.2 908.6,1424.4 910.4,1432.3C911.3,1436.1 912.1,1443.6 913.0,1450.0C914.2,1459.0 915.5,1470.4 916.7,1479.7C918.6,1493.8 920.4,1513.3 922.3,1519.3C924.7,1526.8 927.0,1528.1 929.4,1533.5C930.8,1536.8 932.3,1544.8 933.7,1544.8C935.3,1544.8 937.0,1541.3 938.6,1541.3C941.2,1541.3 943.8,1544.6 946.4,1546.3C949.5,1548.3 952.5,1552.6 955.6,1552.6C958.4,1552.6 961.3,1543.4 964.1,1543.4C967.2,1543.4 970.2,1543.4 973.3,1543.4C976.1,1543.4 979.0,1536.6 981.8,1534.9C985.1,1532.9 988.5,1532.7 991.8,1530.7C994.6,1529.0 997.5,1523.5 1000.3,1522.2C1002.7,1521.1 1005.0,1521.1 1007.4,1520.1C1009.3,1519.3 1011.1,1516.5 1013.0,1516.5C1014.4,1516.5 1015.9,1518.6 1017.3,1518.6C1018.7,1518.6 1020.1,1516.5 1021.5,1516.5C1024.3,1516.5 1027.2,1519.3 1030.0,1521.5C1033.3,1524.1 1036.6,1527.8 1039.9,1533.5C1041.8,1536.8 1043.7,1539.4 1045.6,1549.1C1046.3,1552.7 1047.0,1566.3 1047.7,1578.1" fill="none" stroke="#45a5ff" stroke-width="3.3" stroke-linejoin="round" stroke-linecap="round"/>
<path d="M116.6,1443.6C121.0,1443.3 125.3,1442.3 129.7,1441.1C133.0,1440.2 136.3,1438.8 139.6,1437.0C144.0,1434.6 148.3,1430.5 152.7,1426.3C156.0,1423.1 159.3,1419.1 162.6,1414.8C166.2,1410.1 169.9,1403.3 173.5,1398.7C178.8,1392.0 184.1,1386.9 189.4,1381.3C194.7,1375.8 199.9,1368.9 205.2,1365.4C210.5,1361.9 215.8,1358.8 221.1,1357.5C225.9,1356.3 230.6,1355.1 235.4,1355.1C240.2,1355.1 244.9,1360.2 249.7,1363.0C256.0,1366.7 262.4,1370.8 268.7,1374.9C275.1,1379.0 281.4,1384.5 287.8,1387.6C294.7,1391.0 301.5,1393.2 308.4,1395.6C313.4,1397.3 318.5,1400.3 323.5,1400.3C326.9,1400.3 330.4,1386.5 333.8,1381.3C335.4,1378.9 337.0,1378.3 338.6,1374.9C340.2,1371.6 341.7,1358.8 343.3,1351.1C344.5,1345.4 345.6,1334.4 346.8,1334.4C348.0,1334.4 349.3,1355.7 350.5,1362.2C351.8,1369.1 353.1,1375.7 354.4,1378.1C356.3,1381.5 358.1,1384.4 360.0,1384.4C361.6,1384.4 363.2,1382.9 364.8,1379.7C365.5,1378.4 366.1,1361.4 366.8,1361.4C368.0,1361.4 369.1,1385.3 370.3,1389.2C372.4,1396.4 374.6,1400.0 376.7,1401.9C382.0,1406.5 387.2,1407.6 392.5,1409.8C395.0,1410.8 397.5,1411.8 400.0,1412.5C407.5,1414.6 415.1,1415.2 422.6,1417.4C429.1,1419.3 435.5,1423.7 442.0,1425.4C449.5,1427.3 457.1,1428.9 464.6,1429.6C477.5,1430.8 490.5,1431.9 503.4,1431.9C509.9,1431.9 516.3,1430.9 522.8,1430.9C529.3,1430.9 535.7,1435.3 542.2,1436.7C551.9,1438.8 561.6,1441.6 571.3,1441.6C575.6,1441.6 579.9,1438.4 584.2,1438.4C589.6,1438.4 595.0,1440.0 600.4,1441.6C604.2,1442.7 607.9,1448.1 611.7,1448.1C616.5,1448.1 621.4,1445.9 626.2,1444.8C630.5,1443.8 634.9,1442.1 639.2,1441.6C653.7,1439.8 668.3,1440.7 682.8,1438.4C685.2,1438.0 687.6,1436.5 690.0,1434.0C692.1,1431.8 694.1,1412.8 696.2,1412.8C697.5,1412.8 698.7,1417.2 700.0,1418.4C701.6,1419.8 703.1,1421.5 704.7,1421.5C706.5,1421.5 708.2,1416.6 710.0,1412.2C712.5,1406.0 714.9,1385.1 717.4,1377.2C719.1,1371.9 720.7,1367.4 722.4,1364.7C724.5,1361.3 726.6,1359.2 728.7,1357.3C731.0,1355.2 733.2,1352.3 735.5,1352.3C737.0,1352.3 738.4,1354.3 739.9,1356.0C742.4,1358.9 744.9,1368.1 747.4,1372.2C749.9,1376.3 752.4,1378.5 754.9,1382.2C757.0,1385.2 759.0,1389.0 761.1,1392.2C762.8,1394.8 764.4,1397.4 766.1,1399.7C767.8,1402.0 769.4,1405.9 771.1,1405.9C773.2,1405.9 775.2,1392.7 777.3,1389.7C779.8,1386.0 782.3,1384.7 784.8,1382.2C787.3,1379.7 789.8,1374.7 792.3,1374.7C795.6,1374.7 799.0,1378.6 802.3,1381.0C805.6,1383.4 809.0,1387.7 812.3,1389.1C815.2,1390.3 818.1,1390.5 821.0,1391.6C823.5,1392.6 826.0,1395.9 828.5,1395.9C833.3,1395.9 838.0,1393.4 842.8,1393.4C845.5,1393.4 848.2,1400.0 850.9,1402.2C853.4,1404.3 855.9,1407.2 858.4,1407.2C859.6,1407.2 860.8,1405.6 862.0,1404.0C863.6,1401.9 865.2,1393.8 866.8,1391.5C868.6,1388.9 870.4,1387.6 872.2,1386.1C874.0,1384.5 875.9,1384.6 877.7,1382.0C878.6,1380.7 879.5,1373.7 880.4,1369.7C881.5,1364.6 882.7,1355.0 883.8,1354.7C885.4,1354.3 887.0,1354.5 888.6,1354.1C890.0,1353.8 891.3,1344.1 892.7,1342.5C895.4,1339.4 898.1,1337.1 900.8,1337.1C903.1,1337.1 905.3,1339.1 907.6,1341.1C909.4,1342.7 911.3,1345.9 913.1,1350.7C914.5,1354.2 915.8,1364.1 917.2,1369.7C919.5,1379.0 921.7,1389.9 924.0,1394.2C925.4,1396.8 926.7,1397.5 928.1,1399.7C929.9,1402.6 931.7,1411.2 933.5,1411.2C935.3,1411.2 937.1,1410.6 938.9,1410.6C941.0,1410.6 943.0,1411.8 945.1,1412.6C948.7,1414.0 952.4,1418.0 956.0,1418.0C958.7,1418.0 961.4,1414.0 964.1,1414.0C968.0,1414.0 971.8,1414.0 975.7,1414.0C978.9,1414.0 982.0,1411.2 985.2,1409.9C989.3,1408.2 993.4,1406.7 997.5,1405.1C1002.7,1403.1 1007.9,1400.5 1013.1,1399.0C1016.1,1398.1 1019.0,1396.9 1022.0,1396.9C1025.2,1396.9 1028.3,1398.0 1031.5,1399.0C1035.1,1400.1 1038.8,1401.4 1042.4,1405.1C1044.1,1406.9 1045.9,1414.2 1047.6,1420.8" fill="none" stroke="#45f545" stroke-width="3.3" stroke-linejoin="round" stroke-linecap="round"/>
<path d="M116.3,1368.6C120.5,1368.6 124.8,1367.1 129.0,1365.4C133.2,1363.7 137.5,1357.2 141.7,1352.7C145.9,1348.2 150.2,1344.4 154.4,1338.4C158.6,1332.4 162.9,1322.6 167.1,1314.6C171.9,1305.6 176.6,1296.0 181.4,1287.6C186.2,1279.2 190.9,1269.8 195.7,1263.8C201.0,1257.1 206.3,1250.6 211.6,1247.9C216.9,1245.2 222.2,1242.4 227.5,1242.4C231.2,1242.4 234.9,1243.1 238.6,1244.0C243.4,1245.2 248.1,1253.7 252.9,1258.3C256.6,1261.9 260.3,1265.0 264.0,1268.6C272.5,1276.9 280.9,1288.7 289.4,1295.6C293.6,1299.0 297.9,1301.3 302.1,1304.3C306.8,1307.6 311.6,1313.8 316.3,1314.6C318.7,1315.0 321.1,1315.4 323.5,1315.4C325.3,1315.4 327.2,1309.7 329.0,1305.1C330.6,1301.1 332.2,1291.7 333.8,1287.6C335.4,1283.5 337.0,1283.3 338.6,1278.1C340.2,1273.0 341.7,1245.7 343.3,1235.2C344.5,1227.4 345.6,1216.2 346.8,1216.2C348.0,1216.2 349.3,1240.9 350.5,1251.1C351.8,1261.8 353.1,1274.8 354.4,1279.7C356.3,1286.7 358.1,1293.2 360.0,1293.2C361.6,1293.2 363.2,1291.5 364.8,1287.6C365.5,1286.0 366.1,1258.3 366.8,1258.3C368.0,1258.3 369.1,1301.0 370.3,1306.7C372.4,1317.1 374.6,1321.8 376.7,1324.1C382.0,1329.8 387.2,1332.5 392.5,1333.7C395.0,1334.3 397.5,1334.4 400.0,1334.9C407.5,1336.4 415.1,1338.7 422.6,1341.4C429.1,1343.7 435.5,1348.1 442.0,1350.1C449.5,1352.4 457.1,1354.2 464.6,1355.3C477.5,1357.2 490.5,1359.2 503.4,1359.2C509.9,1359.2 516.3,1358.5 522.8,1358.5C529.3,1358.5 535.7,1362.5 542.2,1364.0C551.9,1366.2 561.6,1369.5 571.3,1369.5C575.6,1369.5 579.9,1366.3 584.2,1366.3C589.6,1366.3 595.0,1367.4 600.4,1368.9C604.2,1369.9 607.9,1377.0 611.7,1377.0C616.5,1377.0 621.4,1375.9 626.2,1374.7C630.5,1373.6 634.9,1368.7 639.2,1368.2C653.7,1366.4 668.3,1367.6 682.8,1365.6C685.2,1365.3 687.6,1363.1 690.0,1359.8C691.2,1358.1 692.5,1353.7 693.7,1348.5C694.5,1345.0 695.4,1332.3 696.2,1332.3C697.5,1332.3 698.7,1337.0 700.0,1338.6C701.4,1340.4 702.9,1342.9 704.3,1342.9C705.8,1342.9 707.2,1341.0 708.7,1338.6C710.0,1336.5 711.2,1327.6 712.5,1321.1C714.1,1312.7 715.8,1300.1 717.4,1292.4C718.9,1285.5 720.3,1278.1 721.8,1274.9C724.1,1269.9 726.4,1267.0 728.7,1265.0C731.0,1263.0 733.2,1260.6 735.5,1260.6C737.0,1260.6 738.4,1262.9 739.9,1265.0C741.6,1267.4 743.2,1274.8 744.9,1278.7C747.4,1284.5 749.9,1287.8 752.4,1293.6C754.1,1297.5 755.7,1303.9 757.4,1307.4C758.8,1310.4 760.3,1312.2 761.7,1314.9C763.2,1317.6 764.6,1321.9 766.1,1323.6C767.6,1325.3 769.0,1327.3 770.5,1327.3C771.7,1327.3 773.0,1324.3 774.2,1321.1C775.2,1318.4 776.3,1306.5 777.3,1303.6C779.8,1296.6 782.3,1294.2 784.8,1291.1C787.3,1288.0 789.8,1283.7 792.3,1283.7C794.4,1283.7 796.4,1288.0 798.5,1289.3C800.2,1290.4 801.8,1290.7 803.5,1291.8C806.4,1293.8 809.4,1300.7 812.3,1302.4C815.0,1304.0 817.7,1304.0 820.4,1305.5C823.1,1307.0 825.8,1313.0 828.5,1313.0C831.0,1313.0 833.5,1311.8 836.0,1311.1C838.3,1310.5 840.5,1309.2 842.8,1309.2C845.5,1309.2 848.2,1317.2 850.9,1319.8C853.4,1322.2 855.9,1325.5 858.4,1325.5C859.7,1325.5 860.9,1322.4 862.2,1319.8C863.7,1316.7 865.3,1308.0 866.8,1304.4C868.6,1300.2 870.4,1297.2 872.2,1294.9C874.0,1292.6 875.9,1292.6 877.7,1289.4C878.6,1287.9 879.5,1283.1 880.4,1278.5C881.5,1272.7 882.7,1255.2 883.8,1254.0C885.4,1252.2 887.0,1252.9 888.6,1251.3C890.0,1250.0 891.3,1239.8 892.7,1237.7C894.0,1235.6 895.4,1235.2 896.7,1233.6C897.9,1232.2 899.0,1228.8 900.2,1228.8C901.8,1228.8 903.3,1231.4 904.9,1233.6C907.2,1236.8 909.4,1242.6 911.7,1251.3C913.1,1256.5 914.4,1269.8 915.8,1277.2C918.1,1289.4 920.3,1302.3 922.6,1308.5C924.4,1313.5 926.3,1315.4 928.1,1319.4C929.9,1323.3 931.7,1332.3 933.5,1332.3C935.3,1332.3 937.1,1331.6 938.9,1331.6C941.0,1331.6 943.0,1332.7 945.1,1333.6C948.7,1335.1 952.4,1340.5 956.0,1340.5C958.7,1340.5 961.4,1334.9 964.1,1334.3C968.0,1333.5 971.8,1333.7 975.7,1333.0C978.9,1332.4 982.0,1329.9 985.2,1328.2C989.3,1325.9 993.4,1322.3 997.5,1320.7C1000.7,1319.5 1003.8,1319.2 1007.0,1318.0C1009.0,1317.2 1011.1,1315.1 1013.1,1314.6C1016.1,1313.8 1019.0,1313.2 1022.0,1313.2C1025.2,1313.2 1028.3,1315.0 1031.5,1316.6C1034.7,1318.2 1037.8,1320.8 1041.0,1324.8C1042.4,1326.5 1043.7,1328.5 1045.1,1333.0C1045.9,1335.7 1046.8,1343.2 1047.6,1350.7" fill="none" stroke="#bb4dff" stroke-width="3.3" stroke-linejoin="round" stroke-linecap="round"/>
<path d="M116.3,1267.0C117.9,1267.8 119.5,1268.3 121.1,1268.3C125.3,1268.3 129.6,1263.9 133.8,1260.6C136.4,1258.6 139.1,1255.5 141.7,1252.7C145.9,1248.2 150.2,1244.7 154.4,1238.4C158.1,1232.9 161.9,1221.2 165.6,1214.6C169.8,1207.1 174.1,1202.4 178.3,1195.6C182.5,1188.8 186.8,1178.9 191.0,1173.3C195.7,1167.0 200.5,1161.2 205.2,1158.3C210.5,1155.0 215.8,1152.3 221.1,1151.4C223.4,1151.0 225.7,1150.6 228.0,1150.6C229.9,1150.6 231.9,1150.8 233.8,1151.1C236.4,1151.5 239.1,1152.8 241.7,1154.3C245.4,1156.4 249.2,1161.5 252.9,1165.4C256.1,1168.7 259.2,1172.3 262.4,1175.7C268.7,1182.5 275.1,1190.1 281.4,1195.6C287.8,1201.1 294.1,1205.2 300.5,1209.8C305.8,1213.6 311.0,1220.1 316.3,1221.0C318.4,1221.4 320.6,1221.7 322.7,1221.7C324.8,1221.7 326.9,1217.2 329.0,1213.0C330.6,1209.8 332.2,1200.6 333.8,1197.1C335.4,1193.6 337.0,1193.6 338.6,1189.2C339.9,1185.6 341.2,1169.2 342.5,1160.6C344.0,1150.9 345.4,1134.2 346.9,1134.2C347.8,1134.2 348.8,1155.5 349.7,1162.2C351.3,1173.5 352.8,1182.3 354.4,1187.6C356.3,1193.9 358.1,1201.1 360.0,1201.1C361.6,1201.1 363.2,1198.6 364.8,1194.0C365.5,1192.1 366.1,1172.5 366.8,1172.5C368.0,1172.5 369.1,1209.5 370.3,1214.6C372.4,1224.0 374.6,1228.2 376.7,1230.5C382.0,1236.1 387.2,1238.8 392.5,1240.0C395.0,1240.6 397.5,1240.8 400.0,1241.2C407.5,1242.6 415.1,1243.9 422.6,1246.1C429.1,1248.0 435.5,1252.2 442.0,1254.1C449.5,1256.3 457.1,1257.9 464.6,1259.0C477.5,1260.8 490.5,1262.9 503.4,1262.9C509.9,1262.9 516.3,1262.2 522.8,1262.2C529.3,1262.2 535.7,1265.6 542.2,1267.1C551.9,1269.4 561.6,1273.5 571.3,1273.5C575.6,1273.5 579.9,1269.3 584.2,1269.3C589.6,1269.3 595.0,1270.4 600.4,1271.9C604.2,1272.9 607.9,1280.0 611.7,1280.0C616.5,1280.0 621.4,1279.3 626.2,1278.4C630.5,1277.6 634.9,1272.5 639.2,1271.9C653.7,1269.8 668.3,1271.2 682.8,1268.7C687.1,1268.0 691.4,1236.4 695.7,1236.4C697.1,1236.4 698.6,1239.0 700.0,1240.5C701.8,1242.3 703.6,1246.5 705.4,1246.5C707.2,1246.5 709.1,1237.5 710.9,1230.9C713.2,1222.8 715.4,1205.4 717.7,1196.9C719.5,1190.2 721.3,1182.6 723.1,1180.5C724.9,1178.3 726.8,1177.7 728.6,1176.5C730.9,1175.0 733.1,1172.4 735.4,1172.4C737.2,1172.4 739.0,1176.1 740.8,1179.2C742.6,1182.3 744.5,1190.2 746.3,1194.1C749.0,1199.8 751.7,1202.1 754.4,1207.8C755.8,1210.7 757.1,1216.2 758.5,1218.6C760.3,1221.7 762.1,1222.9 763.9,1225.4C766.2,1228.5 768.4,1235.6 770.7,1235.6C772.8,1235.6 774.8,1217.5 776.9,1213.2C779.4,1207.9 781.9,1204.3 784.4,1202.3C786.9,1200.3 789.3,1198.2 791.8,1198.2C794.8,1198.2 797.7,1202.6 800.7,1205.0C803.4,1207.2 806.1,1210.1 808.8,1211.8C811.5,1213.5 814.3,1215.9 817.0,1215.9C818.8,1215.9 820.6,1215.9 822.4,1215.9C824.5,1215.9 826.5,1220.7 828.6,1220.7C833.4,1220.7 838.1,1217.3 842.9,1217.3C845.6,1217.3 848.3,1223.1 851.0,1225.4C853.5,1227.5 856.0,1230.9 858.5,1230.9C859.7,1230.9 860.8,1229.9 862.0,1228.5C863.3,1226.9 864.7,1213.1 866.0,1210.5C868.9,1204.8 871.8,1205.8 874.7,1200.5C876.2,1197.7 877.7,1190.2 879.2,1184.3C880.9,1177.6 882.6,1162.7 884.3,1162.1C885.5,1161.7 886.8,1161.8 888.0,1161.4C889.7,1160.8 891.5,1147.4 893.2,1144.5C895.4,1140.8 897.6,1137.1 899.8,1137.1C901.5,1137.1 903.3,1138.5 905.0,1140.0C907.2,1142.0 909.4,1149.1 911.6,1156.3C913.6,1162.7 915.5,1174.7 917.5,1184.3C919.5,1193.9 921.4,1207.0 923.4,1213.7C926.3,1223.7 929.3,1235.9 932.2,1235.9C934.7,1235.9 937.1,1235.9 939.6,1235.9C944.8,1235.9 949.9,1244.7 955.1,1244.7C958.3,1244.7 961.5,1240.1 964.7,1238.8C971.6,1236.0 978.4,1235.4 985.3,1232.9C990.2,1231.1 995.1,1227.6 1000.0,1225.5C1004.4,1223.6 1008.9,1221.4 1013.3,1220.4C1016.2,1219.7 1019.2,1218.9 1022.1,1218.9C1026.0,1218.9 1030.0,1219.8 1033.9,1221.1C1036.9,1222.1 1039.8,1226.6 1042.8,1232.9C1044.3,1236.0 1045.7,1243.4 1047.2,1250.6" fill="none" stroke="#ffeb00" stroke-width="3.3" stroke-linejoin="round" stroke-linecap="round"/>
<path d="M115.9,1184.6C117.6,1185.7 119.4,1186.1 121.1,1186.1C125.3,1186.1 129.5,1180.2 133.7,1175.7C136.2,1173.1 138.6,1169.2 141.1,1165.3C145.1,1159.0 149.0,1151.5 153.0,1143.1C157.4,1133.7 161.9,1120.9 166.3,1110.5C170.3,1101.2 174.2,1092.7 178.2,1083.8C182.2,1074.9 186.1,1065.2 190.1,1057.1C194.0,1049.1 198.0,1040.0 201.9,1034.9C205.9,1029.7 209.8,1025.9 213.8,1023.0C217.7,1020.2 221.7,1016.3 225.6,1016.3C229.1,1016.3 232.5,1016.3 236.0,1016.3C238.5,1016.3 240.9,1019.0 243.4,1021.5C246.9,1024.9 250.3,1035.9 253.8,1040.8C256.8,1045.0 259.7,1047.2 262.7,1051.2C266.2,1055.8 269.6,1062.4 273.1,1067.5C278.0,1074.8 283.0,1082.5 287.9,1088.2C292.4,1093.4 296.8,1097.0 301.3,1101.6C304.7,1105.2 308.2,1110.0 311.6,1112.7C315.6,1115.8 319.5,1120.1 323.5,1120.1C325.5,1120.1 327.4,1115.7 329.4,1111.9C331.4,1108.0 333.4,1097.6 335.4,1092.7C336.9,1089.1 338.3,1088.5 339.8,1083.8C341.0,1079.8 342.3,1065.8 343.5,1057.1C344.7,1048.8 345.8,1032.7 347.0,1032.7C348.1,1032.7 349.1,1043.8 350.2,1051.2C351.4,1059.8 352.7,1078.3 353.9,1083.8C356.1,1093.7 358.4,1102.3 360.6,1102.3C362.1,1102.3 363.5,1097.9 365.0,1092.7C365.7,1090.1 366.5,1077.1 367.2,1077.1C368.0,1077.1 368.7,1087.4 369.5,1095.6C370.0,1100.6 370.4,1113.9 370.9,1116.4C372.9,1127.1 374.9,1130.3 376.9,1132.7C381.8,1138.7 386.8,1140.2 391.7,1143.1C394.5,1144.8 397.2,1146.3 400.0,1147.5C407.5,1150.8 415.1,1152.5 422.6,1155.6C429.1,1158.3 435.5,1162.8 442.0,1165.2C449.5,1168.0 457.1,1170.1 464.6,1171.7C477.5,1174.5 490.5,1178.2 503.4,1178.2C509.9,1178.2 516.3,1176.6 522.8,1176.6C529.3,1176.6 535.7,1181.4 542.2,1183.0C550.8,1185.1 559.5,1185.0 568.1,1187.9C569.7,1188.4 571.3,1191.1 572.9,1191.1C576.7,1191.1 580.4,1185.3 584.2,1185.3C589.6,1185.3 595.0,1186.8 600.4,1188.5C604.7,1189.9 609.0,1197.6 613.3,1197.6C616.5,1197.6 619.8,1194.3 623.0,1194.3C624.1,1194.3 625.1,1197.6 626.2,1197.6C629.4,1197.6 632.7,1190.4 635.9,1189.5C643.5,1187.5 651.0,1187.3 658.6,1186.3C666.7,1185.2 674.7,1185.4 682.8,1183.0C685.5,1182.2 688.2,1173.3 690.9,1165.2C692.5,1160.4 694.1,1144.2 695.7,1144.2C697.1,1144.2 698.6,1147.2 700.0,1148.5C701.6,1150.0 703.2,1152.7 704.8,1152.7C706.4,1152.7 707.9,1147.3 709.5,1142.4C711.3,1136.7 713.2,1124.9 715.0,1112.0C716.3,1102.6 717.7,1082.8 719.0,1074.4C720.1,1067.3 721.3,1060.7 722.4,1058.1C723.8,1054.9 725.1,1052.0 726.5,1052.0C728.3,1052.0 730.2,1052.7 732.0,1052.7C733.4,1052.7 734.7,1049.3 736.1,1049.3C737.7,1049.3 739.2,1053.1 740.8,1056.7C742.6,1060.9 744.5,1074.7 746.3,1081.2C747.2,1084.4 748.1,1087.8 749.0,1089.4C750.6,1092.1 752.1,1092.0 753.7,1094.8C755.1,1097.3 756.4,1108.3 757.8,1111.2C759.4,1114.6 761.0,1115.0 762.6,1118.0C764.0,1120.5 765.3,1126.0 766.7,1128.8C768.0,1131.6 769.4,1135.6 770.7,1135.6C771.8,1135.6 773.0,1132.1 774.1,1128.8C775.3,1125.4 776.4,1112.6 777.6,1109.8C779.9,1104.4 782.1,1103.6 784.4,1100.3C787.1,1096.4 789.8,1088.0 792.5,1088.0C794.3,1088.0 796.2,1090.0 798.0,1091.4C800.3,1093.2 802.5,1096.1 804.8,1098.9C807.1,1101.7 809.3,1106.7 811.6,1108.4C813.9,1110.1 816.1,1111.8 818.4,1111.8C819.7,1111.8 821.1,1111.8 822.4,1111.8C824.5,1111.8 826.5,1119.3 828.6,1119.3C831.1,1119.3 833.6,1116.9 836.1,1115.9C838.6,1114.9 841.0,1113.2 843.5,1113.2C846.0,1113.2 848.5,1123.8 851.0,1127.5C853.3,1130.8 855.5,1135.6 857.8,1135.6C858.7,1135.6 859.6,1133.7 860.5,1132.0C862.3,1128.5 864.1,1114.0 865.9,1109.1C867.4,1105.1 868.8,1102.2 870.3,1100.2C872.3,1097.5 874.2,1097.7 876.2,1094.3C877.2,1092.6 878.2,1086.7 879.2,1081.1C880.2,1075.7 881.1,1065.5 882.1,1059.0C882.8,1054.1 883.6,1045.7 884.3,1045.7C885.3,1045.7 886.3,1050.1 887.3,1050.1C888.5,1050.1 889.8,1041.9 891.0,1038.3C892.5,1034.0 893.9,1028.6 895.4,1026.5C896.6,1024.7 897.9,1022.8 899.1,1022.8C901.3,1022.8 903.5,1027.1 905.7,1031.0C907.7,1034.5 909.6,1040.5 911.6,1048.6C913.1,1054.7 914.5,1066.9 916.0,1076.7C918.0,1089.8 919.9,1110.6 921.9,1117.9C923.9,1125.2 925.8,1127.7 927.8,1132.7C929.5,1137.1 931.3,1145.9 933.0,1145.9C935.2,1145.9 937.4,1142.7 939.6,1142.7C941.6,1142.7 943.5,1145.9 945.5,1147.4C948.7,1149.8 951.9,1154.0 955.1,1154.0C958.3,1154.0 961.5,1146.3 964.7,1145.2C968.1,1144.0 971.6,1144.1 975.0,1143.0C978.4,1141.9 981.9,1138.3 985.3,1136.4C988.7,1134.5 992.2,1133.3 995.6,1131.2C998.1,1129.7 1000.5,1126.8 1003.0,1125.3C1006.4,1123.2 1009.9,1120.1 1013.3,1120.1C1014.5,1120.1 1015.8,1122.3 1017.0,1122.3C1018.7,1122.3 1020.4,1120.1 1022.1,1120.1C1025.1,1120.1 1028.0,1122.0 1031.0,1123.8C1033.9,1125.6 1036.9,1129.4 1039.8,1134.1C1042.0,1137.7 1044.3,1138.0 1046.5,1150.4C1046.8,1152.2 1047.2,1165.7 1047.5,1174.7" fill="none" stroke="#732605" stroke-width="3.3" stroke-linejoin="round" stroke-linecap="round"/>
<path d="M115.9,1002.4 L115.9,1689.4 L1047.8,1689.4" fill="none" stroke="#000" stroke-width="3"/>
<line x1="102.9" y1="1689.4" x2="115.9" y2="1689.4" stroke="#000" stroke-width="2.6"/>
<text x="92.9" y="1698.0" font-size="26.0" text-anchor="end" font-weight="bold" font-family="'Liberation Serif','Times New Roman',serif">0.0</text>
<line x1="109.4" y1="1632.2" x2="115.9" y2="1632.2" stroke="#000" stroke-width="2.6"/>
<line x1="102.9" y1="1574.9" x2="115.9" y2="1574.9" stroke="#000" stroke-width="2.6"/>
<text x="92.9" y="1583.5" font-size="26.0" text-anchor="end" font-weight="bold" font-family="'Liberation Serif','Times New Roman',serif">0.1</text>
<line x1="109.4" y1="1517.7" x2="115.9" y2="1517.7" stroke="#000" stroke-width="2.6"/>
<line x1="102.9" y1="1460.4" x2="115.9" y2="1460.4" stroke="#000" stroke-width="2.6"/>
<text x="92.9" y="1469.0" font-size="26.0" text-anchor="end" font-weight="bold" font-family="'Liberation Serif','Times New Roman',serif">0.2</text>
<line x1="109.4" y1="1403.2" x2="115.9" y2="1403.2" stroke="#000" stroke-width="2.6"/>
<line x1="102.9" y1="1345.9" x2="115.9" y2="1345.9" stroke="#000" stroke-width="2.6"/>
<text x="92.9" y="1354.5" font-size="26.0" text-anchor="end" font-weight="bold" font-family="'Liberation Serif','Times New Roman',serif">0.3</text>
<line x1="109.4" y1="1288.7" x2="115.9" y2="1288.7" stroke="#000" stroke-width="2.6"/>
<line x1="102.9" y1="1231.4" x2="115.9" y2="1231.4" stroke="#000" stroke-width="2.6"/>
<text x="92.9" y="1240.0" font-size="26.0" text-anchor="end" font-weight="bold" font-family="'Liberation Serif','Times New Roman',serif">0.4</text>
<line x1="109.4" y1="1174.2" x2="115.9" y2="1174.2" stroke="#000" stroke-width="2.6"/>
<line x1="102.9" y1="1116.9" x2="115.9" y2="1116.9" stroke="#000" stroke-width="2.6"/>
<text x="92.9" y="1125.5" font-size="26.0" text-anchor="end" font-weight="bold" font-family="'Liberation Serif','Times New Roman',serif">0.5</text>
<line x1="109.4" y1="1059.7" x2="115.9" y2="1059.7" stroke="#000" stroke-width="2.6"/>
<line x1="102.9" y1="1002.4" x2="115.9" y2="1002.4" stroke="#000" stroke-width="2.6"/>
<text x="92.9" y="1011.0" font-size="26.0" text-anchor="end" font-weight="bold" font-family="'Liberation Serif','Times New Roman',serif">0.6</text>
<line x1="175.1" y1="1689.4" x2="175.1" y2="1702.4" stroke="#000" stroke-width="2.6"/>
<text x="175.1" y="1732.3" font-size="26.0" text-anchor="middle" font-weight="bold" font-family="'Liberation Serif','Times New Roman',serif">3500</text>
<line x1="249.0" y1="1689.4" x2="249.0" y2="1695.9" stroke="#000" stroke-width="2.6"/>
<line x1="323.0" y1="1689.4" x2="323.0" y2="1702.4" stroke="#000" stroke-width="2.6"/>
<text x="323.0" y="1732.3" font-size="26.0" text-anchor="middle" font-weight="bold" font-family="'Liberation Serif','Times New Roman',serif">3000</text>
<line x1="397.0" y1="1689.4" x2="397.0" y2="1695.9" stroke="#000" stroke-width="2.6"/>
<line x1="470.9" y1="1689.4" x2="470.9" y2="1702.4" stroke="#000" stroke-width="2.6"/>
<text x="470.9" y="1732.3" font-size="26.0" text-anchor="middle" font-weight="bold" font-family="'Liberation Serif','Times New Roman',serif">2500</text>
<line x1="544.9" y1="1689.4" x2="544.9" y2="1695.9" stroke="#000" stroke-width="2.6"/>
<line x1="618.8" y1="1689.4" x2="618.8" y2="1702.4" stroke="#000" stroke-width="2.6"/>
<text x="618.8" y="1732.3" font-size="26.0" text-anchor="middle" font-weight="bold" font-family="'Liberation Serif','Times New Roman',serif">2000</text>
<line x1="692.8" y1="1689.4" x2="692.8" y2="1695.9" stroke="#000" stroke-width="2.6"/>
<line x1="766.7" y1="1689.4" x2="766.7" y2="1702.4" stroke="#000" stroke-width="2.6"/>
<text x="766.7" y="1732.3" font-size="26.0" text-anchor="middle" font-weight="bold" font-family="'Liberation Serif','Times New Roman',serif">1500</text>
<line x1="840.6" y1="1689.4" x2="840.6" y2="1695.9" stroke="#000" stroke-width="2.6"/>
<line x1="914.6" y1="1689.4" x2="914.6" y2="1702.4" stroke="#000" stroke-width="2.6"/>
<text x="914.6" y="1732.3" font-size="26.0" text-anchor="middle" font-weight="bold" font-family="'Liberation Serif','Times New Roman',serif">1000</text>
<line x1="988.6" y1="1689.4" x2="988.6" y2="1695.9" stroke="#000" stroke-width="2.6"/>
<text x="29.9" y="1352.6" font-size="29.5" text-anchor="middle" font-weight="bold" font-family="'Liberation Serif','Times New Roman',serif" transform="rotate(-90 29.9 1352.6)">Absorbance</text>
<text x="459.1" y="1776.9" font-size="29.2" font-weight="bold" font-family="'Liberation Serif','Times New Roman',serif">Wave number (cm<tspan dy="-14.5" font-size="27">-1</tspan><tspan dy="14.5">)</tspan></text>
<text x="19.0" y="1049.0" font-size="60.0" text-anchor="middle" font-weight="normal" font-family="'Liberation Serif','Times New Roman',serif">b</text>
<text x="226.0" y="961.6" font-size="26.0" text-anchor="middle" font-weight="bold" font-family="'Liberation Serif','Times New Roman',serif">3319</text>
<text x="346.8" y="976.2" font-size="26.0" text-anchor="middle" font-weight="bold" font-family="'Liberation Serif','Times New Roman',serif">2918</text>
<text x="378.8" y="1020.3" font-size="26.0" text-anchor="middle" font-weight="bold" font-family="'Liberation Serif','Times New Roman',serif">2850</text>
<text x="688.2" y="1082.3" font-size="26.0" text-anchor="middle" font-weight="bold" font-family="'Liberation Serif','Times New Roman',serif">1734</text>
<text x="735.8" y="971.8" font-size="26.0" text-anchor="middle" font-weight="bold" font-family="'Liberation Serif','Times New Roman',serif">1602</text>
<text x="790.4" y="1007.3" font-size="26.0" text-anchor="middle" font-weight="bold" font-family="'Liberation Serif','Times New Roman',serif">1413</text>
<text x="824.2" y="1036.4" font-size="26.0" text-anchor="middle" font-weight="bold" font-family="'Liberation Serif','Times New Roman',serif">1316</text>
<text x="847.8" y="1074.7" font-size="26.0" text-anchor="middle" font-weight="bold" font-family="'Liberation Serif','Times New Roman',serif">1243</text>
<text x="884.0" y="987.8" font-size="26.0" text-anchor="middle" font-weight="bold" font-family="'Liberation Serif','Times New Roman',serif">1103</text>
<text x="990.9" y="1026.5" font-size="26.0" text-anchor="middle" font-weight="bold" font-family="'Liberation Serif','Times New Roman',serif">1053</text>
<text x="939.4" y="1052.0" font-size="26.0" text-anchor="middle" font-weight="bold" font-family="'Liberation Serif','Times New Roman',serif">915</text>
<text x="965.2" y="1092.9" font-size="26.0" text-anchor="middle" font-weight="bold" font-family="'Liberation Serif','Times New Roman',serif">832</text>
<text x="1020.5" y="1066.0" font-size="26.0" text-anchor="middle" font-weight="bold" font-family="'Liberation Serif','Times New Roman',serif">640</text>
<line x1="226.4" y1="971.0" x2="226.4" y2="998.5" stroke="#000" stroke-width="1.5"/><polygon points="226.4,1014.0 221.8,996.5 231.0,996.5" fill="#000"/>
<line x1="346.6" y1="983.5" x2="346.6" y2="1014.2" stroke="#000" stroke-width="1.5"/><polygon points="346.6,1029.7 342.0,1012.2 351.2,1012.2" fill="#000"/>
<line x1="367.5" y1="1028.7" x2="367.4" y2="1059.0" stroke="#000" stroke-width="1.5"/><polygon points="367.3,1074.5 362.8,1057.0 372.0,1057.0" fill="#000"/>
<line x1="696.3" y1="1094.6" x2="696.0" y2="1124.0" stroke="#000" stroke-width="1.5"/><polygon points="695.9,1139.5 691.5,1122.0 700.7,1122.0" fill="#000"/>
<line x1="735.2" y1="980.6" x2="735.2" y2="1027.0" stroke="#000" stroke-width="1.5"/><polygon points="735.2,1042.5 730.6,1025.0 739.8,1025.0" fill="#000"/>
<line x1="792.3" y1="1012.7" x2="792.3" y2="1064.5" stroke="#000" stroke-width="1.5"/><polygon points="792.3,1080.0 787.7,1062.5 796.9,1062.5" fill="#000"/>
<line x1="821.1" y1="1043.3" x2="821.1" y2="1092.1" stroke="#000" stroke-width="1.5"/><polygon points="821.1,1107.6 816.5,1090.1 825.7,1090.1" fill="#000"/>
<line x1="844.3" y1="1083.1" x2="844.3" y2="1097.4" stroke="#000" stroke-width="1.5"/><polygon points="844.3,1112.9 839.7,1095.4 848.9,1095.4" fill="#000"/>
<line x1="883.6" y1="993.6" x2="883.6" y2="1025.5" stroke="#000" stroke-width="1.5"/><polygon points="883.6,1041.0 879.0,1023.5 888.2,1023.5" fill="#000"/>
<line x1="961.7" y1="1021.8" x2="920.5" y2="1021.8" stroke="#000" stroke-width="1.5"/><polygon points="905.0,1021.8 922.5,1017.2 922.5,1026.4" fill="#000"/>
<line x1="939.6" y1="1058.2" x2="939.6" y2="1126.0" stroke="#000" stroke-width="1.5"/><polygon points="939.6,1141.5 935.0,1124.0 944.2,1124.0" fill="#000"/>
<line x1="964.7" y1="1095.5" x2="964.7" y2="1127.2" stroke="#000" stroke-width="1.5"/><polygon points="964.7,1142.7 960.1,1125.2 969.3,1125.2" fill="#000"/>
<line x1="1021.1" y1="1073.0" x2="1021.1" y2="1104.6" stroke="#000" stroke-width="1.5"/><polygon points="1021.1,1120.1 1016.5,1102.6 1025.7,1102.6" fill="#000"/>
<path d="M1175.0,1626.3C1176.7,1625.3 1178.3,1624.3 1180.0,1624.3C1182.0,1624.2 1184.0,1624.2 1186.0,1624.2C1188.0,1624.2 1190.0,1624.3 1192.0,1624.3C1194.0,1624.4 1196.0,1624.6 1198.0,1624.7C1200.0,1624.8 1202.0,1625.0 1204.0,1625.0C1206.0,1625.0 1208.0,1624.4 1210.0,1624.4C1212.0,1624.3 1214.0,1624.3 1216.0,1624.3C1218.0,1624.3 1220.0,1624.4 1222.0,1624.5C1224.0,1624.6 1226.0,1625.1 1228.0,1625.1C1230.0,1625.1 1232.0,1624.4 1234.0,1624.4C1236.0,1624.4 1238.0,1625.1 1240.0,1625.1C1242.0,1625.1 1244.0,1625.0 1246.0,1625.0C1248.0,1624.9 1250.0,1624.4 1252.0,1624.4C1254.0,1624.4 1256.0,1624.8 1258.0,1624.8C1260.0,1624.8 1262.0,1624.8 1264.0,1624.7C1266.0,1624.7 1268.0,1624.7 1270.0,1624.7C1272.0,1624.7 1274.0,1625.4 1276.0,1625.4C1278.0,1625.4 1280.0,1624.4 1282.0,1624.3C1284.0,1624.3 1286.0,1624.2 1288.0,1624.2C1290.0,1624.2 1292.0,1625.3 1294.0,1625.3C1296.0,1625.3 1298.0,1624.8 1300.0,1624.7C1302.0,1624.6 1304.0,1624.4 1306.0,1624.4C1308.0,1624.4 1310.0,1624.6 1312.0,1624.6C1314.0,1624.6 1316.0,1624.6 1318.0,1624.6C1320.0,1624.7 1322.0,1625.3 1324.0,1625.3C1326.0,1625.3 1328.0,1624.5 1330.0,1624.5C1332.0,1624.5 1334.0,1624.5 1336.0,1624.5C1338.0,1624.5 1340.0,1624.9 1342.0,1624.9C1344.0,1624.9 1346.0,1624.9 1348.0,1624.9C1350.0,1624.9 1352.0,1625.3 1354.0,1625.3C1356.0,1625.3 1358.0,1625.3 1360.0,1625.2C1362.0,1625.1 1364.0,1624.7 1366.0,1624.6C1368.0,1624.5 1370.0,1624.4 1372.0,1624.4C1373.3,1624.4 1374.7,1624.5 1376.0,1624.8C1376.6,1624.9 1377.1,1627.0 1377.7,1627.0C1379.7,1627.0 1381.6,1620.3 1383.6,1620.3C1385.1,1620.3 1386.5,1621.1 1388.0,1622.0C1389.7,1623.0 1391.5,1629.3 1393.2,1629.3C1394.7,1629.3 1396.1,1613.6 1397.6,1613.6C1399.1,1613.6 1400.5,1616.1 1402.0,1620.9C1403.0,1624.1 1404.0,1680.8 1405.0,1680.8C1406.5,1680.8 1407.9,1596.8 1409.4,1596.8C1410.4,1596.8 1411.4,1620.3 1412.4,1620.3C1414.1,1620.3 1415.8,1619.9 1417.5,1619.2C1419.0,1618.6 1420.4,1606.3 1421.9,1606.3C1423.0,1606.3 1424.2,1678.0 1425.3,1678.0C1426.6,1678.0 1428.0,1595.7 1429.3,1595.7C1430.5,1595.7 1431.8,1619.9 1433.0,1621.4C1434.7,1623.6 1436.5,1624.8 1438.2,1624.8C1440.1,1624.8 1442.1,1624.8 1444.0,1624.8C1446.0,1624.8 1448.0,1625.1 1450.0,1625.2C1452.0,1625.3 1454.0,1625.4 1456.0,1625.4C1458.0,1625.4 1460.0,1624.2 1462.0,1624.2C1464.0,1624.2 1466.0,1625.0 1468.0,1625.1C1470.0,1625.2 1472.0,1625.2 1474.0,1625.2C1476.0,1625.2 1478.0,1625.1 1480.0,1625.0C1482.0,1624.9 1484.0,1624.5 1486.0,1624.5C1488.0,1624.5 1490.0,1625.2 1492.0,1625.2C1494.0,1625.2 1496.0,1625.1 1498.0,1625.1C1500.0,1625.0 1502.0,1624.4 1504.0,1624.4C1506.0,1624.4 1508.0,1625.0 1510.0,1625.0C1512.0,1625.0 1514.0,1624.6 1516.0,1624.5C1518.0,1624.4 1520.0,1624.2 1522.0,1624.2C1524.0,1624.2 1526.0,1624.6 1528.0,1624.6C1530.0,1624.6 1532.0,1624.6 1534.0,1624.6C1536.0,1624.6 1538.0,1624.6 1540.0,1624.7C1542.0,1624.7 1544.0,1624.9 1546.0,1625.0C1548.0,1625.1 1550.0,1625.1 1552.0,1625.2C1554.0,1625.3 1556.0,1625.4 1558.0,1625.4C1558.7,1625.4 1559.3,1624.8 1560.0,1624.8C1561.7,1624.8 1563.3,1625.8 1565.0,1625.8C1566.7,1625.8 1568.3,1623.8 1570.0,1623.8C1572.0,1623.8 1574.0,1626.4 1576.0,1626.4C1578.0,1626.4 1580.0,1623.8 1582.0,1623.8C1584.0,1623.8 1586.0,1625.8 1588.0,1625.8C1590.0,1625.8 1592.0,1625.1 1594.0,1624.8C1596.0,1624.5 1598.0,1623.8 1600.0,1623.8C1602.0,1623.8 1604.0,1625.8 1606.0,1625.8C1608.0,1625.8 1610.0,1625.1 1612.0,1624.8C1614.7,1624.4 1617.3,1623.8 1620.0,1623.8C1622.0,1623.8 1624.0,1625.1 1626.0,1625.8C1627.2,1626.3 1628.5,1627.3 1629.7,1627.3C1630.7,1627.3 1631.8,1621.6 1632.8,1621.6C1634.2,1621.6 1635.6,1625.8 1637.0,1625.8C1638.7,1625.8 1640.3,1623.8 1642.0,1623.8C1644.0,1623.8 1646.0,1626.4 1648.0,1626.4C1649.7,1626.4 1651.3,1623.8 1653.0,1623.8C1654.7,1623.8 1656.3,1625.8 1658.0,1625.8C1660.0,1625.8 1662.0,1623.2 1664.0,1623.2C1666.0,1623.2 1668.0,1625.8 1670.0,1625.8C1672.0,1625.8 1674.0,1623.2 1676.0,1623.2C1677.3,1623.2 1678.7,1623.7 1680.0,1624.3C1681.1,1624.8 1682.2,1629.5 1683.3,1629.5C1684.4,1629.5 1685.4,1619.9 1686.5,1619.9C1687.7,1619.9 1688.8,1626.4 1690.0,1626.4C1691.3,1626.4 1692.7,1624.8 1694.0,1624.8C1696.7,1624.8 1699.5,1625.4 1702.2,1625.4C1704.9,1625.4 1707.7,1625.4 1710.4,1625.4C1713.1,1625.4 1715.9,1625.3 1718.6,1625.1C1721.3,1625.0 1724.1,1624.6 1726.8,1624.6C1729.5,1624.6 1732.3,1624.8 1735.0,1624.8C1737.0,1624.8 1739.0,1623.4 1741.0,1622.7C1743.2,1622.0 1745.4,1620.6 1747.6,1620.6C1749.6,1620.6 1751.6,1621.7 1753.6,1623.5C1754.9,1624.7 1756.3,1636.9 1757.6,1636.9C1758.9,1636.9 1760.2,1622.5 1761.5,1621.2C1763.8,1619.0 1766.2,1617.7 1768.5,1617.7C1771.1,1617.7 1773.8,1620.4 1776.4,1623.3C1778.2,1625.3 1780.0,1634.4 1781.8,1634.4C1783.0,1634.4 1784.1,1627.4 1785.3,1626.5C1787.6,1624.6 1790.0,1623.3 1792.3,1623.3C1794.3,1623.3 1796.2,1630.6 1798.2,1630.6C1801.5,1630.6 1804.9,1621.9 1808.2,1621.9C1810.4,1621.9 1812.5,1628.9 1814.7,1628.9C1816.2,1628.9 1817.6,1621.2 1819.1,1621.2C1820.7,1621.2 1822.4,1628.5 1824.0,1628.5C1825.7,1628.5 1827.3,1623.8 1829.0,1621.2C1830.5,1619.0 1831.9,1613.9 1833.4,1613.9C1834.8,1613.9 1836.1,1632.3 1837.5,1632.3C1838.8,1632.3 1840.0,1624.8 1841.3,1624.8C1843.5,1624.8 1845.6,1625.1 1847.8,1625.4C1849.8,1625.8 1851.8,1628.9 1853.8,1628.9C1856.4,1628.9 1859.1,1624.0 1861.7,1624.0C1863.4,1624.0 1865.0,1627.4 1866.7,1627.4C1868.7,1627.4 1870.7,1623.3 1872.7,1623.3C1876.0,1623.3 1879.3,1627.4 1882.6,1627.4C1884.6,1627.4 1886.5,1622.3 1888.5,1622.3C1891.5,1622.3 1894.5,1623.6 1897.5,1624.5C1900.4,1625.3 1903.4,1627.4 1906.4,1627.4C1908.7,1627.4 1911.0,1622.5 1913.3,1621.2C1915.6,1620.0 1918.0,1618.5 1920.3,1618.5C1922.9,1618.5 1925.6,1628.9 1928.2,1628.9C1931.8,1628.9 1935.5,1616.0 1939.1,1616.0C1941.1,1616.0 1943.1,1640.0 1945.1,1640.0C1946.9,1640.0 1948.6,1613.9 1950.4,1613.9C1951.9,1613.9 1953.5,1630.2 1955.0,1630.2C1956.7,1630.2 1958.3,1625.4 1960.0,1625.4C1961.6,1625.4 1963.3,1629.5 1964.9,1629.5C1966.6,1629.5 1968.2,1624.4 1969.9,1624.4C1971.2,1624.4 1972.6,1630.6 1973.9,1630.6C1975.2,1630.6 1976.5,1623.6 1977.8,1622.3C1979.8,1620.3 1981.8,1618.5 1983.8,1618.5C1985.1,1618.5 1986.5,1624.4 1987.8,1624.4C1990.1,1624.4 1992.4,1620.2 1994.7,1620.2C1997.0,1620.2 1999.3,1627.4 2001.6,1627.4C2003.6,1627.4 2005.6,1624.9 2007.6,1624.4C2010.9,1623.5 2014.2,1622.7 2017.5,1622.7C2020.2,1622.7 2022.8,1627.4 2025.5,1627.4C2029.5,1627.4 2033.4,1624.4 2037.4,1624.4C2041.4,1624.4 2045.3,1625.4 2049.3,1625.4C2053.3,1625.4 2057.2,1624.0 2061.2,1624.0C2065.8,1624.0 2070.5,1626.5 2075.1,1626.5C2077.1,1626.5 2079.0,1623.3 2081.0,1623.3C2083.4,1623.3 2085.9,1623.9 2088.3,1624.2C2090.7,1624.4 2093.2,1624.6 2095.6,1624.8C2098.0,1625.0 2100.5,1624.9 2102.9,1625.4C2103.9,1625.6 2104.8,1632.0 2105.8,1636.9" fill="none" stroke="#ff4747" stroke-width="3.3" stroke-linejoin="round" stroke-linecap="round"/>
<path d="M1175.0,1554.1C1176.7,1553.1 1178.3,1552.1 1180.0,1552.1C1182.0,1552.1 1184.0,1552.1 1186.0,1552.1C1188.0,1552.1 1190.0,1552.2 1192.0,1552.3C1194.0,1552.3 1196.0,1552.3 1198.0,1552.4C1200.0,1552.4 1202.0,1553.1 1204.0,1553.1C1206.0,1553.1 1208.0,1552.6 1210.0,1552.6C1212.0,1552.6 1214.0,1552.9 1216.0,1552.9C1218.0,1552.9 1220.0,1552.1 1222.0,1552.1C1224.0,1552.1 1226.0,1552.5 1228.0,1552.6C1230.0,1552.8 1232.0,1553.0 1234.0,1553.0C1236.0,1553.0 1238.0,1552.6 1240.0,1552.6C1242.0,1552.6 1244.0,1553.1 1246.0,1553.1C1248.0,1553.1 1250.0,1553.1 1252.0,1553.1C1254.0,1553.0 1256.0,1552.6 1258.0,1552.4C1260.0,1552.3 1262.0,1552.0 1264.0,1552.0C1266.0,1552.0 1268.0,1552.9 1270.0,1552.9C1272.0,1552.9 1274.0,1552.2 1276.0,1552.2C1278.0,1552.1 1280.0,1552.0 1282.0,1552.0C1284.0,1552.0 1286.0,1552.8 1288.0,1552.9C1290.0,1553.0 1292.0,1553.0 1294.0,1553.0C1296.0,1553.0 1298.0,1553.0 1300.0,1553.0C1302.0,1553.0 1304.0,1553.1 1306.0,1553.1C1308.0,1553.1 1310.0,1552.3 1312.0,1552.2C1314.0,1552.2 1316.0,1552.1 1318.0,1552.1C1320.0,1552.1 1322.0,1552.1 1324.0,1552.1C1326.0,1552.2 1328.0,1553.2 1330.0,1553.2C1332.0,1553.2 1334.0,1552.1 1336.0,1552.1C1338.0,1552.1 1340.0,1552.2 1342.0,1552.2C1344.0,1552.2 1346.0,1552.0 1348.0,1552.0C1350.0,1552.0 1352.0,1552.1 1354.0,1552.1C1356.0,1552.1 1358.0,1552.0 1360.0,1552.0C1362.0,1552.0 1364.0,1552.4 1366.0,1552.4C1368.0,1552.4 1370.0,1552.2 1372.0,1552.2C1373.3,1552.2 1374.7,1552.3 1376.0,1552.6C1376.6,1552.7 1377.1,1553.8 1377.7,1553.8C1379.7,1553.8 1381.6,1550.2 1383.6,1550.2C1385.1,1550.2 1386.5,1550.6 1388.0,1551.1C1389.7,1551.6 1391.5,1555.0 1393.2,1555.0C1394.7,1555.0 1396.1,1546.5 1397.6,1546.5C1399.1,1546.5 1400.5,1547.9 1402.0,1550.5C1403.0,1552.2 1404.0,1583.1 1405.0,1583.1C1406.5,1583.1 1407.9,1537.3 1409.4,1537.3C1410.4,1537.3 1411.4,1550.2 1412.4,1550.2C1414.1,1550.2 1415.8,1549.9 1417.5,1549.5C1419.0,1549.2 1420.4,1542.5 1421.9,1542.5C1423.0,1542.5 1424.2,1581.6 1425.3,1581.6C1426.6,1581.6 1428.0,1536.7 1429.3,1536.7C1430.5,1536.7 1431.8,1549.9 1433.0,1550.8C1434.7,1551.9 1436.5,1552.6 1438.2,1552.6C1440.1,1552.6 1442.1,1552.6 1444.0,1552.6C1446.0,1552.6 1448.0,1552.4 1450.0,1552.4C1452.0,1552.4 1454.0,1553.1 1456.0,1553.1C1458.0,1553.1 1460.0,1552.2 1462.0,1552.2C1464.0,1552.2 1466.0,1553.0 1468.0,1553.0C1470.0,1553.0 1472.0,1552.9 1474.0,1552.9C1476.0,1552.8 1478.0,1552.7 1480.0,1552.7C1482.0,1552.7 1484.0,1552.7 1486.0,1552.7C1488.0,1552.7 1490.0,1552.9 1492.0,1552.9C1494.0,1552.9 1496.0,1552.8 1498.0,1552.7C1500.0,1552.6 1502.0,1552.3 1504.0,1552.3C1506.0,1552.3 1508.0,1552.4 1510.0,1552.4C1512.0,1552.4 1514.0,1552.3 1516.0,1552.3C1518.0,1552.3 1520.0,1552.4 1522.0,1552.5C1524.0,1552.6 1526.0,1553.2 1528.0,1553.2C1530.0,1553.2 1532.0,1552.7 1534.0,1552.5C1536.0,1552.3 1538.0,1552.1 1540.0,1552.1C1542.0,1552.1 1544.0,1552.4 1546.0,1552.6C1548.0,1552.7 1550.0,1553.0 1552.0,1553.0C1554.0,1553.0 1556.0,1552.5 1558.0,1552.5C1558.7,1552.5 1559.3,1552.6 1560.0,1552.6C1561.7,1552.7 1563.3,1553.6 1565.0,1553.6C1566.7,1553.6 1568.3,1551.6 1570.0,1551.6C1572.0,1551.6 1574.0,1554.1 1576.0,1554.1C1578.0,1554.1 1580.0,1551.6 1582.0,1551.6C1584.0,1551.6 1586.0,1553.6 1588.0,1553.6C1590.0,1553.6 1592.0,1552.9 1594.0,1552.6C1596.0,1552.3 1598.0,1551.6 1600.0,1551.6C1602.0,1551.6 1604.0,1553.6 1606.0,1553.6C1608.0,1553.6 1610.0,1552.9 1612.0,1552.6C1614.7,1552.2 1617.3,1551.6 1620.0,1551.6C1622.0,1551.6 1624.0,1552.9 1626.0,1553.6C1627.2,1554.0 1628.5,1555.0 1629.7,1555.0C1630.7,1555.0 1631.8,1549.6 1632.8,1549.6C1634.2,1549.6 1635.6,1553.6 1637.0,1553.6C1638.7,1553.6 1640.3,1551.6 1642.0,1551.6C1644.0,1551.6 1646.0,1554.1 1648.0,1554.1C1649.7,1554.1 1651.3,1551.6 1653.0,1551.6C1654.7,1551.6 1656.3,1553.6 1658.0,1553.6C1660.0,1553.6 1662.0,1551.1 1664.0,1551.1C1666.0,1551.1 1668.0,1553.6 1670.0,1553.6C1672.0,1553.6 1674.0,1551.1 1676.0,1551.1C1677.3,1551.1 1678.7,1551.5 1680.0,1552.1C1681.1,1552.6 1682.2,1557.1 1683.3,1557.1C1684.4,1557.1 1685.4,1547.9 1686.5,1547.9C1687.7,1547.9 1688.8,1554.1 1690.0,1554.1C1691.3,1554.1 1692.7,1552.6 1694.0,1552.6C1696.7,1552.6 1699.5,1552.8 1702.2,1552.8C1704.9,1552.8 1707.7,1552.1 1710.4,1552.1C1713.1,1552.1 1715.9,1552.1 1718.6,1552.1C1721.3,1552.1 1724.1,1552.8 1726.8,1552.8C1729.5,1552.8 1732.3,1552.7 1735.0,1552.6C1737.0,1552.5 1739.0,1551.2 1741.0,1550.6C1743.2,1549.9 1745.4,1548.6 1747.6,1548.6C1749.6,1548.6 1751.6,1549.7 1753.6,1551.4C1754.9,1552.5 1756.3,1564.1 1757.6,1564.1C1758.9,1564.1 1760.2,1550.4 1761.5,1549.2C1763.8,1547.0 1766.2,1545.8 1768.5,1545.8C1771.1,1545.8 1773.8,1548.5 1776.4,1551.2C1778.2,1553.1 1780.0,1561.7 1781.8,1561.7C1783.0,1561.7 1784.1,1555.1 1785.3,1554.2C1787.6,1552.4 1790.0,1551.2 1792.3,1551.2C1794.3,1551.2 1796.2,1558.1 1798.2,1558.1C1801.5,1558.1 1804.9,1549.8 1808.2,1549.8C1810.4,1549.8 1812.5,1556.5 1814.7,1556.5C1816.2,1556.5 1817.6,1549.2 1819.1,1549.2C1820.7,1549.2 1822.4,1556.1 1824.0,1556.1C1825.7,1556.1 1827.3,1551.7 1829.0,1549.2C1830.5,1547.0 1831.9,1542.2 1833.4,1542.2C1834.8,1542.2 1836.1,1559.7 1837.5,1559.7C1838.8,1559.7 1840.0,1552.6 1841.3,1552.6C1843.5,1552.6 1845.6,1552.9 1847.8,1553.2C1849.8,1553.5 1851.8,1556.5 1853.8,1556.5C1856.4,1556.5 1859.1,1551.8 1861.7,1551.8C1863.4,1551.8 1865.0,1555.1 1866.7,1555.1C1868.7,1555.1 1870.7,1551.2 1872.7,1551.2C1876.0,1551.2 1879.3,1555.1 1882.6,1555.1C1884.6,1555.1 1886.5,1550.2 1888.5,1550.2C1891.5,1550.2 1894.5,1551.3 1897.5,1552.1C1900.4,1552.9 1903.4,1555.1 1906.4,1555.1C1908.7,1555.1 1911.0,1550.4 1913.3,1549.2C1915.6,1548.0 1918.0,1546.6 1920.3,1546.6C1922.9,1546.6 1925.6,1556.5 1928.2,1556.5C1931.8,1556.5 1935.5,1544.2 1939.1,1544.2C1941.1,1544.2 1943.1,1567.1 1945.1,1567.1C1946.9,1567.1 1948.6,1542.2 1950.4,1542.2C1951.9,1542.2 1953.5,1557.7 1955.0,1557.7C1956.7,1557.7 1958.3,1553.2 1960.0,1553.2C1961.6,1553.2 1963.3,1557.1 1964.9,1557.1C1966.6,1557.1 1968.2,1552.2 1969.9,1552.2C1971.2,1552.2 1972.6,1558.1 1973.9,1558.1C1975.2,1558.1 1976.5,1551.5 1977.8,1550.2C1979.8,1548.3 1981.8,1546.6 1983.8,1546.6C1985.1,1546.6 1986.5,1552.2 1987.8,1552.2C1990.1,1552.2 1992.4,1548.2 1994.7,1548.2C1997.0,1548.2 1999.3,1555.1 2001.6,1555.1C2003.6,1555.1 2005.6,1552.7 2007.6,1552.2C2010.9,1551.4 2014.2,1550.6 2017.5,1550.6C2020.2,1550.6 2022.8,1555.1 2025.5,1555.1C2029.5,1555.1 2033.4,1552.2 2037.4,1552.2C2041.4,1552.2 2045.3,1553.2 2049.3,1553.2C2053.3,1553.2 2057.2,1551.8 2061.2,1551.8C2065.8,1551.8 2070.5,1554.2 2075.1,1554.2C2077.1,1554.2 2079.0,1551.2 2081.0,1551.2C2083.4,1551.2 2085.9,1551.4 2088.3,1551.6C2090.7,1551.8 2093.2,1552.1 2095.6,1552.4C2098.0,1552.7 2100.5,1552.6 2102.9,1553.2C2103.9,1553.4 2104.8,1559.5 2105.8,1564.1" fill="none" stroke="#45a5ff" stroke-width="3.3" stroke-linejoin="round" stroke-linecap="round"/>
<path d="M1175.0,1479.0C1176.7,1478.0 1178.3,1477.0 1180.0,1477.0C1182.0,1477.0 1184.0,1477.5 1186.0,1477.6C1188.0,1477.6 1190.0,1477.6 1192.0,1477.7C1194.0,1477.7 1196.0,1477.9 1198.0,1477.9C1200.0,1477.9 1202.0,1477.2 1204.0,1477.2C1206.0,1477.2 1208.0,1477.6 1210.0,1477.7C1212.0,1477.8 1214.0,1478.0 1216.0,1478.0C1218.0,1478.0 1220.0,1478.0 1222.0,1478.0C1224.0,1478.0 1226.0,1477.1 1228.0,1477.1C1230.0,1477.1 1232.0,1477.7 1234.0,1477.7C1236.0,1477.7 1238.0,1477.7 1240.0,1477.6C1242.0,1477.6 1244.0,1477.5 1246.0,1477.5C1248.0,1477.5 1250.0,1478.1 1252.0,1478.1C1254.0,1478.1 1256.0,1477.6 1258.0,1477.5C1260.0,1477.5 1262.0,1477.4 1264.0,1477.4C1266.0,1477.4 1268.0,1478.0 1270.0,1478.0C1272.0,1478.0 1274.0,1477.8 1276.0,1477.7C1278.0,1477.5 1280.0,1477.3 1282.0,1477.3C1284.0,1477.3 1286.0,1477.3 1288.0,1477.3C1290.0,1477.3 1292.0,1477.5 1294.0,1477.5C1296.0,1477.5 1298.0,1477.0 1300.0,1477.0C1302.0,1477.0 1304.0,1477.5 1306.0,1477.6C1308.0,1477.7 1310.0,1477.8 1312.0,1477.8C1314.0,1477.8 1316.0,1477.4 1318.0,1477.4C1320.0,1477.4 1322.0,1477.9 1324.0,1477.9C1326.0,1478.0 1328.0,1478.0 1330.0,1478.0C1332.0,1478.0 1334.0,1477.6 1336.0,1477.6C1338.0,1477.6 1340.0,1477.7 1342.0,1477.7C1344.0,1477.7 1346.0,1477.1 1348.0,1477.0C1350.0,1477.0 1352.0,1477.0 1354.0,1477.0C1356.0,1477.0 1358.0,1478.1 1360.0,1478.1C1362.0,1478.1 1364.0,1477.3 1366.0,1477.2C1368.0,1477.2 1370.0,1477.2 1372.0,1477.2C1373.3,1477.2 1374.7,1477.3 1376.0,1477.5C1376.6,1477.6 1377.1,1479.4 1377.7,1479.4C1379.7,1479.4 1381.6,1473.8 1383.6,1473.8C1385.1,1473.8 1386.5,1474.4 1388.0,1475.2C1389.7,1476.0 1391.5,1481.2 1393.2,1481.2C1394.7,1481.2 1396.1,1468.1 1397.6,1468.1C1399.1,1468.1 1400.5,1470.3 1402.0,1474.2C1403.0,1476.9 1404.0,1524.3 1405.0,1524.3C1406.5,1524.3 1407.9,1454.1 1409.4,1454.1C1410.4,1454.1 1411.4,1473.8 1412.4,1473.8C1414.1,1473.8 1415.8,1473.4 1417.5,1472.8C1419.0,1472.3 1420.4,1462.1 1421.9,1462.1C1423.0,1462.1 1424.2,1522.0 1425.3,1522.0C1426.6,1522.0 1428.0,1453.2 1429.3,1453.2C1430.5,1453.2 1431.8,1473.4 1433.0,1474.7C1434.7,1476.5 1436.5,1477.5 1438.2,1477.5C1440.1,1477.5 1442.1,1477.5 1444.0,1477.5C1446.0,1477.5 1448.0,1478.0 1450.0,1478.0C1452.0,1478.0 1454.0,1477.9 1456.0,1477.8C1458.0,1477.7 1460.0,1477.0 1462.0,1477.0C1464.0,1477.0 1466.0,1477.3 1468.0,1477.3C1470.0,1477.3 1472.0,1477.2 1474.0,1477.2C1476.0,1477.2 1478.0,1477.2 1480.0,1477.2C1482.0,1477.2 1484.0,1476.9 1486.0,1476.9C1488.0,1476.9 1490.0,1477.5 1492.0,1477.5C1494.0,1477.5 1496.0,1477.3 1498.0,1477.3C1500.0,1477.3 1502.0,1477.4 1504.0,1477.4C1506.0,1477.4 1508.0,1477.2 1510.0,1477.1C1512.0,1477.1 1514.0,1477.1 1516.0,1477.0C1518.0,1477.0 1520.0,1476.9 1522.0,1476.9C1524.0,1476.9 1526.0,1477.9 1528.0,1477.9C1530.0,1477.9 1532.0,1477.9 1534.0,1477.8C1536.0,1477.7 1538.0,1477.7 1540.0,1477.6C1542.0,1477.5 1544.0,1477.0 1546.0,1477.0C1548.0,1477.0 1550.0,1477.1 1552.0,1477.1C1554.0,1477.1 1556.0,1477.0 1558.0,1477.0C1558.7,1477.0 1559.3,1477.4 1560.0,1477.5C1561.7,1477.9 1563.3,1478.5 1565.0,1478.5C1566.7,1478.5 1568.3,1476.5 1570.0,1476.5C1572.0,1476.5 1574.0,1479.0 1576.0,1479.0C1578.0,1479.0 1580.0,1476.5 1582.0,1476.5C1584.0,1476.5 1586.0,1478.5 1588.0,1478.5C1590.0,1478.5 1592.0,1477.8 1594.0,1477.5C1596.0,1477.2 1598.0,1476.5 1600.0,1476.5C1602.0,1476.5 1604.0,1478.5 1606.0,1478.5C1608.0,1478.5 1610.0,1477.8 1612.0,1477.5C1614.7,1477.1 1617.3,1476.5 1620.0,1476.5C1622.0,1476.5 1624.0,1477.8 1626.0,1478.5C1627.2,1478.9 1628.5,1479.9 1629.7,1479.9C1630.7,1479.9 1631.8,1474.5 1632.8,1474.5C1634.2,1474.5 1635.6,1478.5 1637.0,1478.5C1638.7,1478.5 1640.3,1476.5 1642.0,1476.5C1644.0,1476.5 1646.0,1479.0 1648.0,1479.0C1649.7,1479.0 1651.3,1476.5 1653.0,1476.5C1654.7,1476.5 1656.3,1478.5 1658.0,1478.5C1660.0,1478.5 1662.0,1476.0 1664.0,1476.0C1666.0,1476.0 1668.0,1478.5 1670.0,1478.5C1672.0,1478.5 1674.0,1476.0 1676.0,1476.0C1677.3,1476.0 1678.7,1476.4 1680.0,1477.0C1681.1,1477.5 1682.2,1482.0 1683.3,1482.0C1684.4,1482.0 1685.4,1472.8 1686.5,1472.8C1687.7,1472.8 1688.8,1479.0 1690.0,1479.0C1691.3,1479.0 1692.7,1477.6 1694.0,1477.5C1696.7,1477.3 1699.5,1477.4 1702.2,1477.3C1704.9,1477.2 1707.7,1477.0 1710.4,1477.0C1713.1,1477.0 1715.9,1477.2 1718.6,1477.2C1721.3,1477.2 1724.1,1477.1 1726.8,1477.1C1729.5,1477.1 1732.3,1477.5 1735.0,1477.5C1737.0,1477.5 1739.0,1476.1 1741.0,1475.5C1743.2,1474.8 1745.4,1473.5 1747.6,1473.5C1749.6,1473.5 1751.6,1474.6 1753.6,1476.3C1754.9,1477.4 1756.3,1489.0 1757.6,1489.0C1758.9,1489.0 1760.2,1475.3 1761.5,1474.1C1763.8,1471.9 1766.2,1470.7 1768.5,1470.7C1771.1,1470.7 1773.8,1473.4 1776.4,1476.1C1778.2,1478.0 1780.0,1486.6 1781.8,1486.6C1783.0,1486.6 1784.1,1480.0 1785.3,1479.1C1787.6,1477.3 1790.0,1476.1 1792.3,1476.1C1794.3,1476.1 1796.2,1483.0 1798.2,1483.0C1801.5,1483.0 1804.9,1474.7 1808.2,1474.7C1810.4,1474.7 1812.5,1481.4 1814.7,1481.4C1816.2,1481.4 1817.6,1474.1 1819.1,1474.1C1820.7,1474.1 1822.4,1481.0 1824.0,1481.0C1825.7,1481.0 1827.3,1476.6 1829.0,1474.1C1830.5,1471.9 1831.9,1467.1 1833.4,1467.1C1834.8,1467.1 1836.1,1484.6 1837.5,1484.6C1838.8,1484.6 1840.0,1477.5 1841.3,1477.5C1843.5,1477.5 1845.6,1477.8 1847.8,1478.1C1849.8,1478.4 1851.8,1481.4 1853.8,1481.4C1856.4,1481.4 1859.1,1476.7 1861.7,1476.7C1863.4,1476.7 1865.0,1480.0 1866.7,1480.0C1868.7,1480.0 1870.7,1476.1 1872.7,1476.1C1876.0,1476.1 1879.3,1480.0 1882.6,1480.0C1884.6,1480.0 1886.5,1475.1 1888.5,1475.1C1891.5,1475.1 1894.5,1476.4 1897.5,1477.2C1900.4,1478.0 1903.4,1480.0 1906.4,1480.0C1908.7,1480.0 1911.0,1475.3 1913.3,1474.1C1915.6,1472.9 1918.0,1471.5 1920.3,1471.5C1922.9,1471.5 1925.6,1481.4 1928.2,1481.4C1931.8,1481.4 1935.5,1469.1 1939.1,1469.1C1941.1,1469.1 1943.1,1492.0 1945.1,1492.0C1946.9,1492.0 1948.6,1467.1 1950.4,1467.1C1951.9,1467.1 1953.5,1482.6 1955.0,1482.6C1956.7,1482.6 1958.3,1478.1 1960.0,1478.1C1961.6,1478.1 1963.3,1482.0 1964.9,1482.0C1966.6,1482.0 1968.2,1477.1 1969.9,1477.1C1971.2,1477.1 1972.6,1483.0 1973.9,1483.0C1975.2,1483.0 1976.5,1476.4 1977.8,1475.1C1979.8,1473.2 1981.8,1471.5 1983.8,1471.5C1985.1,1471.5 1986.5,1477.1 1987.8,1477.1C1990.1,1477.1 1992.4,1473.1 1994.7,1473.1C1997.0,1473.1 1999.3,1480.0 2001.6,1480.0C2003.6,1480.0 2005.6,1477.6 2007.6,1477.1C2010.9,1476.3 2014.2,1475.5 2017.5,1475.5C2020.2,1475.5 2022.8,1480.0 2025.5,1480.0C2029.5,1480.0 2033.4,1477.1 2037.4,1477.1C2041.4,1477.1 2045.3,1478.1 2049.3,1478.1C2053.3,1478.1 2057.2,1476.7 2061.2,1476.7C2065.8,1476.7 2070.5,1479.1 2075.1,1479.1C2077.1,1479.1 2079.0,1476.1 2081.0,1476.1C2083.4,1476.1 2085.9,1476.8 2088.3,1477.0C2090.7,1477.1 2093.2,1477.2 2095.6,1477.4C2098.0,1477.6 2100.5,1477.6 2102.9,1478.1C2103.9,1478.3 2104.8,1484.4 2105.8,1489.0" fill="none" stroke="#45f545" stroke-width="3.3" stroke-linejoin="round" stroke-linecap="round"/>
<path d="M1175.0,1389.0C1176.7,1388.0 1178.3,1387.0 1180.0,1387.0C1182.0,1387.0 1184.0,1387.5 1186.0,1387.5C1188.0,1387.6 1190.0,1387.6 1192.0,1387.6C1194.0,1387.6 1196.0,1387.9 1198.0,1387.9C1200.0,1387.9 1202.0,1388.0 1204.0,1388.0C1206.0,1388.0 1208.0,1388.0 1210.0,1388.0C1212.0,1387.9 1214.0,1387.3 1216.0,1387.3C1218.0,1387.3 1220.0,1388.0 1222.0,1388.0C1224.0,1388.0 1226.0,1387.5 1228.0,1387.4C1230.0,1387.3 1232.0,1387.3 1234.0,1387.3C1236.0,1387.2 1238.0,1387.0 1240.0,1387.0C1242.0,1387.0 1244.0,1387.5 1246.0,1387.5C1248.0,1387.5 1250.0,1387.1 1252.0,1387.1C1254.0,1387.1 1256.0,1387.2 1258.0,1387.2C1260.0,1387.3 1262.0,1387.5 1264.0,1387.6C1266.0,1387.7 1268.0,1387.8 1270.0,1387.8C1272.0,1387.8 1274.0,1387.8 1276.0,1387.8C1278.0,1387.8 1280.0,1387.0 1282.0,1387.0C1284.0,1387.0 1286.0,1387.0 1288.0,1387.0C1290.0,1387.0 1292.0,1387.1 1294.0,1387.2C1296.0,1387.3 1298.0,1387.4 1300.0,1387.6C1302.0,1387.7 1304.0,1387.9 1306.0,1387.9C1308.0,1387.9 1310.0,1387.9 1312.0,1387.9C1314.0,1387.9 1316.0,1388.0 1318.0,1388.0C1320.0,1388.0 1322.0,1387.6 1324.0,1387.6C1326.0,1387.6 1328.0,1387.7 1330.0,1387.7C1332.0,1387.7 1334.0,1387.3 1336.0,1387.3C1338.0,1387.3 1340.0,1387.3 1342.0,1387.3C1344.0,1387.3 1346.0,1387.1 1348.0,1387.1C1350.0,1387.1 1352.0,1387.5 1354.0,1387.5C1356.0,1387.6 1358.0,1387.6 1360.0,1387.6C1362.0,1387.6 1364.0,1387.6 1366.0,1387.6C1368.0,1387.6 1370.0,1387.4 1372.0,1387.4C1373.3,1387.4 1374.7,1387.4 1376.0,1387.5C1376.6,1387.5 1377.1,1389.7 1377.7,1389.7C1379.7,1389.7 1381.6,1383.1 1383.6,1383.1C1385.1,1383.1 1386.5,1383.9 1388.0,1384.8C1389.7,1385.8 1391.5,1391.9 1393.2,1391.9C1394.7,1391.9 1396.1,1376.6 1397.6,1376.6C1399.1,1376.6 1400.5,1379.1 1402.0,1383.7C1403.0,1386.8 1404.0,1442.1 1405.0,1442.1C1406.5,1442.1 1407.9,1360.2 1409.4,1360.2C1410.4,1360.2 1411.4,1383.1 1412.4,1383.1C1414.1,1383.1 1415.8,1382.7 1417.5,1382.0C1419.0,1381.4 1420.4,1369.5 1421.9,1369.5C1423.0,1369.5 1424.2,1439.4 1425.3,1439.4C1426.6,1439.4 1428.0,1359.1 1429.3,1359.1C1430.5,1359.1 1431.8,1382.7 1433.0,1384.2C1434.7,1386.3 1436.5,1387.5 1438.2,1387.5C1440.1,1387.5 1442.1,1387.5 1444.0,1387.5C1446.0,1387.5 1448.0,1387.5 1450.0,1387.4C1452.0,1387.4 1454.0,1387.2 1456.0,1387.2C1458.0,1387.2 1460.0,1387.9 1462.0,1387.9C1464.0,1387.9 1466.0,1387.6 1468.0,1387.6C1470.0,1387.6 1472.0,1387.8 1474.0,1387.8C1476.0,1387.8 1478.0,1387.9 1480.0,1387.9C1482.0,1387.9 1484.0,1387.3 1486.0,1387.2C1488.0,1387.1 1490.0,1387.0 1492.0,1387.0C1494.0,1387.0 1496.0,1387.1 1498.0,1387.2C1500.0,1387.3 1502.0,1388.0 1504.0,1388.0C1506.0,1388.0 1508.0,1387.9 1510.0,1387.8C1512.0,1387.8 1514.0,1387.4 1516.0,1387.4C1518.0,1387.4 1520.0,1387.8 1522.0,1387.8C1524.0,1387.8 1526.0,1387.3 1528.0,1387.3C1530.0,1387.3 1532.0,1387.9 1534.0,1387.9C1536.0,1387.9 1538.0,1387.0 1540.0,1387.0C1542.0,1387.0 1544.0,1387.6 1546.0,1387.8C1548.0,1387.9 1550.0,1388.1 1552.0,1388.1C1554.0,1388.1 1556.0,1387.4 1558.0,1387.4C1558.7,1387.4 1559.3,1387.5 1560.0,1387.5C1561.7,1387.6 1563.3,1388.7 1565.0,1388.7C1566.7,1388.7 1568.3,1386.3 1570.0,1386.3C1572.0,1386.3 1574.0,1389.2 1576.0,1389.2C1578.0,1389.2 1580.0,1386.3 1582.0,1386.3C1584.0,1386.3 1586.0,1388.7 1588.0,1388.7C1590.0,1388.7 1592.0,1387.9 1594.0,1387.5C1596.0,1387.1 1598.0,1386.3 1600.0,1386.3C1602.0,1386.3 1604.0,1388.7 1606.0,1388.7C1608.0,1388.7 1610.0,1387.8 1612.0,1387.5C1614.7,1387.1 1617.3,1386.3 1620.0,1386.3C1622.0,1386.3 1624.0,1387.8 1626.0,1388.7C1627.2,1389.2 1628.5,1390.3 1629.7,1390.3C1630.7,1390.3 1631.8,1384.0 1632.8,1384.0C1634.2,1384.0 1635.6,1388.7 1637.0,1388.7C1638.7,1388.7 1640.3,1386.3 1642.0,1386.3C1644.0,1386.3 1646.0,1389.2 1648.0,1389.2C1649.7,1389.2 1651.3,1386.3 1653.0,1386.3C1654.7,1386.3 1656.3,1388.7 1658.0,1388.7C1660.0,1388.7 1662.0,1385.8 1664.0,1385.8C1666.0,1385.8 1668.0,1388.7 1670.0,1388.7C1672.0,1388.7 1674.0,1385.8 1676.0,1385.8C1677.3,1385.8 1678.7,1386.3 1680.0,1386.9C1681.1,1387.5 1682.2,1392.7 1683.3,1392.7C1684.4,1392.7 1685.4,1382.1 1686.5,1382.1C1687.7,1382.1 1688.8,1389.2 1690.0,1389.2C1691.3,1389.2 1692.7,1387.5 1694.0,1387.5C1696.7,1387.5 1699.5,1387.5 1702.2,1387.5C1704.9,1387.4 1707.7,1387.1 1710.4,1387.1C1713.1,1387.1 1715.9,1387.2 1718.6,1387.2C1721.3,1387.2 1724.1,1387.2 1726.8,1387.2C1729.5,1387.2 1732.3,1387.5 1735.0,1387.5C1737.0,1387.5 1739.0,1385.9 1741.0,1385.2C1743.2,1384.4 1745.4,1382.9 1747.6,1382.9C1749.6,1382.9 1751.6,1384.2 1753.6,1386.1C1754.9,1387.4 1756.3,1400.7 1757.6,1400.7C1758.9,1400.7 1760.2,1385.0 1761.5,1383.6C1763.8,1381.1 1766.2,1379.7 1768.5,1379.7C1771.1,1379.7 1773.8,1382.7 1776.4,1385.9C1778.2,1388.0 1780.0,1398.0 1781.8,1398.0C1783.0,1398.0 1784.1,1390.4 1785.3,1389.3C1787.6,1387.3 1790.0,1385.9 1792.3,1385.9C1794.3,1385.9 1796.2,1393.8 1798.2,1393.8C1801.5,1393.8 1804.9,1384.3 1808.2,1384.3C1810.4,1384.3 1812.5,1392.0 1814.7,1392.0C1816.2,1392.0 1817.6,1383.6 1819.1,1383.6C1820.7,1383.6 1822.4,1391.5 1824.0,1391.5C1825.7,1391.5 1827.3,1386.4 1829.0,1383.6C1830.5,1381.1 1831.9,1375.5 1833.4,1375.5C1834.8,1375.5 1836.1,1395.7 1837.5,1395.7C1838.8,1395.7 1840.0,1387.5 1841.3,1387.5C1843.5,1387.5 1845.6,1387.8 1847.8,1388.2C1849.8,1388.6 1851.8,1392.0 1853.8,1392.0C1856.4,1392.0 1859.1,1386.6 1861.7,1386.6C1863.4,1386.6 1865.0,1390.4 1866.7,1390.4C1868.7,1390.4 1870.7,1385.9 1872.7,1385.9C1876.0,1385.9 1879.3,1390.4 1882.6,1390.4C1884.6,1390.4 1886.5,1384.7 1888.5,1384.7C1891.5,1384.7 1894.5,1386.4 1897.5,1387.3C1900.4,1388.2 1903.4,1390.4 1906.4,1390.4C1908.7,1390.4 1911.0,1385.0 1913.3,1383.6C1915.6,1382.2 1918.0,1380.6 1920.3,1380.6C1922.9,1380.6 1925.6,1392.0 1928.2,1392.0C1931.8,1392.0 1935.5,1377.8 1939.1,1377.8C1941.1,1377.8 1943.1,1404.2 1945.1,1404.2C1946.9,1404.2 1948.6,1375.5 1950.4,1375.5C1951.9,1375.5 1953.5,1393.4 1955.0,1393.4C1956.7,1393.4 1958.3,1388.2 1960.0,1388.2C1961.6,1388.2 1963.3,1392.7 1964.9,1392.7C1966.6,1392.7 1968.2,1387.0 1969.9,1387.0C1971.2,1387.0 1972.6,1393.8 1973.9,1393.8C1975.2,1393.8 1976.5,1386.2 1977.8,1384.7C1979.8,1382.5 1981.8,1380.6 1983.8,1380.6C1985.1,1380.6 1986.5,1387.0 1987.8,1387.0C1990.1,1387.0 1992.4,1382.4 1994.7,1382.4C1997.0,1382.4 1999.3,1390.4 2001.6,1390.4C2003.6,1390.4 2005.6,1387.6 2007.6,1387.0C2010.9,1386.1 2014.2,1385.2 2017.5,1385.2C2020.2,1385.2 2022.8,1390.4 2025.5,1390.4C2029.5,1390.4 2033.4,1387.0 2037.4,1387.0C2041.4,1387.0 2045.3,1388.2 2049.3,1388.2C2053.3,1388.2 2057.2,1386.6 2061.2,1386.6C2065.8,1386.6 2070.5,1389.3 2075.1,1389.3C2077.1,1389.3 2079.0,1385.9 2081.0,1385.9C2083.4,1385.9 2085.9,1386.0 2088.3,1386.1C2090.7,1386.3 2093.2,1386.8 2095.6,1387.2C2098.0,1387.5 2100.5,1387.4 2102.9,1388.2C2103.9,1388.5 2104.8,1395.4 2105.8,1400.7" fill="none" stroke="#bb4dff" stroke-width="3.3" stroke-linejoin="round" stroke-linecap="round"/>
<path d="M1175.0,1297.1C1176.7,1296.1 1178.3,1295.1 1180.0,1295.1C1182.0,1295.1 1184.0,1295.5 1186.0,1295.7C1188.0,1295.8 1190.0,1295.9 1192.0,1295.9C1194.0,1295.9 1196.0,1295.9 1198.0,1295.9C1200.0,1295.9 1202.0,1296.0 1204.0,1296.0C1206.0,1296.0 1208.0,1295.3 1210.0,1295.3C1212.0,1295.3 1214.0,1296.2 1216.0,1296.2C1218.0,1296.2 1220.0,1295.7 1222.0,1295.7C1224.0,1295.7 1226.0,1295.9 1228.0,1295.9C1230.0,1295.9 1232.0,1295.9 1234.0,1295.9C1236.0,1295.9 1238.0,1296.1 1240.0,1296.1C1242.0,1296.1 1244.0,1295.3 1246.0,1295.3C1248.0,1295.3 1250.0,1295.4 1252.0,1295.4C1254.0,1295.5 1256.0,1295.9 1258.0,1295.9C1260.0,1295.9 1262.0,1295.7 1264.0,1295.7C1266.0,1295.7 1268.0,1295.9 1270.0,1295.9C1272.0,1295.9 1274.0,1295.4 1276.0,1295.4C1278.0,1295.4 1280.0,1296.1 1282.0,1296.1C1284.0,1296.1 1286.0,1295.0 1288.0,1295.0C1290.0,1295.0 1292.0,1295.9 1294.0,1295.9C1296.0,1295.9 1298.0,1295.6 1300.0,1295.4C1302.0,1295.3 1304.0,1295.0 1306.0,1295.0C1308.0,1295.0 1310.0,1295.8 1312.0,1295.8C1314.0,1295.8 1316.0,1295.1 1318.0,1295.1C1320.0,1295.1 1322.0,1295.2 1324.0,1295.3C1326.0,1295.3 1328.0,1295.4 1330.0,1295.4C1332.0,1295.4 1334.0,1295.2 1336.0,1295.2C1338.0,1295.2 1340.0,1295.2 1342.0,1295.2C1344.0,1295.2 1346.0,1295.1 1348.0,1295.1C1350.0,1295.1 1352.0,1296.0 1354.0,1296.0C1356.0,1296.0 1358.0,1295.1 1360.0,1295.1C1362.0,1295.1 1364.0,1295.2 1366.0,1295.2C1368.0,1295.2 1370.0,1295.1 1372.0,1295.1C1373.3,1295.1 1374.7,1295.3 1376.0,1295.6C1376.6,1295.7 1377.1,1297.5 1377.7,1297.5C1379.7,1297.5 1381.6,1291.8 1383.6,1291.8C1385.1,1291.8 1386.5,1292.5 1388.0,1293.2C1389.7,1294.1 1391.5,1299.4 1393.2,1299.4C1394.7,1299.4 1396.1,1286.0 1397.6,1286.0C1399.1,1286.0 1400.5,1288.2 1402.0,1292.2C1403.0,1295.0 1404.0,1343.5 1405.0,1343.5C1406.5,1343.5 1407.9,1271.6 1409.4,1271.6C1410.4,1271.6 1411.4,1291.8 1412.4,1291.8C1414.1,1291.8 1415.8,1291.4 1417.5,1290.8C1419.0,1290.3 1420.4,1279.8 1421.9,1279.8C1423.0,1279.8 1424.2,1341.1 1425.3,1341.1C1426.6,1341.1 1428.0,1270.7 1429.3,1270.7C1430.5,1270.7 1431.8,1291.4 1433.0,1292.7C1434.7,1294.6 1436.5,1295.6 1438.2,1295.6C1440.1,1295.6 1442.1,1295.6 1444.0,1295.6C1446.0,1295.6 1448.0,1296.1 1450.0,1296.1C1452.0,1296.1 1454.0,1295.7 1456.0,1295.7C1458.0,1295.7 1460.0,1295.9 1462.0,1296.0C1464.0,1296.1 1466.0,1296.2 1468.0,1296.2C1470.0,1296.2 1472.0,1295.7 1474.0,1295.6C1476.0,1295.5 1478.0,1295.5 1480.0,1295.5C1482.0,1295.5 1484.0,1295.5 1486.0,1295.5C1488.0,1295.5 1490.0,1295.3 1492.0,1295.3C1494.0,1295.3 1496.0,1295.6 1498.0,1295.7C1500.0,1295.9 1502.0,1296.2 1504.0,1296.2C1506.0,1296.2 1508.0,1295.6 1510.0,1295.6C1512.0,1295.6 1514.0,1295.8 1516.0,1295.9C1518.0,1296.0 1520.0,1296.1 1522.0,1296.1C1524.0,1296.1 1526.0,1296.0 1528.0,1296.0C1530.0,1296.0 1532.0,1295.9 1534.0,1295.8C1536.0,1295.7 1538.0,1295.7 1540.0,1295.7C1542.0,1295.6 1544.0,1295.1 1546.0,1295.1C1548.0,1295.1 1550.0,1295.3 1552.0,1295.5C1554.0,1295.6 1556.0,1296.0 1558.0,1296.0C1558.7,1296.0 1559.3,1295.6 1560.0,1295.6C1561.7,1295.6 1563.3,1296.7 1565.0,1296.7C1566.7,1296.7 1568.3,1294.5 1570.0,1294.5C1572.0,1294.5 1574.0,1297.2 1576.0,1297.2C1578.0,1297.2 1580.0,1294.5 1582.0,1294.5C1584.0,1294.5 1586.0,1296.7 1588.0,1296.7C1590.0,1296.7 1592.0,1296.0 1594.0,1295.6C1596.0,1295.2 1598.0,1294.5 1600.0,1294.5C1602.0,1294.5 1604.0,1296.7 1606.0,1296.7C1608.0,1296.7 1610.0,1295.9 1612.0,1295.6C1614.7,1295.2 1617.3,1294.5 1620.0,1294.5C1622.0,1294.5 1624.0,1295.9 1626.0,1296.7C1627.2,1297.2 1628.5,1298.2 1629.7,1298.2C1630.7,1298.2 1631.8,1292.3 1632.8,1292.3C1634.2,1292.3 1635.6,1296.7 1637.0,1296.7C1638.7,1296.7 1640.3,1294.5 1642.0,1294.5C1644.0,1294.5 1646.0,1297.2 1648.0,1297.2C1649.7,1297.2 1651.3,1294.5 1653.0,1294.5C1654.7,1294.5 1656.3,1296.7 1658.0,1296.7C1660.0,1296.7 1662.0,1293.9 1664.0,1293.9C1666.0,1293.9 1668.0,1296.7 1670.0,1296.7C1672.0,1296.7 1674.0,1293.9 1676.0,1293.9C1677.3,1293.9 1678.7,1294.4 1680.0,1295.0C1681.1,1295.6 1682.2,1300.5 1683.3,1300.5C1684.4,1300.5 1685.4,1290.4 1686.5,1290.4C1687.7,1290.4 1688.8,1297.2 1690.0,1297.2C1691.3,1297.2 1692.7,1295.6 1694.0,1295.6C1696.7,1295.5 1699.5,1295.5 1702.2,1295.5C1704.9,1295.5 1707.7,1295.8 1710.4,1295.8C1713.1,1295.8 1715.9,1295.3 1718.6,1295.3C1721.3,1295.3 1724.1,1295.7 1726.8,1295.7C1729.5,1295.7 1732.3,1295.7 1735.0,1295.6C1737.0,1295.6 1739.0,1294.1 1741.0,1293.4C1743.2,1292.6 1745.4,1291.2 1747.6,1291.2C1749.6,1291.2 1751.6,1292.4 1753.6,1294.3C1754.9,1295.5 1756.3,1308.2 1757.6,1308.2C1758.9,1308.2 1760.2,1293.2 1761.5,1291.9C1763.8,1289.5 1766.2,1288.1 1768.5,1288.1C1771.1,1288.1 1773.8,1291.0 1776.4,1294.1C1778.2,1296.1 1780.0,1305.6 1781.8,1305.6C1783.0,1305.6 1784.1,1298.3 1785.3,1297.4C1787.6,1295.4 1790.0,1294.1 1792.3,1294.1C1794.3,1294.1 1796.2,1301.6 1798.2,1301.6C1801.5,1301.6 1804.9,1292.5 1808.2,1292.5C1810.4,1292.5 1812.5,1299.9 1814.7,1299.9C1816.2,1299.9 1817.6,1291.9 1819.1,1291.9C1820.7,1291.9 1822.4,1299.4 1824.0,1299.4C1825.7,1299.4 1827.3,1294.6 1829.0,1291.9C1830.5,1289.5 1831.9,1284.2 1833.4,1284.2C1834.8,1284.2 1836.1,1303.4 1837.5,1303.4C1838.8,1303.4 1840.0,1295.6 1841.3,1295.6C1843.5,1295.6 1845.6,1295.9 1847.8,1296.3C1849.8,1296.6 1851.8,1299.9 1853.8,1299.9C1856.4,1299.9 1859.1,1294.7 1861.7,1294.7C1863.4,1294.7 1865.0,1298.3 1866.7,1298.3C1868.7,1298.3 1870.7,1294.1 1872.7,1294.1C1876.0,1294.1 1879.3,1298.3 1882.6,1298.3C1884.6,1298.3 1886.5,1293.0 1888.5,1293.0C1891.5,1293.0 1894.5,1294.4 1897.5,1295.3C1900.4,1296.2 1903.4,1298.3 1906.4,1298.3C1908.7,1298.3 1911.0,1293.2 1913.3,1291.9C1915.6,1290.5 1918.0,1289.0 1920.3,1289.0C1922.9,1289.0 1925.6,1299.9 1928.2,1299.9C1931.8,1299.9 1935.5,1286.4 1939.1,1286.4C1941.1,1286.4 1943.1,1311.5 1945.1,1311.5C1946.9,1311.5 1948.6,1284.2 1950.4,1284.2C1951.9,1284.2 1953.5,1301.2 1955.0,1301.2C1956.7,1301.2 1958.3,1296.3 1960.0,1296.3C1961.6,1296.3 1963.3,1300.5 1964.9,1300.5C1966.6,1300.5 1968.2,1295.2 1969.9,1295.2C1971.2,1295.2 1972.6,1301.6 1973.9,1301.6C1975.2,1301.6 1976.5,1294.3 1977.8,1293.0C1979.8,1290.8 1981.8,1289.0 1983.8,1289.0C1985.1,1289.0 1986.5,1295.2 1987.8,1295.2C1990.1,1295.2 1992.4,1290.8 1994.7,1290.8C1997.0,1290.8 1999.3,1298.3 2001.6,1298.3C2003.6,1298.3 2005.6,1295.7 2007.6,1295.2C2010.9,1294.2 2014.2,1293.4 2017.5,1293.4C2020.2,1293.4 2022.8,1298.3 2025.5,1298.3C2029.5,1298.3 2033.4,1295.2 2037.4,1295.2C2041.4,1295.2 2045.3,1296.3 2049.3,1296.3C2053.3,1296.3 2057.2,1294.7 2061.2,1294.7C2065.8,1294.7 2070.5,1297.4 2075.1,1297.4C2077.1,1297.4 2079.0,1294.1 2081.0,1294.1C2083.4,1294.1 2085.9,1294.8 2088.3,1295.1C2090.7,1295.4 2093.2,1295.7 2095.6,1295.9C2098.0,1296.1 2100.5,1296.0 2102.9,1296.3C2103.9,1296.4 2104.8,1303.1 2105.8,1308.2" fill="none" stroke="#ffeb00" stroke-width="3.3" stroke-linejoin="round" stroke-linecap="round"/>
<path d="M1175.0,1221.6C1176.7,1220.6 1178.3,1219.6 1180.0,1219.6C1182.0,1219.6 1184.0,1219.8 1186.0,1219.9C1188.0,1220.0 1190.0,1220.7 1192.0,1220.7C1194.0,1220.7 1196.0,1220.7 1198.0,1220.7C1200.0,1220.6 1202.0,1220.6 1204.0,1220.6C1206.0,1220.6 1208.0,1220.4 1210.0,1220.4C1212.0,1220.4 1214.0,1220.6 1216.0,1220.6C1218.0,1220.6 1220.0,1219.5 1222.0,1219.5C1224.0,1219.5 1226.0,1220.3 1228.0,1220.3C1230.0,1220.3 1232.0,1219.8 1234.0,1219.8C1236.0,1219.8 1238.0,1220.4 1240.0,1220.4C1242.0,1220.4 1244.0,1220.0 1246.0,1220.0C1248.0,1220.0 1250.0,1220.2 1252.0,1220.2C1254.0,1220.2 1256.0,1220.2 1258.0,1220.2C1260.0,1220.2 1262.0,1220.2 1264.0,1220.2C1266.0,1220.2 1268.0,1220.4 1270.0,1220.5C1272.0,1220.6 1274.0,1220.7 1276.0,1220.7C1278.0,1220.7 1280.0,1219.9 1282.0,1219.9C1284.0,1219.9 1286.0,1220.4 1288.0,1220.5C1290.0,1220.5 1292.0,1220.6 1294.0,1220.6C1296.0,1220.6 1298.0,1220.1 1300.0,1220.0C1302.0,1219.8 1304.0,1219.6 1306.0,1219.6C1308.0,1219.6 1310.0,1220.0 1312.0,1220.1C1314.0,1220.2 1316.0,1220.4 1318.0,1220.4C1320.0,1220.4 1322.0,1220.2 1324.0,1220.1C1326.0,1220.0 1328.0,1219.7 1330.0,1219.7C1332.0,1219.7 1334.0,1220.3 1336.0,1220.3C1338.0,1220.3 1340.0,1219.9 1342.0,1219.9C1344.0,1219.9 1346.0,1220.6 1348.0,1220.6C1350.0,1220.6 1352.0,1219.7 1354.0,1219.7C1356.0,1219.7 1358.0,1220.2 1360.0,1220.2C1362.0,1220.2 1364.0,1220.0 1366.0,1220.0C1368.0,1220.0 1370.0,1220.7 1372.0,1220.7C1373.3,1220.7 1374.7,1220.1 1376.0,1220.1C1376.6,1220.1 1377.1,1221.5 1377.7,1221.5C1379.7,1221.5 1381.6,1217.3 1383.6,1217.3C1385.1,1217.3 1386.5,1217.8 1388.0,1218.4C1389.7,1219.0 1391.5,1222.9 1393.2,1222.9C1394.7,1222.9 1396.1,1213.2 1397.6,1213.2C1399.1,1213.2 1400.5,1214.7 1402.0,1217.7C1403.0,1219.7 1404.0,1254.8 1405.0,1254.8C1406.5,1254.8 1407.9,1202.8 1409.4,1202.8C1410.4,1202.8 1411.4,1217.3 1412.4,1217.3C1414.1,1217.3 1415.8,1217.1 1417.5,1216.6C1419.0,1216.3 1420.4,1208.6 1421.9,1208.6C1423.0,1208.6 1424.2,1253.1 1425.3,1253.1C1426.6,1253.1 1428.0,1202.1 1429.3,1202.1C1430.5,1202.1 1431.8,1217.1 1433.0,1218.0C1434.7,1219.4 1436.5,1220.1 1438.2,1220.1C1440.1,1220.1 1442.1,1220.1 1444.0,1220.1C1446.0,1220.1 1448.0,1219.7 1450.0,1219.7C1452.0,1219.7 1454.0,1220.6 1456.0,1220.6C1458.0,1220.6 1460.0,1220.0 1462.0,1220.0C1464.0,1220.0 1466.0,1220.0 1468.0,1219.9C1470.0,1219.9 1472.0,1219.7 1474.0,1219.7C1476.0,1219.7 1478.0,1220.0 1480.0,1220.1C1482.0,1220.2 1484.0,1220.6 1486.0,1220.6C1488.0,1220.7 1490.0,1220.7 1492.0,1220.7C1494.0,1220.7 1496.0,1220.7 1498.0,1220.6C1500.0,1220.6 1502.0,1220.4 1504.0,1220.2C1506.0,1220.1 1508.0,1219.8 1510.0,1219.8C1512.0,1219.8 1514.0,1220.0 1516.0,1220.1C1518.0,1220.2 1520.0,1220.3 1522.0,1220.3C1524.0,1220.3 1526.0,1219.9 1528.0,1219.9C1530.0,1219.9 1532.0,1220.7 1534.0,1220.7C1536.0,1220.7 1538.0,1219.6 1540.0,1219.6C1542.0,1219.6 1544.0,1219.8 1546.0,1219.8C1548.0,1219.8 1550.0,1219.8 1552.0,1219.7C1554.0,1219.7 1556.0,1219.7 1558.0,1219.7C1558.7,1219.7 1559.3,1220.0 1560.0,1220.1C1561.7,1220.4 1563.3,1221.1 1565.0,1221.1C1566.7,1221.1 1568.3,1219.1 1570.0,1219.1C1572.0,1219.1 1574.0,1221.6 1576.0,1221.6C1578.0,1221.6 1580.0,1219.1 1582.0,1219.1C1584.0,1219.1 1586.0,1221.1 1588.0,1221.1C1590.0,1221.1 1592.0,1220.4 1594.0,1220.1C1596.0,1219.8 1598.0,1219.1 1600.0,1219.1C1602.0,1219.1 1604.0,1221.1 1606.0,1221.1C1608.0,1221.1 1610.0,1220.4 1612.0,1220.1C1614.7,1219.7 1617.3,1219.1 1620.0,1219.1C1622.0,1219.1 1624.0,1220.4 1626.0,1221.1C1627.2,1221.5 1628.5,1222.5 1629.7,1222.5C1630.7,1222.5 1631.8,1217.1 1632.8,1217.1C1634.2,1217.1 1635.6,1221.1 1637.0,1221.1C1638.7,1221.1 1640.3,1219.1 1642.0,1219.1C1644.0,1219.1 1646.0,1221.6 1648.0,1221.6C1649.7,1221.6 1651.3,1219.1 1653.0,1219.1C1654.7,1219.1 1656.3,1221.1 1658.0,1221.1C1660.0,1221.1 1662.0,1218.6 1664.0,1218.6C1666.0,1218.6 1668.0,1221.1 1670.0,1221.1C1672.0,1221.1 1674.0,1218.6 1676.0,1218.6C1677.3,1218.6 1678.7,1219.0 1680.0,1219.6C1681.1,1220.1 1682.2,1224.6 1683.3,1224.6C1684.4,1224.6 1685.4,1215.4 1686.5,1215.4C1687.7,1215.4 1688.8,1221.6 1690.0,1221.6C1691.3,1221.6 1692.7,1220.3 1694.0,1220.1C1696.7,1219.8 1699.5,1219.6 1702.2,1219.6C1704.9,1219.6 1707.7,1219.7 1710.4,1219.8C1713.1,1219.8 1715.9,1219.9 1718.6,1219.9C1721.3,1220.0 1724.1,1220.6 1726.8,1220.6C1729.5,1220.6 1732.3,1220.4 1735.0,1220.1C1737.0,1219.9 1739.0,1218.7 1741.0,1218.1C1743.2,1217.4 1745.4,1216.1 1747.6,1216.1C1749.6,1216.1 1751.6,1217.2 1753.6,1218.9C1754.9,1220.0 1756.3,1231.6 1757.6,1231.6C1758.9,1231.6 1760.2,1217.9 1761.5,1216.7C1763.8,1214.5 1766.2,1213.3 1768.5,1213.3C1771.1,1213.3 1773.8,1216.0 1776.4,1218.7C1778.2,1220.6 1780.0,1229.2 1781.8,1229.2C1783.0,1229.2 1784.1,1222.6 1785.3,1221.7C1787.6,1219.9 1790.0,1218.7 1792.3,1218.7C1794.3,1218.7 1796.2,1225.6 1798.2,1225.6C1801.5,1225.6 1804.9,1217.3 1808.2,1217.3C1810.4,1217.3 1812.5,1224.0 1814.7,1224.0C1816.2,1224.0 1817.6,1216.7 1819.1,1216.7C1820.7,1216.7 1822.4,1223.6 1824.0,1223.6C1825.7,1223.6 1827.3,1219.2 1829.0,1216.7C1830.5,1214.5 1831.9,1209.7 1833.4,1209.7C1834.8,1209.7 1836.1,1227.2 1837.5,1227.2C1838.8,1227.2 1840.0,1220.1 1841.3,1220.1C1843.5,1220.1 1845.6,1220.4 1847.8,1220.7C1849.8,1221.0 1851.8,1224.0 1853.8,1224.0C1856.4,1224.0 1859.1,1219.3 1861.7,1219.3C1863.4,1219.3 1865.0,1222.6 1866.7,1222.6C1868.7,1222.6 1870.7,1218.7 1872.7,1218.7C1876.0,1218.7 1879.3,1222.6 1882.6,1222.6C1884.6,1222.6 1886.5,1217.7 1888.5,1217.7C1891.5,1217.7 1894.5,1219.4 1897.5,1220.2C1900.4,1221.0 1903.4,1222.6 1906.4,1222.6C1908.7,1222.6 1911.0,1217.9 1913.3,1216.7C1915.6,1215.5 1918.0,1214.1 1920.3,1214.1C1922.9,1214.1 1925.6,1224.0 1928.2,1224.0C1931.8,1224.0 1935.5,1211.7 1939.1,1211.7C1941.1,1211.7 1943.1,1234.6 1945.1,1234.6C1946.9,1234.6 1948.6,1209.7 1950.4,1209.7C1951.9,1209.7 1953.5,1225.2 1955.0,1225.2C1956.7,1225.2 1958.3,1220.7 1960.0,1220.7C1961.6,1220.7 1963.3,1224.6 1964.9,1224.6C1966.6,1224.6 1968.2,1219.7 1969.9,1219.7C1971.2,1219.7 1972.6,1225.6 1973.9,1225.6C1975.2,1225.6 1976.5,1219.0 1977.8,1217.7C1979.8,1215.8 1981.8,1214.1 1983.8,1214.1C1985.1,1214.1 1986.5,1219.7 1987.8,1219.7C1990.1,1219.7 1992.4,1215.7 1994.7,1215.7C1997.0,1215.7 1999.3,1222.6 2001.6,1222.6C2003.6,1222.6 2005.6,1220.2 2007.6,1219.7C2010.9,1218.9 2014.2,1218.1 2017.5,1218.1C2020.2,1218.1 2022.8,1222.6 2025.5,1222.6C2029.5,1222.6 2033.4,1219.7 2037.4,1219.7C2041.4,1219.7 2045.3,1220.7 2049.3,1220.7C2053.3,1220.7 2057.2,1219.3 2061.2,1219.3C2065.8,1219.3 2070.5,1221.7 2075.1,1221.7C2077.1,1221.7 2079.0,1218.7 2081.0,1218.7C2083.4,1218.7 2085.9,1219.4 2088.3,1219.5C2090.7,1219.7 2093.2,1219.7 2095.6,1219.9C2098.0,1220.0 2100.5,1220.1 2102.9,1220.7C2103.9,1221.0 2104.8,1227.0 2105.8,1231.6" fill="none" stroke="#732605" stroke-width="3.3" stroke-linejoin="round" stroke-linecap="round"/>
<rect x="1875.1" y="1173.0" width="161.9" height="509.0" fill="rgb(130,250,250)" fill-opacity="0.28"/>
<path d="M1173.2,998.4 L1173.2,1687.2 L2107.5,1687.2" fill="none" stroke="#000" stroke-width="3"/>
<line x1="1160.2" y1="1687.2" x2="1173.2" y2="1687.2" stroke="#000" stroke-width="2.6"/>
<text x="1149.7" y="1695.8" font-size="26.0" text-anchor="end" font-weight="bold" font-family="'Liberation Serif','Times New Roman',serif">0.0</text>
<line x1="1166.7" y1="1638.0" x2="1173.2" y2="1638.0" stroke="#000" stroke-width="2.6"/>
<line x1="1160.2" y1="1588.8" x2="1173.2" y2="1588.8" stroke="#000" stroke-width="2.6"/>
<text x="1149.7" y="1597.4" font-size="26.0" text-anchor="end" font-weight="bold" font-family="'Liberation Serif','Times New Roman',serif">0.1</text>
<line x1="1166.7" y1="1539.6" x2="1173.2" y2="1539.6" stroke="#000" stroke-width="2.6"/>
<line x1="1160.2" y1="1490.4" x2="1173.2" y2="1490.4" stroke="#000" stroke-width="2.6"/>
<text x="1149.7" y="1499.0" font-size="26.0" text-anchor="end" font-weight="bold" font-family="'Liberation Serif','Times New Roman',serif">0.2</text>
<line x1="1166.7" y1="1441.2" x2="1173.2" y2="1441.2" stroke="#000" stroke-width="2.6"/>
<line x1="1160.2" y1="1392.0" x2="1173.2" y2="1392.0" stroke="#000" stroke-width="2.6"/>
<text x="1149.7" y="1400.6" font-size="26.0" text-anchor="end" font-weight="bold" font-family="'Liberation Serif','Times New Roman',serif">0.3</text>
<line x1="1166.7" y1="1342.8" x2="1173.2" y2="1342.8" stroke="#000" stroke-width="2.6"/>
<line x1="1160.2" y1="1293.6" x2="1173.2" y2="1293.6" stroke="#000" stroke-width="2.6"/>
<text x="1149.7" y="1302.2" font-size="26.0" text-anchor="end" font-weight="bold" font-family="'Liberation Serif','Times New Roman',serif">0.4</text>
<line x1="1166.7" y1="1244.4" x2="1173.2" y2="1244.4" stroke="#000" stroke-width="2.6"/>
<line x1="1160.2" y1="1195.2" x2="1173.2" y2="1195.2" stroke="#000" stroke-width="2.6"/>
<text x="1149.7" y="1203.8" font-size="26.0" text-anchor="end" font-weight="bold" font-family="'Liberation Serif','Times New Roman',serif">0.5</text>
<line x1="1166.7" y1="1146.0" x2="1173.2" y2="1146.0" stroke="#000" stroke-width="2.6"/>
<line x1="1160.2" y1="1096.8" x2="1173.2" y2="1096.8" stroke="#000" stroke-width="2.6"/>
<text x="1149.7" y="1105.4" font-size="26.0" text-anchor="end" font-weight="bold" font-family="'Liberation Serif','Times New Roman',serif">0.6</text>
<line x1="1166.7" y1="1047.6" x2="1173.2" y2="1047.6" stroke="#000" stroke-width="2.6"/>
<line x1="1160.2" y1="998.4" x2="1173.2" y2="998.4" stroke="#000" stroke-width="2.6"/>
<text x="1149.7" y="1007.0" font-size="26.0" text-anchor="end" font-weight="bold" font-family="'Liberation Serif','Times New Roman',serif">0.7</text>
<line x1="1202.9" y1="1687.2" x2="1202.9" y2="1700.2" stroke="#000" stroke-width="2.6"/>
<text x="1202.9" y="1730.0" font-size="26.0" text-anchor="middle" font-weight="bold" font-family="'Liberation Serif','Times New Roman',serif">3600</text>
<line x1="1292.1" y1="1687.2" x2="1292.1" y2="1693.7" stroke="#000" stroke-width="2.6"/>
<line x1="1381.4" y1="1687.2" x2="1381.4" y2="1700.2" stroke="#000" stroke-width="2.6"/>
<text x="1381.4" y="1730.0" font-size="26.0" text-anchor="middle" font-weight="bold" font-family="'Liberation Serif','Times New Roman',serif">3000</text>
<line x1="1470.6" y1="1687.2" x2="1470.6" y2="1693.7" stroke="#000" stroke-width="2.6"/>
<line x1="1559.9" y1="1687.2" x2="1559.9" y2="1700.2" stroke="#000" stroke-width="2.6"/>
<text x="1559.9" y="1730.0" font-size="26.0" text-anchor="middle" font-weight="bold" font-family="'Liberation Serif','Times New Roman',serif">2400</text>
<line x1="1649.1" y1="1687.2" x2="1649.1" y2="1693.7" stroke="#000" stroke-width="2.6"/>
<line x1="1738.3" y1="1687.2" x2="1738.3" y2="1700.2" stroke="#000" stroke-width="2.6"/>
<text x="1738.3" y="1730.0" font-size="26.0" text-anchor="middle" font-weight="bold" font-family="'Liberation Serif','Times New Roman',serif">1800</text>
<line x1="1827.6" y1="1687.2" x2="1827.6" y2="1693.7" stroke="#000" stroke-width="2.6"/>
<line x1="1916.8" y1="1687.2" x2="1916.8" y2="1700.2" stroke="#000" stroke-width="2.6"/>
<text x="1916.8" y="1730.0" font-size="26.0" text-anchor="middle" font-weight="bold" font-family="'Liberation Serif','Times New Roman',serif">1200</text>
<line x1="2006.1" y1="1687.2" x2="2006.1" y2="1693.7" stroke="#000" stroke-width="2.6"/>
<line x1="2095.3" y1="1687.2" x2="2095.3" y2="1700.2" stroke="#000" stroke-width="2.6"/>
<text x="2095.3" y="1730.0" font-size="26.0" text-anchor="middle" font-weight="bold" font-family="'Liberation Serif','Times New Roman',serif">600</text>
<text x="1093.7" y="1348.3" font-size="29.5" text-anchor="middle" font-weight="bold" font-family="'Liberation Serif','Times New Roman',serif" transform="rotate(-90 1093.7 1348.3)">Absorbance</text>
<text x="1512.5" y="1781.8" font-size="29.2" font-weight="bold" font-family="'Liberation Serif','Times New Roman',serif">Wave number (cm<tspan dy="-15" font-size="27">-1</tspan><tspan dy="15">)</tspan></text>
<text x="1083.6" y="1051.3" font-size="60.0" text-anchor="middle" font-weight="normal" font-family="'Liberation Serif','Times New Roman',serif">d</text>
<g stroke="rgb(120,250,250)" stroke-opacity="0.25" stroke-width="7" stroke-linecap="round" stroke-linejoin="round" fill="none"><line x1="1822.6" y1="1143.3" x2="1628" y2="1090"/><polygon points="1583.6,1077.7 1630.7,1078.2 1622.6,1101.0" fill="rgb(120,250,250)" fill-opacity="0.35"/></g>
<path d="M1233.4,1035.8C1235.1,1036.8 1236.8,1037.4 1238.5,1037.4C1239.9,1037.4 1241.4,1036.6 1242.8,1036.6C1245.4,1036.6 1248.0,1054.6 1250.6,1054.6C1254.0,1054.6 1257.5,1030.0 1260.9,1030.0C1263.8,1030.0 1266.6,1037.7 1269.5,1039.9C1271.8,1041.7 1274.1,1042.2 1276.4,1044.0C1279.8,1046.6 1283.3,1055.4 1286.7,1055.4C1290.7,1055.4 1294.8,1031.7 1298.8,1031.7C1300.5,1031.7 1302.3,1046.4 1304.0,1046.4C1306.6,1046.4 1309.1,1015.0 1311.7,1015.0C1313.7,1015.0 1315.7,1019.1 1317.7,1023.6C1320.0,1028.7 1322.3,1061.2 1324.6,1061.2C1326.9,1061.2 1329.2,1055.0 1331.5,1049.7C1334.9,1041.7 1338.4,1005.5 1341.8,1005.5C1345.1,1005.5 1348.5,1107.0 1351.8,1107.0C1354.3,1107.0 1356.9,997.3 1359.4,997.3C1361.6,997.3 1363.7,1067.6 1365.9,1067.6C1367.6,1067.6 1369.4,1049.7 1371.1,1049.7C1372.8,1049.7 1374.6,1063.5 1376.3,1063.5C1378.0,1063.5 1379.7,1042.4 1381.4,1042.4C1383.1,1042.4 1384.9,1062.8 1386.6,1062.8C1388.3,1062.8 1390.1,1050.5 1391.8,1050.5C1393.5,1050.5 1395.2,1067.6 1396.9,1067.6C1399.2,1067.6 1401.5,1030.0 1403.8,1030.0C1405.2,1030.0 1406.7,1044.0 1408.1,1044.0C1410.2,1044.0 1412.4,1015.4 1414.5,1015.4C1417.5,1015.4 1420.6,1048.1 1423.6,1048.1C1426.3,1048.1 1429.0,1022.7 1431.7,1022.7C1435.0,1022.7 1438.4,1054.6 1441.7,1054.6C1444.0,1054.6 1446.3,1039.9 1448.6,1039.9C1450.3,1039.9 1452.0,1048.1 1453.7,1048.1C1456.0,1048.1 1458.3,1043.5 1460.6,1041.5C1463.5,1039.1 1466.3,1035.0 1469.2,1035.0C1471.5,1035.0 1473.8,1037.3 1476.1,1039.9C1478.1,1042.2 1480.2,1055.4 1482.2,1055.4C1484.2,1055.4 1486.2,1036.6 1488.2,1036.6C1490.5,1036.6 1492.8,1041.5 1495.1,1041.5C1497.7,1041.5 1500.2,1036.6 1502.8,1036.6C1504.8,1036.6 1506.8,1046.4 1508.8,1046.4C1511.1,1046.4 1513.4,1045.6 1515.7,1044.7C1518.0,1043.9 1520.3,1042.0 1522.6,1039.9" fill="none" stroke="#45f545" stroke-width="1.8" stroke-linejoin="round"/>
<path d="M1233.4,1038.4C1235.1,1039.5 1236.8,1040.1 1238.5,1040.1C1239.9,1040.1 1241.4,1039.2 1242.8,1039.2C1245.4,1039.2 1248.0,1058.2 1250.6,1058.2C1254.0,1058.2 1257.5,1032.3 1260.9,1032.3C1263.8,1032.3 1266.6,1040.4 1269.5,1042.7C1271.8,1044.6 1274.1,1045.2 1276.4,1047.0C1279.8,1049.7 1283.3,1059.0 1286.7,1059.0C1290.7,1059.0 1294.8,1034.1 1298.8,1034.1C1300.5,1034.1 1302.3,1049.6 1304.0,1049.6C1306.6,1049.6 1309.1,1016.5 1311.7,1016.5C1313.7,1016.5 1315.7,1020.8 1317.7,1025.5C1320.0,1030.9 1322.3,1065.1 1324.6,1065.1C1326.9,1065.1 1329.2,1058.6 1331.5,1053.0C1334.9,1044.6 1338.4,1006.5 1341.8,1006.5C1345.1,1006.5 1348.5,1118.0 1351.8,1118.0C1354.3,1118.0 1356.9,1002.0 1359.4,1002.0C1361.6,1002.0 1363.7,1071.9 1365.9,1071.9C1367.6,1071.9 1369.4,1053.0 1371.1,1053.0C1372.8,1053.0 1374.6,1067.6 1376.3,1067.6C1378.0,1067.6 1379.7,1045.3 1381.4,1045.3C1383.1,1045.3 1384.9,1066.8 1386.6,1066.8C1388.3,1066.8 1390.1,1053.9 1391.8,1053.9C1393.5,1053.9 1395.2,1071.9 1396.9,1071.9C1399.2,1071.9 1401.5,1032.3 1403.8,1032.3C1405.2,1032.3 1406.7,1047.0 1408.1,1047.0C1410.2,1047.0 1412.4,1016.9 1414.5,1016.9C1417.5,1016.9 1420.6,1051.3 1423.6,1051.3C1426.3,1051.3 1429.0,1024.6 1431.7,1024.6C1435.0,1024.6 1438.4,1058.2 1441.7,1058.2C1444.0,1058.2 1446.3,1042.7 1448.6,1042.7C1450.3,1042.7 1452.0,1051.3 1453.7,1051.3C1456.0,1051.3 1458.3,1046.5 1460.6,1044.4C1463.5,1041.8 1466.3,1037.5 1469.2,1037.5C1471.5,1037.5 1473.8,1040.0 1476.1,1042.7C1478.1,1045.1 1480.2,1059.0 1482.2,1059.0C1484.2,1059.0 1486.2,1039.2 1488.2,1039.2C1490.5,1039.2 1492.8,1044.4 1495.1,1044.4C1497.7,1044.4 1500.2,1039.2 1502.8,1039.2C1504.8,1039.2 1506.8,1049.6 1508.8,1049.6C1511.1,1049.6 1513.4,1048.7 1515.7,1047.8C1518.0,1046.9 1520.3,1045.0 1522.6,1042.7" fill="none" stroke="#bb4dff" stroke-width="1.8" stroke-linejoin="round"/>
<path d="M1233.4,1037.0C1235.1,1038.0 1236.8,1038.6 1238.5,1038.6C1239.9,1038.6 1241.4,1037.7 1242.8,1037.7C1245.4,1037.7 1248.0,1055.4 1250.6,1055.4C1254.0,1055.4 1257.5,1031.3 1260.9,1031.3C1263.8,1031.3 1266.6,1038.8 1269.5,1041.0C1271.8,1042.7 1274.1,1043.3 1276.4,1045.0C1279.8,1047.5 1283.3,1056.1 1286.7,1056.1C1290.7,1056.1 1294.8,1033.0 1298.8,1033.0C1300.5,1033.0 1302.3,1047.4 1304.0,1047.4C1306.6,1047.4 1309.1,1016.6 1311.7,1016.6C1313.7,1016.6 1315.7,1020.6 1317.7,1025.0C1320.0,1030.0 1322.3,1061.8 1324.6,1061.8C1326.9,1061.8 1329.2,1055.7 1331.5,1050.6C1334.9,1042.8 1338.4,1010.0 1341.8,1010.0C1345.1,1010.0 1348.5,1100.0 1351.8,1100.0C1354.3,1100.0 1356.9,999.3 1359.4,999.3C1361.6,999.3 1363.7,1068.1 1365.9,1068.1C1367.6,1068.1 1369.4,1050.6 1371.1,1050.6C1372.8,1050.6 1374.6,1064.1 1376.3,1064.1C1378.0,1064.1 1379.7,1043.4 1381.4,1043.4C1383.1,1043.4 1384.9,1063.4 1386.6,1063.4C1388.3,1063.4 1390.1,1051.4 1391.8,1051.4C1393.5,1051.4 1395.2,1068.1 1396.9,1068.1C1399.2,1068.1 1401.5,1031.3 1403.8,1031.3C1405.2,1031.3 1406.7,1045.0 1408.1,1045.0C1410.2,1045.0 1412.4,1017.0 1414.5,1017.0C1417.5,1017.0 1420.6,1049.0 1423.6,1049.0C1426.3,1049.0 1429.0,1024.1 1431.7,1024.1C1435.0,1024.1 1438.4,1055.4 1441.7,1055.4C1444.0,1055.4 1446.3,1041.0 1448.6,1041.0C1450.3,1041.0 1452.0,1049.0 1453.7,1049.0C1456.0,1049.0 1458.3,1044.5 1460.6,1042.6C1463.5,1040.2 1466.3,1036.1 1469.2,1036.1C1471.5,1036.1 1473.8,1038.4 1476.1,1041.0C1478.1,1043.2 1480.2,1056.1 1482.2,1056.1C1484.2,1056.1 1486.2,1037.7 1488.2,1037.7C1490.5,1037.7 1492.8,1042.6 1495.1,1042.6C1497.7,1042.6 1500.2,1037.7 1502.8,1037.7C1504.8,1037.7 1506.8,1047.4 1508.8,1047.4C1511.1,1047.4 1513.4,1046.5 1515.7,1045.7C1518.0,1044.9 1520.3,1043.1 1522.6,1041.0" fill="none" stroke="#ffeb00" stroke-width="1.8" stroke-linejoin="round"/>
<path d="M1233.4,1037.4C1235.1,1038.5 1236.8,1039.1 1238.5,1039.1C1239.9,1039.1 1241.4,1038.2 1242.8,1038.2C1245.4,1038.2 1248.0,1057.2 1250.6,1057.2C1254.0,1057.2 1257.5,1031.3 1260.9,1031.3C1263.8,1031.3 1266.6,1039.4 1269.5,1041.7C1271.8,1043.6 1274.1,1044.2 1276.4,1046.0C1279.8,1048.7 1283.3,1058.0 1286.7,1058.0C1290.7,1058.0 1294.8,1033.1 1298.8,1033.1C1300.5,1033.1 1302.3,1048.6 1304.0,1048.6C1306.6,1048.6 1309.1,1015.5 1311.7,1015.5C1313.7,1015.5 1315.7,1019.8 1317.7,1024.5C1320.0,1029.9 1322.3,1064.1 1324.6,1064.1C1326.9,1064.1 1329.2,1057.9 1331.5,1052.0C1334.9,1043.2 1338.4,995.0 1341.8,995.0C1345.1,995.0 1348.5,1117.0 1351.8,1117.0C1354.3,1117.0 1356.9,996.9 1359.4,996.9C1361.6,996.9 1363.7,1070.9 1365.9,1070.9C1367.6,1070.9 1369.4,1052.0 1371.1,1052.0C1372.8,1052.0 1374.6,1066.6 1376.3,1066.6C1378.0,1066.6 1379.7,1044.3 1381.4,1044.3C1383.1,1044.3 1384.9,1065.8 1386.6,1065.8C1388.3,1065.8 1390.1,1052.9 1391.8,1052.9C1393.5,1052.9 1395.2,1070.9 1396.9,1070.9C1399.2,1070.9 1401.5,1031.3 1403.8,1031.3C1405.2,1031.3 1406.7,1046.0 1408.1,1046.0C1410.2,1046.0 1412.4,1015.9 1414.5,1015.9C1417.5,1015.9 1420.6,1050.3 1423.6,1050.3C1426.3,1050.3 1429.0,1023.6 1431.7,1023.6C1435.0,1023.6 1438.4,1057.2 1441.7,1057.2C1444.0,1057.2 1446.3,1041.7 1448.6,1041.7C1450.3,1041.7 1452.0,1050.3 1453.7,1050.3C1456.0,1050.3 1458.3,1045.5 1460.6,1043.4C1463.5,1040.8 1466.3,1036.5 1469.2,1036.5C1471.5,1036.5 1473.8,1039.0 1476.1,1041.7C1478.1,1044.1 1480.2,1058.0 1482.2,1058.0C1484.2,1058.0 1486.2,1038.2 1488.2,1038.2C1490.5,1038.2 1492.8,1043.4 1495.1,1043.4C1497.7,1043.4 1500.2,1038.2 1502.8,1038.2C1504.8,1038.2 1506.8,1048.6 1508.8,1048.6C1511.1,1048.6 1513.4,1047.7 1515.7,1046.8C1518.0,1045.9 1520.3,1044.0 1522.6,1041.7" fill="none" stroke="#ff4747" stroke-width="1.8" stroke-linejoin="round"/>
<path d="M1233.4,1037.3C1235.1,1038.4 1236.8,1039.1 1238.5,1039.1C1239.9,1039.1 1241.4,1038.1 1242.8,1038.1C1245.4,1038.1 1248.0,1058.1 1250.6,1058.1C1254.0,1058.1 1257.5,1030.9 1260.9,1030.9C1263.8,1030.9 1266.6,1039.4 1269.5,1041.8C1271.8,1043.8 1274.1,1044.4 1276.4,1046.3C1279.8,1049.2 1283.3,1058.9 1286.7,1058.9C1290.7,1058.9 1294.8,1032.8 1298.8,1032.8C1300.5,1032.8 1302.3,1049.0 1304.0,1049.0C1306.6,1049.0 1309.1,1014.3 1311.7,1014.3C1313.7,1014.3 1315.7,1018.8 1317.7,1023.7C1320.0,1029.4 1322.3,1065.3 1324.6,1065.3C1326.9,1065.3 1329.2,1058.7 1331.5,1052.6C1334.9,1043.6 1338.4,1000.0 1341.8,1000.0C1345.1,1000.0 1348.5,1124.0 1351.8,1124.0C1354.3,1124.0 1356.9,984.0 1359.4,984.0C1361.6,984.0 1363.7,1072.5 1365.9,1072.5C1367.6,1072.5 1369.4,1052.6 1371.1,1052.6C1372.8,1052.6 1374.6,1067.9 1376.3,1067.9C1378.0,1067.9 1379.7,1044.5 1381.4,1044.5C1383.1,1044.5 1384.9,1067.1 1386.6,1067.1C1388.3,1067.1 1390.1,1053.6 1391.8,1053.6C1393.5,1053.6 1395.2,1072.5 1396.9,1072.5C1399.2,1072.5 1401.5,1030.9 1403.8,1030.9C1405.2,1030.9 1406.7,1046.3 1408.1,1046.3C1410.2,1046.3 1412.4,1014.7 1414.5,1014.7C1417.5,1014.7 1420.6,1050.8 1423.6,1050.8C1426.3,1050.8 1429.0,1022.8 1431.7,1022.8C1435.0,1022.8 1438.4,1058.1 1441.7,1058.1C1444.0,1058.1 1446.3,1041.8 1448.6,1041.8C1450.3,1041.8 1452.0,1050.8 1453.7,1050.8C1456.0,1050.8 1458.3,1045.7 1460.6,1043.6C1463.5,1040.9 1466.3,1036.3 1469.2,1036.3C1471.5,1036.3 1473.8,1038.9 1476.1,1041.8C1478.1,1044.3 1480.2,1058.9 1482.2,1058.9C1484.2,1058.9 1486.2,1038.1 1488.2,1038.1C1490.5,1038.1 1492.8,1043.6 1495.1,1043.6C1497.7,1043.6 1500.2,1038.1 1502.8,1038.1C1504.8,1038.1 1506.8,1049.0 1508.8,1049.0C1511.1,1049.0 1513.4,1048.1 1515.7,1047.2C1518.0,1046.2 1520.3,1044.2 1522.6,1041.8" fill="none" stroke="#45a5ff" stroke-width="1.8" stroke-linejoin="round"/>
<path d="M1233.4,1036.9C1235.1,1038.0 1236.8,1038.6 1238.5,1038.6C1239.9,1038.6 1241.4,1037.7 1242.8,1037.7C1245.4,1037.7 1248.0,1056.7 1250.6,1056.7C1254.0,1056.7 1257.5,1030.8 1260.9,1030.8C1263.8,1030.8 1266.6,1038.9 1269.5,1041.2C1271.8,1043.1 1274.1,1043.7 1276.4,1045.5C1279.8,1048.2 1283.3,1057.5 1286.7,1057.5C1290.7,1057.5 1294.8,1032.6 1298.8,1032.6C1300.5,1032.6 1302.3,1048.1 1304.0,1048.1C1306.6,1048.1 1309.1,1015.0 1311.7,1015.0C1313.7,1015.0 1315.7,1019.3 1317.7,1024.0C1320.0,1029.4 1322.3,1063.6 1324.6,1063.6C1326.9,1063.6 1329.2,1057.1 1331.5,1051.5C1334.9,1043.1 1338.4,1005.0 1341.8,1005.0C1345.1,1005.0 1348.5,1111.8 1351.8,1111.8C1354.3,1111.8 1356.9,996.4 1359.4,996.4C1361.6,996.4 1363.7,1070.4 1365.9,1070.4C1367.6,1070.4 1369.4,1051.5 1371.1,1051.5C1372.8,1051.5 1374.6,1066.1 1376.3,1066.1C1378.0,1066.1 1379.7,1043.8 1381.4,1043.8C1383.1,1043.8 1384.9,1065.3 1386.6,1065.3C1388.3,1065.3 1390.1,1052.4 1391.8,1052.4C1393.5,1052.4 1395.2,1070.4 1396.9,1070.4C1399.2,1070.4 1401.5,1030.8 1403.8,1030.8C1405.2,1030.8 1406.7,1045.5 1408.1,1045.5C1410.2,1045.5 1412.4,1015.4 1414.5,1015.4C1417.5,1015.4 1420.6,1049.8 1423.6,1049.8C1426.3,1049.8 1429.0,1023.1 1431.7,1023.1C1435.0,1023.1 1438.4,1056.7 1441.7,1056.7C1444.0,1056.7 1446.3,1041.2 1448.6,1041.2C1450.3,1041.2 1452.0,1049.8 1453.7,1049.8C1456.0,1049.8 1458.3,1045.0 1460.6,1042.9C1463.5,1040.3 1466.3,1036.0 1469.2,1036.0C1471.5,1036.0 1473.8,1038.5 1476.1,1041.2C1478.1,1043.6 1480.2,1057.5 1482.2,1057.5C1484.2,1057.5 1486.2,1037.7 1488.2,1037.7C1490.5,1037.7 1492.8,1042.9 1495.1,1042.9C1497.7,1042.9 1500.2,1037.7 1502.8,1037.7C1504.8,1037.7 1506.8,1048.1 1508.8,1048.1C1511.1,1048.1 1513.4,1047.2 1515.7,1046.3C1518.0,1045.4 1520.3,1043.5 1522.6,1041.2" fill="none" stroke="#732605" stroke-width="1.8" stroke-linejoin="round"/>
<path d="M1233.4,923.2 L1233.4,1167.4 L1523.5,1167.4" fill="none" stroke="#000" stroke-width="1.3"/>
<line x1="1228.4" y1="923.0" x2="1233.4" y2="923.0" stroke="#000" stroke-width="1.3"/>
<text x="1226.3" y="927.6" font-size="13.2" text-anchor="end" font-weight="bold" font-family="'Liberation Sans',Arial,sans-serif">0.025</text>
<line x1="1228.4" y1="1045.1" x2="1233.4" y2="1045.1" stroke="#000" stroke-width="1.3"/>
<text x="1226.3" y="1049.7" font-size="13.2" text-anchor="end" font-weight="bold" font-family="'Liberation Sans',Arial,sans-serif">0.000</text>
<line x1="1228.4" y1="1167.2" x2="1233.4" y2="1167.2" stroke="#000" stroke-width="1.3"/>
<text x="1226.3" y="1171.8" font-size="13.2" text-anchor="end" font-weight="bold" font-family="'Liberation Sans',Arial,sans-serif">-0.025</text>
<line x1="1230.4" y1="984.0" x2="1233.4" y2="984.0" stroke="#000" stroke-width="1.3"/>
<line x1="1230.4" y1="1106.1" x2="1233.4" y2="1106.1" stroke="#000" stroke-width="1.3"/>
<line x1="1258.3" y1="1167.4" x2="1258.3" y2="1172.4" stroke="#000" stroke-width="1.3"/>
<text x="1258.3" y="1184.1" font-size="12.8" text-anchor="middle" font-weight="bold" font-family="'Liberation Sans',Arial,sans-serif">1300</text>
<line x1="1282.3" y1="1167.4" x2="1282.3" y2="1170.4" stroke="#000" stroke-width="1.3"/>
<line x1="1306.3" y1="1167.4" x2="1306.3" y2="1172.4" stroke="#000" stroke-width="1.3"/>
<text x="1306.3" y="1184.1" font-size="12.8" text-anchor="middle" font-weight="bold" font-family="'Liberation Sans',Arial,sans-serif">1200</text>
<line x1="1330.4" y1="1167.4" x2="1330.4" y2="1170.4" stroke="#000" stroke-width="1.3"/>
<line x1="1354.4" y1="1167.4" x2="1354.4" y2="1172.4" stroke="#000" stroke-width="1.3"/>
<text x="1354.4" y="1184.1" font-size="12.8" text-anchor="middle" font-weight="bold" font-family="'Liberation Sans',Arial,sans-serif">1100</text>
<line x1="1378.4" y1="1167.4" x2="1378.4" y2="1170.4" stroke="#000" stroke-width="1.3"/>
<line x1="1402.4" y1="1167.4" x2="1402.4" y2="1172.4" stroke="#000" stroke-width="1.3"/>
<text x="1402.4" y="1184.1" font-size="12.8" text-anchor="middle" font-weight="bold" font-family="'Liberation Sans',Arial,sans-serif">1000</text>
<line x1="1426.4" y1="1167.4" x2="1426.4" y2="1170.4" stroke="#000" stroke-width="1.3"/>
<line x1="1450.5" y1="1167.4" x2="1450.5" y2="1172.4" stroke="#000" stroke-width="1.3"/>
<text x="1450.5" y="1184.1" font-size="12.8" text-anchor="middle" font-weight="bold" font-family="'Liberation Sans',Arial,sans-serif">900</text>
<line x1="1474.5" y1="1167.4" x2="1474.5" y2="1170.4" stroke="#000" stroke-width="1.3"/>
<line x1="1498.5" y1="1167.4" x2="1498.5" y2="1172.4" stroke="#000" stroke-width="1.3"/>
<text x="1498.5" y="1184.1" font-size="12.8" text-anchor="middle" font-weight="bold" font-family="'Liberation Sans',Arial,sans-serif">800</text>
<line x1="1522.5" y1="1167.4" x2="1522.5" y2="1170.4" stroke="#000" stroke-width="1.3"/>
<text x="1343.1" y="926.7" font-size="22.0" text-anchor="middle" font-weight="bold" font-family="'Liberation Serif','Times New Roman',serif">1124</text>
<text x="1367.2" y="949.9" font-size="22.0" text-anchor="middle" font-weight="bold" font-family="'Liberation Serif','Times New Roman',serif">1088</text>
<text x="1414.4" y="940.0" font-size="22.0" text-anchor="middle" font-weight="bold" font-family="'Liberation Serif','Times New Roman',serif">974</text>
<text x="1433.6" y="970.9" font-size="22.0" text-anchor="middle" font-weight="bold" font-family="'Liberation Serif','Times New Roman',serif">938</text>
<text x="1311.9" y="971.1" font-size="22.0" text-anchor="middle" font-weight="bold" font-family="'Liberation Serif','Times New Roman',serif">1187</text>
<text x="1289.3" y="1134.2" font-size="22.0" text-anchor="middle" font-weight="bold" font-family="'Liberation Serif','Times New Roman',serif">1103</text>
<path d="M1312.6,974.0 L1312.6,1010.2 M1307.4,993.2 L1312.6,1010.2 L1317.8,993.2" fill="none" stroke="#000" stroke-width="2.3" stroke-linecap="round" stroke-linejoin="miter"/>
<path d="M1341.8,927.5 L1341.8,991.2 M1336.6,974.2 L1341.8,991.2 L1347.0,974.2" fill="none" stroke="#000" stroke-width="2.3" stroke-linecap="round" stroke-linejoin="miter"/>
<path d="M1359.0,952.5 L1359.0,981.8 M1353.8,964.8 L1359.0,981.8 L1364.2,964.8" fill="none" stroke="#000" stroke-width="2.3" stroke-linecap="round" stroke-linejoin="miter"/>
<path d="M1414.7,943.9 L1414.7,1009.3 M1409.5,992.3 L1414.7,1009.3 L1419.9,992.3" fill="none" stroke="#000" stroke-width="2.3" stroke-linecap="round" stroke-linejoin="miter"/>
<path d="M1431.9,977.5 L1431.9,1015.4 M1426.7,998.4 L1431.9,1015.4 L1437.1,998.4" fill="none" stroke="#000" stroke-width="2.3" stroke-linecap="round" stroke-linejoin="miter"/>
<path d="M1317.7,1126.1 L1350.4,1126.1 M1333.4,1131.3 L1350.4,1126.1 L1333.4,1120.9" fill="none" stroke="#000" stroke-width="2.3" stroke-linecap="round" stroke-linejoin="miter"/>
</svg></body></html>
